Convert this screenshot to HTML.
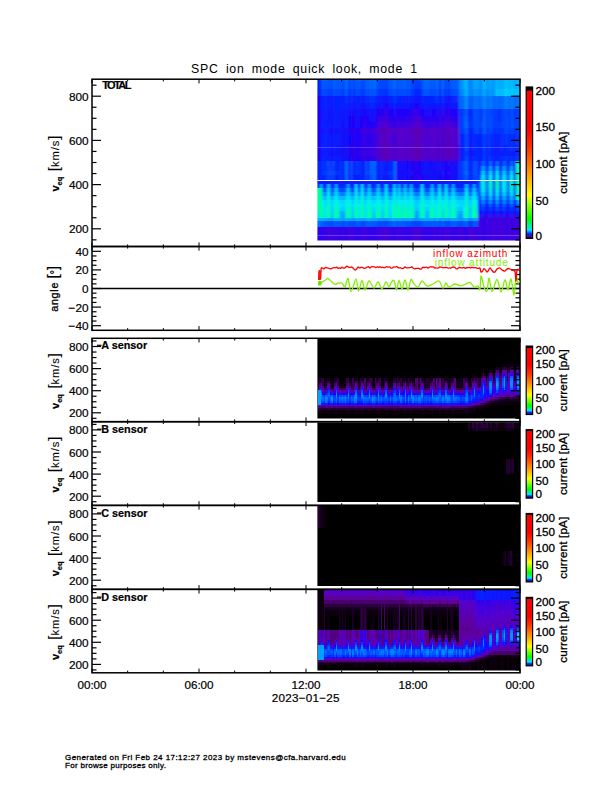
<!DOCTYPE html><html><head><meta charset="utf-8"><style>html,body{margin:0;padding:0;background:#fff;width:612px;height:792px;overflow:hidden;position:relative}</style></head><body><svg width="612" height="792" viewBox="0 0 612 792" style="position:absolute;left:0;top:0">
<rect width="612" height="792" fill="#fff"/>
<defs><filter id="sblur" x="-5%" y="-5%" width="110%" height="110%"><feGaussianBlur stdDeviation="0.85 0.65"/><feColorMatrix type="matrix" values="1 0 0 0 0 0 1 0 0 0 0 0 1 0 0 0 0 0 0 1"/></filter><filter id="sblur2" x="-5%" y="-5%" width="110%" height="110%"><feGaussianBlur stdDeviation="0.6 0.4"/><feColorMatrix type="matrix" values="1 0 0 0 0 0 1 0 0 0 0 0 1 0 0 0 0 0 0 1"/></filter></defs>
<clipPath id="cp1"><rect x="317.4" y="79.2" width="202.6" height="161.39999999999998"/></clipPath>
<g clip-path="url(#cp1)"><g filter="url(#sblur)">
<g transform="scale(0.5)" shape-rendering="crispEdges">
<path fill="#0028ff" d="M635 158h6v4h-6zM635 162h6v15h-6zM656 177h3v14h-3zM662 177h3v14h-3zM683 177h3v14h-3zM695 177h6v14h-6zM707 177h3v14h-3zM743 177h3v14h-3zM758 177h3v14h-3zM764 177h3v14h-3zM770 177h6v14h-6zM791 177h3v14h-3zM821 177h3v14h-3zM827 177h15v14h-15zM878 177h3v14h-3zM887 177h3v14h-3zM896 177h3v14h-3zM1040 177h0v14h0zM644 191h6v14h-6zM653 191h3v14h-3zM659 191h3v14h-3zM665 191h6v14h-6zM674 191h3v14h-3zM680 191h3v14h-3zM689 191h3v14h-3zM710 191h3v14h-3zM716 191h3v14h-3zM734 191h6v14h-6zM749 191h3v14h-3zM761 191h3v14h-3zM782 191h6v14h-6zM794 191h3v14h-3zM800 191h3v14h-3zM809 191h3v14h-3zM818 191h3v14h-3zM848 191h3v14h-3zM854 191h3v14h-3zM860 191h3v14h-3zM866 191h3v14h-3zM875 191h3v14h-3zM893 191h3v14h-3zM899 191h3v14h-3zM905 191h3v14h-3zM1040 191h0v14h0zM644 205h6v13h-6zM653 205h3v13h-3zM659 205h3v13h-3zM665 205h6v13h-6zM674 205h3v13h-3zM680 205h3v13h-3zM689 205h6v13h-6zM701 205h3v13h-3zM731 205h3v13h-3zM740 205h3v13h-3zM746 205h3v13h-3zM788 205h3v13h-3zM884 205h3v13h-3zM1040 205h0v13h0zM653 218h3v13h-3zM659 218h3v13h-3zM665 218h3v13h-3zM920 218h3v13h-3zM935 218h9v13h-9zM959 218h3v13h-3zM998 218h3v13h-3zM1028 218h3v13h-3zM1034 218h3v13h-3zM653 231h3v13h-3zM659 231h3v13h-3zM665 231h3v13h-3zM920 231h3v13h-3zM938 231h6v13h-6zM959 231h3v13h-3zM998 231h3v13h-3zM1034 231h3v13h-3zM644 244h3v12h-3zM653 244h3v12h-3zM659 244h3v12h-3zM665 244h3v12h-3zM920 244h3v12h-3zM938 244h3v12h-3zM959 244h3v12h-3zM998 244h3v12h-3zM1034 244h3v12h-3zM653 256h3v11h-3zM920 256h3v11h-3zM935 256h12v11h-12zM959 256h3v11h-3zM974 256h3v11h-3zM986 256h3v11h-3zM998 256h3v11h-3zM1004 256h3v11h-3zM1028 256h3v11h-3zM1034 256h3v11h-3zM644 267h6v12h-6zM653 267h3v12h-3zM659 267h3v12h-3zM665 267h3v12h-3zM923 267h6v12h-6zM950 267h9v12h-9zM962 267h3v12h-3zM980 267h3v12h-3zM989 267h9v12h-9zM1016 267h6v12h-6zM1025 267h3v12h-3zM1040 267h0v12h0zM644 279h6v11h-6zM653 279h3v11h-3zM659 279h3v11h-3zM665 279h3v11h-3zM923 279h6v11h-6zM950 279h9v11h-9zM962 279h3v11h-3zM980 279h3v11h-3zM989 279h9v11h-9zM1016 279h6v11h-6zM1025 279h3v11h-3zM1040 279h0v11h0zM644 290h3v11h-3zM653 290h3v11h-3zM659 290h3v11h-3zM665 290h3v11h-3zM917 290h3v11h-3zM923 290h6v11h-6zM950 290h9v11h-9zM962 290h3v11h-3zM971 290h3v11h-3zM980 290h6v11h-6zM995 290h3v11h-3zM1007 290h6v11h-6zM1025 290h3v11h-3zM653 301h3v10h-3zM917 301h3v10h-3zM923 301h3v10h-3zM947 301h9v10h-9zM971 301h3v10h-3zM983 301h3v10h-3zM1001 301h3v10h-3zM1007 301h9v10h-9zM1022 301h3v10h-3zM644 311h3v10h-3zM653 311h3v10h-3zM659 311h3v10h-3zM665 311h3v10h-3zM917 311h3v10h-3zM923 311h6v10h-6zM950 311h9v10h-9zM962 311h3v10h-3zM971 311h3v10h-3zM980 311h3v10h-3zM989 311h9v10h-9zM1025 311h3v10h-3zM635 321h9v10h-9zM647 321h6v10h-6zM668 321h12v10h-12zM686 321h3v10h-3zM713 321h3v10h-3zM719 321h9v10h-9zM734 321h3v10h-3zM752 321h6v10h-6zM767 321h3v10h-3zM776 321h9v10h-9zM920 321h3v10h-3zM938 321h6v10h-6zM974 321h3v10h-3zM983 321h3v10h-3zM1016 321h3v10h-3zM1025 321h3v10h-3zM635 331h3v10h-3zM641 331h3v10h-3zM647 331h6v10h-6zM668 331h12v10h-12zM686 331h3v10h-3zM719 331h6v10h-6zM734 331h3v10h-3zM752 331h6v10h-6zM767 331h3v10h-3zM776 331h9v10h-9zM920 331h3v10h-3zM935 331h9v10h-9zM959 331h3v10h-3zM998 331h6v10h-6zM635 341h9v9h-9zM650 341h3v9h-3zM671 341h3v9h-3zM677 341h3v9h-3zM686 341h3v9h-3zM704 341h3v9h-3zM713 341h3v9h-3zM719 341h9v9h-9zM752 341h6v9h-6zM767 341h3v9h-3zM779 341h3v9h-3zM920 341h3v9h-3zM938 341h3v9h-3zM956 341h3v9h-3zM971 341h3v9h-3zM1013 341h3v9h-3zM641 350h12v9h-12zM668 350h3v9h-3zM674 350h3v9h-3zM686 350h3v9h-3zM710 350h3v9h-3zM716 350h9v9h-9zM734 350h3v9h-3zM752 350h6v9h-6zM767 350h3v9h-3zM776 350h9v9h-9zM920 350h3v9h-3zM935 350h9v9h-9zM635 367h3v9h-3zM644 367h9v9h-9zM659 367h9v9h-9zM674 367h18v9h-18zM698 367h12v9h-12zM716 367h6v9h-6zM728 367h6v9h-6zM740 367h12v9h-12zM758 367h12v9h-12zM776 367h9v9h-9zM791 367h3v9h-3zM800 367h6v9h-6zM812 367h6v9h-6zM824 367h18v9h-18zM848 367h12v9h-12zM866 367h9v9h-9zM881 367h9v9h-9zM896 367h6v9h-6zM908 367h21v9h-21zM935 367h9v9h-9zM950 367h6v9h-6zM956 400h6v7h-6zM971 400h3v7h-3zM986 400h3v7h-3zM998 400h3v7h-3zM1028 400h3v7h-3zM1040 400h0v7h0zM974 407h3v7h-3zM983 407h3v7h-3zM1016 407h3v7h-3zM1025 407h3v7h-3zM968 414h3v7h-3zM989 414h3v7h-3zM1010 414h3v7h-3zM1031 414h3v7h-3zM965 421h3v7h-3zM977 421h6v7h-6zM992 421h6v7h-6zM1007 421h3v7h-3zM1019 421h6v7h-6zM1034 421h6v7h-6z"/>
<path fill="#005cff" d="M641 158h3v4h-3zM647 158h6v4h-6zM668 158h3v4h-3zM674 158h6v4h-6zM686 158h3v4h-3zM710 158h3v4h-3zM719 158h6v4h-6zM734 158h3v4h-3zM752 158h6v4h-6zM767 158h3v4h-3zM776 158h9v4h-9zM794 158h15v4h-15zM815 158h6v4h-6zM842 158h6v4h-6zM851 158h3v4h-3zM863 158h6v4h-6zM881 158h3v4h-3zM902 158h9v4h-9zM644 162h6v15h-6zM668 162h3v15h-3zM674 162h3v15h-3zM680 162h3v15h-3zM710 162h3v15h-3zM716 162h3v15h-3zM734 162h6v15h-6zM755 162h3v15h-3zM761 162h3v15h-3zM767 162h3v15h-3zM776 162h3v15h-3zM782 162h6v15h-6zM794 162h15v15h-15zM815 162h6v15h-6zM845 162h3v15h-3zM860 162h9v15h-9zM875 162h3v15h-3zM881 162h3v15h-3zM893 162h3v15h-3zM899 162h12v15h-12zM653 177h3v14h-3zM659 177h3v14h-3zM665 177h3v14h-3zM689 177h6v14h-6zM701 177h3v14h-3zM731 177h3v14h-3zM740 177h3v14h-3zM746 177h6v14h-6zM788 177h3v14h-3zM809 177h3v14h-3zM848 177h3v14h-3zM854 177h3v14h-3zM872 177h3v14h-3zM884 177h3v14h-3zM911 177h3v14h-3zM920 191h3v14h-3zM935 191h12v14h-12zM959 191h3v14h-3zM974 191h3v14h-3zM986 191h3v14h-3zM998 191h3v14h-3zM1004 191h3v14h-3zM1028 191h3v14h-3zM1034 191h3v14h-3zM920 205h3v13h-3zM935 205h12v13h-12zM959 205h3v13h-3zM974 205h3v13h-3zM986 205h3v13h-3zM998 205h3v13h-3zM1004 205h3v13h-3zM1028 205h3v13h-3zM1034 205h3v13h-3zM929 218h6v13h-6zM947 218h3v13h-3zM965 218h6v13h-6zM977 218h3v13h-3zM1022 218h3v13h-3zM1031 218h3v13h-3zM1037 218h3v13h-3zM932 231h3v13h-3zM947 231h3v13h-3zM968 231h3v13h-3zM977 231h3v13h-3zM1013 231h3v13h-3zM1022 231h3v13h-3zM1031 231h3v13h-3zM1037 231h3v13h-3zM947 244h3v12h-3zM968 244h3v12h-3zM977 244h3v12h-3zM1001 244h3v12h-3zM1013 244h3v12h-3zM1022 244h3v12h-3zM1031 244h3v12h-3zM1037 244h3v12h-3zM929 256h6v11h-6zM965 256h6v11h-6zM977 256h3v11h-3zM1031 256h3v11h-3zM1037 256h3v11h-3zM659 321h3v10h-3zM932 321h3v10h-3zM947 321h3v10h-3zM977 321h3v10h-3zM995 321h3v10h-3zM1019 321h3v10h-3zM653 331h3v10h-3zM659 331h3v10h-3zM665 331h3v10h-3zM749 331h3v10h-3zM932 331h3v10h-3zM947 331h3v10h-3zM989 331h3v10h-3zM947 341h3v9h-3zM974 341h3v9h-3zM1016 341h3v9h-3zM653 350h3v9h-3zM659 350h3v9h-3zM665 350h3v9h-3zM689 350h3v9h-3zM701 350h3v9h-3zM731 350h3v9h-3zM740 350h3v9h-3zM749 350h3v9h-3zM929 350h6v9h-6zM971 359h3v8h-3zM998 359h6v8h-6zM1013 359h3v8h-3zM638 367h3v9h-3zM668 367h3v9h-3zM692 367h3v9h-3zM734 367h3v9h-3zM752 367h3v9h-3zM794 367h3v9h-3zM806 367h3v9h-3zM818 367h3v9h-3zM860 367h3v9h-3zM902 367h3v9h-3zM944 367h3v9h-3zM956 367h3v9h-3zM971 367h3v9h-3zM998 367h6v9h-6zM1013 367h3v9h-3zM956 376h3v8h-3zM971 376h3v8h-3zM1001 376h3v8h-3zM1013 376h3v8h-3zM971 384h6v8h-6zM1001 384h3v8h-3zM1013 384h6v8h-6zM983 392h3v8h-3zM1025 392h3v8h-3zM968 400h3v7h-3zM1010 400h3v7h-3zM977 407h6v7h-6zM995 407h3v7h-3zM1019 407h6v7h-6zM1037 407h3v7h-3zM644 441h6v7h-6zM653 441h3v7h-3zM659 441h3v7h-3zM665 441h6v7h-6zM674 441h3v7h-3zM680 441h3v7h-3zM689 441h6v7h-6zM701 441h3v7h-3zM710 441h3v7h-3zM716 441h3v7h-3zM731 441h12v7h-12zM746 441h6v7h-6zM755 441h3v7h-3zM761 441h3v7h-3zM776 441h3v7h-3zM782 441h6v7h-6zM794 441h18v7h-18zM818 441h3v7h-3zM845 441h6v7h-6zM854 441h3v7h-3zM860 441h9v7h-9zM872 441h6v7h-6zM893 441h3v7h-3zM899 441h15v7h-15zM917 441h3v7h-3zM923 441h3v7h-3zM932 441h3v7h-3zM947 441h6v7h-6zM644 448h6v6h-6zM653 448h3v6h-3zM659 448h3v6h-3zM665 448h6v6h-6zM674 448h3v6h-3zM680 448h3v6h-3zM689 448h6v6h-6zM701 448h3v6h-3zM710 448h3v6h-3zM716 448h3v6h-3zM731 448h12v6h-12zM746 448h6v6h-6zM755 448h3v6h-3zM761 448h3v6h-3zM776 448h3v6h-3zM782 448h6v6h-6zM794 448h18v6h-18zM818 448h3v6h-3zM845 448h6v6h-6zM854 448h3v6h-3zM860 448h9v6h-9zM872 448h6v6h-6zM893 448h3v6h-3zM899 448h15v6h-15zM917 448h3v6h-3zM923 448h3v6h-3zM932 448h3v6h-3zM947 448h6v6h-6z"/>
<path fill="#006eff" d="M644 158h3v4h-3zM653 158h3v4h-3zM659 158h3v4h-3zM665 158h3v4h-3zM680 158h3v4h-3zM689 158h6v4h-6zM701 158h3v4h-3zM716 158h3v4h-3zM731 158h3v4h-3zM737 158h6v4h-6zM746 158h6v4h-6zM761 158h3v4h-3zM785 158h6v4h-6zM809 158h3v4h-3zM848 158h3v4h-3zM854 158h3v4h-3zM860 158h3v4h-3zM872 158h6v4h-6zM884 158h3v4h-3zM893 158h3v4h-3zM899 158h3v4h-3zM911 158h3v4h-3zM653 162h3v15h-3zM659 162h3v15h-3zM665 162h3v15h-3zM689 162h6v15h-6zM701 162h3v15h-3zM731 162h3v15h-3zM740 162h3v15h-3zM746 162h6v15h-6zM788 162h3v15h-3zM809 162h3v15h-3zM848 162h3v15h-3zM854 162h3v15h-3zM872 162h3v15h-3zM884 162h3v15h-3zM911 162h3v15h-3zM959 177h3v14h-3zM923 191h6v14h-6zM950 191h9v14h-9zM962 191h3v14h-3zM980 191h3v14h-3zM989 191h9v14h-9zM1016 191h6v14h-6zM1025 191h3v14h-3zM923 205h6v13h-6zM950 205h9v13h-9zM962 205h3v13h-3zM980 205h3v13h-3zM989 205h9v13h-9zM1016 205h6v13h-6zM1025 205h3v13h-3zM929 231h3v13h-3zM965 231h3v13h-3zM929 244h6v12h-6zM965 244h3v12h-3zM653 321h3v10h-3zM665 321h3v10h-3zM689 321h6v10h-6zM701 321h3v10h-3zM731 321h3v10h-3zM740 321h3v10h-3zM746 321h6v10h-6zM788 321h3v10h-3zM929 321h3v10h-3zM965 321h3v10h-3zM980 321h3v10h-3zM992 321h3v10h-3zM1007 321h3v10h-3zM1022 321h3v10h-3zM689 331h6v10h-6zM701 331h3v10h-3zM731 331h3v10h-3zM740 331h3v10h-3zM746 331h3v10h-3zM788 331h3v10h-3zM929 331h3v10h-3zM968 331h3v10h-3zM1010 331h3v10h-3zM653 341h3v9h-3zM659 341h3v9h-3zM665 341h3v9h-3zM689 341h6v9h-6zM701 341h3v9h-3zM731 341h3v9h-3zM740 341h3v9h-3zM746 341h6v9h-6zM788 341h3v9h-3zM929 341h6v9h-6zM983 341h3v9h-3zM1025 341h3v9h-3zM692 350h3v9h-3zM746 350h3v9h-3zM788 350h3v9h-3zM974 350h3v9h-3zM1016 350h3v9h-3zM707 376h3v8h-3zM719 376h3v8h-3zM767 376h3v8h-3zM839 376h3v8h-3zM887 376h3v8h-3zM974 376h3v8h-3zM1016 376h3v8h-3zM662 384h3v8h-3zM683 384h3v8h-3zM827 384h3v8h-3zM833 384h3v8h-3zM896 384h3v8h-3zM920 384h3v8h-3zM938 384h6v8h-6zM983 384h3v8h-3zM1025 384h3v8h-3zM989 392h3v8h-3zM962 400h3v7h-3zM1004 400h3v7h-3zM965 407h3v7h-3zM992 407h3v7h-3zM1007 407h3v7h-3zM1034 407h3v7h-3zM635 441h6v7h-6zM788 441h3v7h-3zM884 441h3v7h-3zM929 441h3v7h-3zM635 448h6v6h-6zM788 448h3v6h-3zM884 448h3v6h-3zM929 448h3v6h-3z"/>
<path fill="#003aff" d="M656 158h3v4h-3zM662 158h3v4h-3zM683 158h3v4h-3zM707 158h3v4h-3zM758 158h3v4h-3zM764 158h3v4h-3zM770 158h6v4h-6zM791 158h3v4h-3zM821 158h3v4h-3zM827 158h9v4h-9zM878 158h3v4h-3zM887 158h3v4h-3zM896 158h3v4h-3zM656 162h3v15h-3zM662 162h3v15h-3zM683 162h3v15h-3zM695 162h6v15h-6zM707 162h3v15h-3zM743 162h3v15h-3zM758 162h3v15h-3zM764 162h3v15h-3zM770 162h6v15h-6zM791 162h3v15h-3zM821 162h3v15h-3zM827 162h15v15h-15zM878 162h3v15h-3zM887 162h3v15h-3zM896 162h3v15h-3zM641 177h3v14h-3zM650 177h3v14h-3zM671 177h3v14h-3zM677 177h3v14h-3zM686 177h3v14h-3zM704 177h3v14h-3zM713 177h3v14h-3zM719 177h12v14h-12zM752 177h3v14h-3zM779 177h3v14h-3zM812 177h3v14h-3zM824 177h3v14h-3zM842 177h3v14h-3zM851 177h3v14h-3zM857 177h3v14h-3zM869 177h3v14h-3zM890 177h3v14h-3zM914 177h3v14h-3zM692 191h3v14h-3zM701 191h3v14h-3zM731 191h3v14h-3zM740 191h3v14h-3zM746 191h3v14h-3zM788 191h3v14h-3zM872 191h3v14h-3zM884 191h3v14h-3zM911 191h3v14h-3zM926 218h3v13h-3zM944 218h3v13h-3zM962 218h3v13h-3zM974 218h3v13h-3zM980 218h3v13h-3zM986 218h12v13h-12zM1004 218h3v13h-3zM1016 218h6v13h-6zM1025 218h3v13h-3zM935 231h3v13h-3zM944 231h3v13h-3zM962 231h3v13h-3zM974 231h3v13h-3zM986 231h12v13h-12zM1004 231h3v13h-3zM1016 231h6v13h-6zM1025 231h6v13h-6zM935 244h3v12h-3zM941 244h6v12h-6zM974 244h3v12h-3zM986 244h9v12h-9zM1004 244h3v12h-3zM1016 244h6v12h-6zM1028 244h3v12h-3zM926 256h3v11h-3zM956 256h3v11h-3zM962 256h3v11h-3zM980 256h3v11h-3zM989 256h9v11h-9zM1016 256h6v11h-6zM1025 256h3v11h-3zM917 267h3v12h-3zM947 267h3v12h-3zM968 267h6v12h-6zM983 267h3v12h-3zM1001 267h3v12h-3zM1007 267h9v12h-9zM1022 267h3v12h-3zM917 279h3v11h-3zM947 279h3v11h-3zM968 279h6v11h-6zM983 279h3v11h-3zM1001 279h3v11h-3zM1007 279h9v11h-9zM1022 279h3v11h-3zM947 290h3v11h-3zM968 290h3v11h-3zM1001 290h3v11h-3zM1013 290h3v11h-3zM1022 290h3v11h-3zM1031 290h3v11h-3zM1037 290h3v11h-3zM929 301h6v10h-6zM965 301h6v10h-6zM977 301h3v10h-3zM1031 301h3v10h-3zM1037 301h3v10h-3zM947 311h3v10h-3zM968 311h3v10h-3zM983 311h3v10h-3zM1001 311h3v10h-3zM1007 311h9v10h-9zM1022 311h3v10h-3zM644 321h3v10h-3zM680 321h3v10h-3zM710 321h3v10h-3zM716 321h3v10h-3zM737 321h3v10h-3zM761 321h3v10h-3zM785 321h3v10h-3zM935 321h3v10h-3zM944 321h3v10h-3zM989 321h3v10h-3zM644 331h3v10h-3zM680 331h3v10h-3zM710 331h3v10h-3zM716 331h3v10h-3zM737 331h3v10h-3zM761 331h3v10h-3zM785 331h3v10h-3zM926 331h3v10h-3zM944 331h3v10h-3zM974 331h3v10h-3zM1016 331h3v10h-3zM644 341h6v9h-6zM668 341h3v9h-3zM674 341h3v9h-3zM680 341h3v9h-3zM710 341h3v9h-3zM716 341h3v9h-3zM734 341h6v9h-6zM761 341h3v9h-3zM776 341h3v9h-3zM782 341h6v9h-6zM935 341h3v9h-3zM941 341h6v9h-6zM959 341h3v9h-3zM998 341h6v9h-6zM680 350h3v9h-3zM737 350h3v9h-3zM761 350h3v9h-3zM785 350h3v9h-3zM926 350h3v9h-3zM944 350h3v9h-3zM956 350h6v9h-6zM986 350h3v9h-3zM1028 350h3v9h-3zM959 384h3v8h-3zM959 392h3v8h-3zM986 392h3v8h-3zM998 392h3v8h-3zM1028 392h3v8h-3zM974 400h3v7h-3zM983 400h3v7h-3zM1001 400h3v7h-3zM1013 400h6v7h-6zM1025 400h3v7h-3zM968 407h3v7h-3zM989 407h3v7h-3zM1010 407h3v7h-3zM1031 407h3v7h-3zM962 414h3v7h-3zM977 414h6v7h-6zM995 414h3v7h-3zM1004 414h3v7h-3zM1019 414h6v7h-6zM1037 414h3v7h-3zM662 441h3v7h-3zM683 441h3v7h-3zM707 441h3v7h-3zM758 441h3v7h-3zM773 441h3v7h-3zM791 441h3v7h-3zM821 441h3v7h-3zM827 441h3v7h-3zM833 441h3v7h-3zM887 441h3v7h-3zM896 441h3v7h-3zM920 441h3v7h-3zM938 441h6v7h-6zM662 448h3v6h-3zM683 448h3v6h-3zM707 448h3v6h-3zM758 448h3v6h-3zM773 448h3v6h-3zM791 448h3v6h-3zM821 448h3v6h-3zM827 448h3v6h-3zM833 448h3v6h-3zM887 448h3v6h-3zM896 448h3v6h-3zM920 448h3v6h-3zM938 448h6v6h-6z"/>
<path fill="#004bff" d="M671 158h3v4h-3zM695 158h6v4h-6zM704 158h3v4h-3zM713 158h3v4h-3zM725 158h6v4h-6zM743 158h3v4h-3zM812 158h3v4h-3zM824 158h3v4h-3zM836 158h6v4h-6zM857 158h3v4h-3zM869 158h3v4h-3zM890 158h3v4h-3zM914 158h3v4h-3zM641 162h3v15h-3zM650 162h3v15h-3zM671 162h3v15h-3zM677 162h3v15h-3zM686 162h3v15h-3zM704 162h3v15h-3zM713 162h3v15h-3zM719 162h12v15h-12zM752 162h3v15h-3zM779 162h3v15h-3zM812 162h3v15h-3zM824 162h3v15h-3zM842 162h3v15h-3zM851 162h3v15h-3zM857 162h3v15h-3zM869 162h3v15h-3zM890 162h3v15h-3zM914 162h3v15h-3zM644 177h6v14h-6zM668 177h3v14h-3zM674 177h3v14h-3zM680 177h3v14h-3zM710 177h3v14h-3zM716 177h3v14h-3zM734 177h6v14h-6zM755 177h3v14h-3zM761 177h3v14h-3zM767 177h3v14h-3zM776 177h3v14h-3zM782 177h6v14h-6zM794 177h15v14h-15zM815 177h6v14h-6zM845 177h3v14h-3zM860 177h9v14h-9zM875 177h3v14h-3zM881 177h3v14h-3zM893 177h3v14h-3zM899 177h12v14h-12zM917 218h3v13h-3zM923 218h3v13h-3zM950 218h9v13h-9zM971 218h3v13h-3zM983 218h3v13h-3zM1001 218h3v13h-3zM1007 218h9v13h-9zM917 231h3v13h-3zM923 231h6v13h-6zM950 231h9v13h-9zM971 231h3v13h-3zM980 231h6v13h-6zM1001 231h3v13h-3zM1007 231h6v13h-6zM917 244h3v12h-3zM923 244h6v12h-6zM950 244h9v12h-9zM962 244h3v12h-3zM971 244h3v12h-3zM980 244h6v12h-6zM995 244h3v12h-3zM1007 244h6v12h-6zM1025 244h3v12h-3zM917 256h3v11h-3zM923 256h3v11h-3zM947 256h9v11h-9zM971 256h3v11h-3zM983 256h3v11h-3zM1001 256h3v11h-3zM1007 256h9v11h-9zM1022 256h3v11h-3zM929 267h6v12h-6zM965 267h3v12h-3zM977 267h3v12h-3zM1031 267h3v12h-3zM1037 267h3v12h-3zM929 279h6v11h-6zM965 279h3v11h-3zM977 279h3v11h-3zM1031 279h3v11h-3zM1037 279h3v11h-3zM929 290h6v11h-6zM965 290h3v11h-3zM977 290h3v11h-3zM929 311h6v10h-6zM965 311h3v10h-3zM977 311h3v10h-3zM1031 311h3v10h-3zM1037 311h3v10h-3zM917 321h3v10h-3zM923 321h6v10h-6zM950 321h6v10h-6zM962 321h3v10h-3zM968 321h3v10h-3zM1004 321h3v10h-3zM1010 321h3v10h-3zM917 331h3v10h-3zM923 331h3v10h-3zM950 331h6v10h-6zM983 331h3v10h-3zM1025 331h3v10h-3zM917 341h3v9h-3zM923 341h6v9h-6zM950 341h6v9h-6zM917 350h3v9h-3zM923 350h3v9h-3zM947 350h9v9h-9zM971 350h3v9h-3zM998 350h6v9h-6zM1013 350h3v9h-3zM956 359h6v8h-6zM986 359h3v8h-3zM1028 359h3v8h-3zM959 367h3v9h-3zM986 367h3v9h-3zM1028 367h3v9h-3zM647 376h6v8h-6zM659 376h9v8h-9zM677 376h15v8h-15zM701 376h6v8h-6zM716 376h3v8h-3zM728 376h6v8h-6zM743 376h9v8h-9zM761 376h6v8h-6zM776 376h9v8h-9zM791 376h3v8h-3zM803 376h3v8h-3zM815 376h3v8h-3zM827 376h12v8h-12zM848 376h12v8h-12zM869 376h6v8h-6zM881 376h6v8h-6zM896 376h6v8h-6zM911 376h18v8h-18zM935 376h9v8h-9zM953 376h3v8h-3zM959 376h3v8h-3zM986 376h3v8h-3zM998 376h3v8h-3zM1028 376h3v8h-3zM956 384h3v8h-3zM986 384h3v8h-3zM998 384h3v8h-3zM1028 384h3v8h-3zM956 392h3v8h-3zM971 392h6v8h-6zM1001 392h3v8h-3zM1013 392h6v8h-6zM989 400h3v7h-3zM1031 400h3v7h-3zM962 407h3v7h-3zM1004 407h3v7h-3zM965 414h3v7h-3zM992 414h3v7h-3zM1007 414h3v7h-3zM1034 414h3v7h-3zM641 441h3v7h-3zM650 441h3v7h-3zM656 441h3v7h-3zM671 441h3v7h-3zM677 441h3v7h-3zM686 441h3v7h-3zM695 441h6v7h-6zM704 441h3v7h-3zM713 441h3v7h-3zM719 441h12v7h-12zM743 441h3v7h-3zM752 441h3v7h-3zM764 441h9v7h-9zM779 441h3v7h-3zM812 441h6v7h-6zM824 441h3v7h-3zM830 441h3v7h-3zM836 441h9v7h-9zM851 441h3v7h-3zM857 441h3v7h-3zM869 441h3v7h-3zM878 441h6v7h-6zM890 441h3v7h-3zM914 441h3v7h-3zM926 441h3v7h-3zM935 441h3v7h-3zM944 441h3v7h-3zM953 441h3v7h-3zM641 448h3v6h-3zM650 448h3v6h-3zM656 448h3v6h-3zM671 448h3v6h-3zM677 448h3v6h-3zM686 448h3v6h-3zM695 448h6v6h-6zM704 448h3v6h-3zM713 448h3v6h-3zM719 448h12v6h-12zM743 448h3v6h-3zM752 448h3v6h-3zM764 448h9v6h-9zM779 448h3v6h-3zM812 448h6v6h-6zM824 448h3v6h-3zM830 448h3v6h-3zM836 448h9v6h-9zM851 448h3v6h-3zM857 448h3v6h-3zM869 448h3v6h-3zM878 448h6v6h-6zM890 448h3v6h-3zM914 448h3v6h-3zM926 448h3v6h-3zM935 448h3v6h-3zM944 448h3v6h-3zM953 448h3v6h-3z"/>
<path fill="#00a2ff" d="M917 158h3v4h-3zM923 158h6v4h-6zM950 158h9v4h-9zM962 158h3v4h-3zM971 158h3v4h-3zM980 158h6v4h-6zM998 158h3v4h-3zM1004 158h3v4h-3zM1028 158h3v4h-3zM1034 158h3v4h-3zM917 162h3v15h-3zM923 162h6v15h-6zM950 162h9v15h-9zM971 162h3v15h-3zM980 162h6v15h-6zM998 162h3v15h-3zM1004 162h3v15h-3zM1028 162h3v15h-3zM1034 162h3v15h-3zM947 177h3v14h-3zM968 177h3v14h-3zM983 177h3v14h-3zM977 331h6v10h-6zM1019 331h6v10h-6zM989 350h3v9h-3zM653 367h3v9h-3zM785 367h3v9h-3zM875 367h3v9h-3zM929 367h3v9h-3zM668 376h3v8h-3zM692 376h3v8h-3zM734 376h3v8h-3zM752 376h3v8h-3zM794 376h3v8h-3zM806 376h3v8h-3zM818 376h3v8h-3zM860 376h3v8h-3zM902 376h3v8h-3zM944 376h3v8h-3zM989 376h3v8h-3zM707 384h3v8h-3zM719 384h3v8h-3zM767 384h3v8h-3zM839 384h3v8h-3zM887 384h3v8h-3zM968 384h3v8h-3zM1010 384h3v8h-3zM833 392h3v8h-3zM995 392h3v8h-3zM965 400h3v7h-3zM992 400h3v7h-3zM1007 400h3v7h-3zM1034 400h3v7h-3zM683 421h3v7h-3zM830 421h6v7h-6zM920 421h3v7h-3zM686 428h3v7h-3zM779 428h3v7h-3zM851 428h3v7h-3zM914 428h6v7h-6zM923 428h3v7h-3zM641 435h3v6h-3zM650 435h3v6h-3zM671 435h3v6h-3zM677 435h3v6h-3zM686 435h3v6h-3zM695 435h6v6h-6zM704 435h3v6h-3zM713 435h3v6h-3zM719 435h12v6h-12zM743 435h3v6h-3zM752 435h6v6h-6zM767 435h3v6h-3zM776 435h6v6h-6zM797 435h3v6h-3zM803 435h6v6h-6zM812 435h6v6h-6zM824 435h3v6h-3zM836 435h12v6h-12zM851 435h3v6h-3zM857 435h3v6h-3zM863 435h9v6h-9zM881 435h3v6h-3zM890 435h3v6h-3zM902 435h3v6h-3zM908 435h3v6h-3zM914 435h6v6h-6zM923 435h6v6h-6zM950 435h6v6h-6z"/>
<path fill="#0080ff" d="M920 158h3v4h-3zM938 158h3v4h-3zM959 158h3v4h-3zM920 162h3v15h-3zM935 162h9v15h-9zM959 162h3v15h-3zM920 177h3v14h-3zM935 177h12v14h-12zM974 177h3v14h-3zM986 177h3v14h-3zM917 191h3v14h-3zM947 191h3v14h-3zM968 191h6v14h-6zM983 191h3v14h-3zM1001 191h3v14h-3zM1007 191h9v14h-9zM1022 191h3v14h-3zM917 205h3v13h-3zM947 205h3v13h-3zM968 205h6v13h-6zM983 205h3v13h-3zM1001 205h3v13h-3zM1007 205h9v13h-9zM1022 205h3v13h-3zM962 331h3v10h-3zM1004 331h3v10h-3zM989 341h3v9h-3zM983 350h3v9h-3zM1025 350h3v9h-3zM974 359h3v8h-3zM1016 359h3v8h-3zM713 367h3v9h-3zM725 367h3v9h-3zM773 367h3v9h-3zM845 367h3v9h-3zM893 367h3v9h-3zM974 367h3v9h-3zM1016 367h3v9h-3zM644 376h3v8h-3zM674 376h3v8h-3zM698 376h3v8h-3zM740 376h3v8h-3zM758 376h3v8h-3zM800 376h3v8h-3zM812 376h3v8h-3zM824 376h3v8h-3zM866 376h3v8h-3zM908 376h3v8h-3zM950 376h3v8h-3zM983 376h3v8h-3zM1025 376h3v8h-3zM647 384h6v8h-6zM659 384h3v8h-3zM665 384h3v8h-3zM677 384h6v8h-6zM686 384h6v8h-6zM701 384h6v8h-6zM716 384h3v8h-3zM728 384h6v8h-6zM743 384h9v8h-9zM761 384h6v8h-6zM776 384h9v8h-9zM791 384h3v8h-3zM803 384h3v8h-3zM815 384h3v8h-3zM830 384h3v8h-3zM836 384h3v8h-3zM848 384h12v8h-12zM869 384h6v8h-6zM881 384h6v8h-6zM899 384h3v8h-3zM911 384h9v8h-9zM923 384h6v8h-6zM935 384h3v8h-3zM953 384h3v8h-3zM968 392h3v8h-3zM1010 392h3v8h-3zM995 400h3v7h-3zM1037 400h3v7h-3z"/>
<path fill="#00c2ff" d="M929 158h6v4h-6zM965 158h3v4h-3zM977 158h3v4h-3zM1001 158h3v4h-3zM1007 158h9v4h-9zM929 162h3v15h-3zM965 162h3v15h-3zM1001 162h3v15h-3zM1007 162h9v15h-9zM1022 162h3v15h-3zM989 177h9v14h-9zM1016 177h6v14h-6zM1025 177h3v14h-3zM995 341h3v9h-3zM968 359h3v8h-3zM1010 359h3v8h-3zM656 367h3v9h-3zM788 367h3v9h-3zM878 367h3v9h-3zM932 367h3v9h-3zM968 367h3v9h-3zM1010 367h3v9h-3zM968 376h3v8h-3zM1010 376h3v8h-3zM668 384h3v8h-3zM692 384h3v8h-3zM734 384h3v8h-3zM752 384h3v8h-3zM794 384h3v8h-3zM806 384h3v8h-3zM818 384h3v8h-3zM860 384h3v8h-3zM902 384h3v8h-3zM944 384h3v8h-3zM962 384h3v8h-3zM1004 384h3v8h-3zM659 392h3v8h-3zM665 392h3v8h-3zM680 392h3v8h-3zM689 392h3v8h-3zM701 392h3v8h-3zM707 392h3v8h-3zM716 392h6v8h-6zM731 392h3v8h-3zM746 392h6v8h-6zM761 392h3v8h-3zM767 392h3v8h-3zM839 392h3v8h-3zM848 392h3v8h-3zM854 392h3v8h-3zM872 392h3v8h-3zM884 392h6v8h-6zM899 392h3v8h-3zM911 392h3v8h-3zM980 392h3v8h-3zM1022 392h3v8h-3zM662 414h3v7h-3zM833 414h3v7h-3zM920 414h3v7h-3zM938 414h3v7h-3zM704 421h3v7h-3zM746 421h3v7h-3zM764 421h3v7h-3zM836 421h3v7h-3zM884 421h3v7h-3zM704 428h3v7h-3zM764 428h3v7h-3zM836 428h3v7h-3zM884 428h3v7h-3z"/>
<path fill="#0091ff" d="M935 158h3v4h-3zM941 158h6v4h-6zM974 158h3v4h-3zM986 158h3v4h-3zM944 162h3v15h-3zM962 162h3v15h-3zM974 162h3v15h-3zM986 162h3v15h-3zM917 177h3v14h-3zM923 177h6v14h-6zM950 177h9v14h-9zM962 177h3v14h-3zM971 177h3v14h-3zM980 177h3v14h-3zM929 191h6v14h-6zM965 191h3v14h-3zM977 191h3v14h-3zM1031 191h3v14h-3zM1037 191h3v14h-3zM929 205h6v13h-6zM965 205h3v13h-3zM977 205h3v13h-3zM1031 205h3v13h-3zM1037 205h3v13h-3zM995 331h3v10h-3zM968 341h3v9h-3zM1010 341h3v9h-3zM983 359h3v8h-3zM1025 359h3v8h-3zM983 367h3v9h-3zM1025 367h3v9h-3zM989 384h3v8h-3zM962 392h3v8h-3zM1004 392h3v8h-3zM977 400h6v7h-6zM1019 400h6v7h-6zM683 428h3v7h-3zM830 428h6v7h-6zM920 428h3v7h-3zM656 435h3v6h-3zM662 435h3v6h-3zM683 435h3v6h-3zM707 435h3v6h-3zM758 435h3v6h-3zM764 435h3v6h-3zM770 435h6v6h-6zM791 435h3v6h-3zM821 435h3v6h-3zM827 435h9v6h-9zM878 435h3v6h-3zM887 435h3v6h-3zM896 435h3v6h-3zM920 435h3v6h-3zM935 435h12v6h-12z"/>
<path fill="#00b4ff" d="M947 158h3v4h-3zM968 158h3v4h-3zM989 158h9v4h-9zM1016 158h6v4h-6zM1025 158h3v4h-3zM932 162h3v15h-3zM947 162h3v15h-3zM968 162h3v15h-3zM977 162h3v15h-3zM989 162h9v15h-9zM1016 162h6v15h-6zM1025 162h3v15h-3zM929 177h6v14h-6zM965 177h3v14h-3zM977 177h3v14h-3zM998 177h3v14h-3zM1004 177h3v14h-3zM1028 177h3v14h-3zM1034 177h3v14h-3zM965 331h3v10h-3zM992 331h3v10h-3zM1007 331h3v10h-3zM962 341h3v9h-3zM1004 341h3v9h-3zM968 350h3v9h-3zM1010 350h3v9h-3zM989 359h3v8h-3zM989 367h3v9h-3zM713 376h3v8h-3zM725 376h3v8h-3zM773 376h3v8h-3zM845 376h3v8h-3zM893 376h3v8h-3zM644 384h3v8h-3zM674 384h3v8h-3zM698 384h3v8h-3zM740 384h3v8h-3zM758 384h3v8h-3zM800 384h3v8h-3zM812 384h3v8h-3zM824 384h3v8h-3zM866 384h3v8h-3zM908 384h3v8h-3zM950 384h3v8h-3zM647 392h6v8h-6zM662 392h3v8h-3zM677 392h3v8h-3zM683 392h6v8h-6zM704 392h3v8h-3zM728 392h3v8h-3zM743 392h3v8h-3zM764 392h3v8h-3zM776 392h9v8h-9zM791 392h3v8h-3zM803 392h3v8h-3zM815 392h3v8h-3zM827 392h6v8h-6zM836 392h3v8h-3zM851 392h3v8h-3zM857 392h3v8h-3zM869 392h3v8h-3zM881 392h3v8h-3zM896 392h3v8h-3zM914 392h15v8h-15zM935 392h9v8h-9zM953 392h3v8h-3zM977 392h3v8h-3zM1019 392h3v8h-3zM662 421h3v7h-3zM680 421h3v7h-3zM686 421h3v7h-3zM779 421h3v7h-3zM851 421h6v7h-6zM914 421h6v7h-6zM923 421h3v7h-3zM938 421h3v7h-3zM662 428h3v7h-3zM680 428h3v7h-3zM746 428h3v7h-3zM854 428h3v7h-3zM938 428h3v7h-3zM635 435h6v6h-6zM644 435h6v6h-6zM653 435h3v6h-3zM659 435h3v6h-3zM665 435h6v6h-6zM674 435h3v6h-3zM680 435h3v6h-3zM689 435h6v6h-6zM701 435h3v6h-3zM710 435h3v6h-3zM716 435h3v6h-3zM731 435h12v6h-12zM746 435h6v6h-6zM761 435h3v6h-3zM782 435h9v6h-9zM794 435h3v6h-3zM800 435h3v6h-3zM809 435h3v6h-3zM818 435h3v6h-3zM848 435h3v6h-3zM854 435h3v6h-3zM860 435h3v6h-3zM872 435h6v6h-6zM884 435h3v6h-3zM893 435h3v6h-3zM899 435h3v6h-3zM905 435h3v6h-3zM911 435h3v6h-3zM929 435h6v6h-6zM947 435h3v6h-3z"/>
<path fill="#00d0ff" d="M1022 158h3v4h-3zM1031 158h3v4h-3zM1037 158h3v4h-3zM1031 162h3v15h-3zM1037 162h3v15h-3zM1001 177h3v14h-3zM1007 177h9v14h-9zM1022 177h3v14h-3zM977 341h3v9h-3zM1019 341h3v9h-3zM962 350h3v9h-3zM1004 350h3v9h-3zM653 376h3v8h-3zM785 376h3v8h-3zM875 376h3v8h-3zM929 376h3v8h-3zM713 384h3v8h-3zM725 384h3v8h-3zM773 384h3v8h-3zM845 384h3v8h-3zM893 384h3v8h-3zM995 384h3v8h-3zM644 392h3v8h-3zM674 392h3v8h-3zM698 392h3v8h-3zM740 392h3v8h-3zM758 392h3v8h-3zM800 392h3v8h-3zM812 392h3v8h-3zM824 392h3v8h-3zM866 392h3v8h-3zM908 392h3v8h-3zM950 392h3v8h-3zM965 392h3v8h-3zM992 392h3v8h-3zM1007 392h3v8h-3zM662 400h3v7h-3zM683 400h3v7h-3zM704 400h3v7h-3zM728 400h3v7h-3zM743 400h3v7h-3zM764 400h3v7h-3zM791 400h3v7h-3zM827 400h12v7h-12zM857 400h3v7h-3zM869 400h3v7h-3zM896 400h3v7h-3zM914 400h3v7h-3zM920 400h3v7h-3zM926 400h3v7h-3zM935 400h9v7h-9zM662 407h3v7h-3zM683 407h3v7h-3zM827 407h9v7h-9zM896 407h3v7h-3zM920 407h3v7h-3zM938 407h6v7h-6zM677 414h3v7h-3zM683 414h6v7h-6zM704 414h3v7h-3zM743 414h3v7h-3zM764 414h3v7h-3zM779 414h3v7h-3zM803 414h3v7h-3zM815 414h3v7h-3zM827 414h6v7h-6zM836 414h3v7h-3zM851 414h3v7h-3zM857 414h3v7h-3zM869 414h3v7h-3zM914 414h6v7h-6zM923 414h3v7h-3zM941 414h3v7h-3zM953 414h3v7h-3zM647 421h3v7h-3zM677 421h3v7h-3zM701 421h3v7h-3zM743 421h3v7h-3zM761 421h3v7h-3zM827 421h3v7h-3zM869 421h3v7h-3zM911 421h3v7h-3zM953 421h3v7h-3zM647 428h3v7h-3zM677 428h3v7h-3zM701 428h3v7h-3zM743 428h3v7h-3zM761 428h3v7h-3zM827 428h3v7h-3zM869 428h3v7h-3zM911 428h3v7h-3zM953 428h3v7h-3z"/>
<path fill="#081efe" d="M1040 158h0v4h0zM1040 162h0v15h0zM635 177h6v14h-6zM641 191h3v14h-3zM650 191h3v14h-3zM671 191h3v14h-3zM677 191h3v14h-3zM686 191h3v14h-3zM704 191h3v14h-3zM713 191h3v14h-3zM719 191h9v14h-9zM752 191h6v14h-6zM767 191h3v14h-3zM776 191h6v14h-6zM797 191h3v14h-3zM803 191h6v14h-6zM812 191h6v14h-6zM824 191h3v14h-3zM842 191h6v14h-6zM851 191h3v14h-3zM857 191h3v14h-3zM863 191h3v14h-3zM881 191h3v14h-3zM902 191h3v14h-3zM908 191h3v14h-3zM914 191h3v14h-3zM641 205h3v13h-3zM650 205h3v13h-3zM671 205h3v13h-3zM677 205h3v13h-3zM686 205h3v13h-3zM710 205h3v13h-3zM716 205h3v13h-3zM734 205h6v13h-6zM749 205h3v13h-3zM761 205h3v13h-3zM785 205h3v13h-3zM809 205h3v13h-3zM848 205h3v13h-3zM854 205h3v13h-3zM860 205h3v13h-3zM872 205h6v13h-6zM893 205h3v13h-3zM899 205h3v13h-3zM905 205h3v13h-3zM911 205h3v13h-3zM644 218h6v13h-6zM668 218h3v13h-3zM674 218h3v13h-3zM680 218h3v13h-3zM689 218h6v13h-6zM701 218h3v13h-3zM1040 218h0v13h0zM641 231h12v13h-12zM668 231h3v13h-3zM674 231h3v13h-3zM680 231h3v13h-3zM689 231h6v13h-6zM1040 231h0v13h0zM641 244h3v12h-3zM647 244h6v12h-6zM668 244h3v12h-3zM674 244h3v12h-3zM680 244h3v12h-3zM689 244h6v12h-6zM1040 244h0v12h0zM644 256h6v11h-6zM659 256h3v11h-3zM665 256h3v11h-3zM1040 256h0v11h0zM641 267h3v12h-3zM650 267h3v12h-3zM668 267h3v12h-3zM674 267h3v12h-3zM680 267h3v12h-3zM920 267h3v12h-3zM935 267h12v12h-12zM959 267h3v12h-3zM974 267h3v12h-3zM986 267h3v12h-3zM998 267h3v12h-3zM1004 267h3v12h-3zM1028 267h3v12h-3zM1034 267h3v12h-3zM641 279h3v11h-3zM650 279h3v11h-3zM668 279h3v11h-3zM674 279h3v11h-3zM680 279h3v11h-3zM920 279h3v11h-3zM935 279h12v11h-12zM974 279h3v11h-3zM986 279h3v11h-3zM998 279h3v11h-3zM1004 279h3v11h-3zM1028 279h3v11h-3zM1034 279h3v11h-3zM641 290h3v11h-3zM647 290h6v11h-6zM668 290h3v11h-3zM935 290h3v11h-3zM941 290h6v11h-6zM974 290h3v11h-3zM986 290h9v11h-9zM1004 290h3v11h-3zM1016 290h6v11h-6zM1028 290h3v11h-3zM1040 290h0v11h0zM644 301h6v10h-6zM659 301h3v10h-3zM665 301h3v10h-3zM926 301h3v10h-3zM956 301h3v10h-3zM962 301h3v10h-3zM980 301h3v10h-3zM989 301h9v10h-9zM1016 301h6v10h-6zM1025 301h3v10h-3zM1040 301h0v10h0zM641 311h3v10h-3zM647 311h6v10h-6zM668 311h3v10h-3zM674 311h3v10h-3zM680 311h3v10h-3zM920 311h3v10h-3zM935 311h3v10h-3zM941 311h6v10h-6zM974 311h3v10h-3zM986 311h3v10h-3zM1004 311h3v10h-3zM1016 311h6v10h-6zM1028 311h3v10h-3zM1040 311h0v10h0zM656 321h3v10h-3zM695 321h6v10h-6zM704 321h3v10h-3zM728 321h3v10h-3zM743 321h3v10h-3zM764 321h3v10h-3zM770 321h3v10h-3zM959 321h3v10h-3zM971 321h3v10h-3zM998 321h6v10h-6zM1013 321h3v10h-3zM638 331h3v10h-3zM656 331h3v10h-3zM695 331h6v10h-6zM704 331h3v10h-3zM713 331h3v10h-3zM725 331h6v10h-6zM743 331h3v10h-3zM764 331h3v10h-3zM971 331h3v10h-3zM986 331h3v10h-3zM1013 331h3v10h-3zM1028 331h3v10h-3zM656 341h3v9h-3zM683 341h3v9h-3zM695 341h6v9h-6zM707 341h3v9h-3zM728 341h3v9h-3zM743 341h3v9h-3zM758 341h3v9h-3zM764 341h3v9h-3zM770 341h6v9h-6zM884 341h3v9h-3zM986 341h3v9h-3zM1028 341h3v9h-3zM635 350h6v9h-6zM671 350h3v9h-3zM677 350h3v9h-3zM695 350h6v9h-6zM704 350h3v9h-3zM713 350h3v9h-3zM725 350h6v9h-6zM743 350h3v9h-3zM635 359h321v8h-321zM956 407h6v7h-6zM971 407h3v7h-3zM998 407h6v7h-6zM1013 407h3v7h-3zM1040 407h0v7h0zM974 414h3v7h-3zM983 414h3v7h-3zM998 414h3v7h-3zM1016 414h3v7h-3zM1025 414h3v7h-3zM1040 414h0v7h0zM962 421h3v7h-3zM968 421h3v7h-3zM983 421h3v7h-3zM989 421h3v7h-3zM1004 421h3v7h-3zM1010 421h3v7h-3zM1025 421h3v7h-3zM1031 421h3v7h-3zM962 428h6v7h-6zM977 428h6v7h-6zM992 428h6v7h-6zM1004 428h6v7h-6zM1019 428h6v7h-6zM1034 428h6v7h-6z"/>
<path fill="#00ddff" d="M1031 177h3v14h-3zM1037 177h3v14h-3zM980 341h3v9h-3zM1022 341h3v9h-3zM995 350h3v9h-3zM641 367h3v9h-3zM671 367h3v9h-3zM695 367h3v9h-3zM710 367h3v9h-3zM722 367h3v9h-3zM737 367h3v9h-3zM755 367h3v9h-3zM770 367h3v9h-3zM797 367h3v9h-3zM809 367h3v9h-3zM821 367h3v9h-3zM842 367h3v9h-3zM863 367h3v9h-3zM890 367h3v9h-3zM905 367h3v9h-3zM947 367h3v9h-3zM656 376h3v8h-3zM788 376h3v8h-3zM878 376h3v8h-3zM932 376h3v8h-3zM962 376h3v8h-3zM1004 376h3v8h-3zM977 384h3v8h-3zM1019 384h3v8h-3zM668 392h3v8h-3zM692 392h3v8h-3zM734 392h3v8h-3zM752 392h3v8h-3zM794 392h3v8h-3zM806 392h3v8h-3zM818 392h3v8h-3zM860 392h3v8h-3zM902 392h3v8h-3zM944 392h3v8h-3zM647 400h6v7h-6zM659 400h3v7h-3zM665 400h3v7h-3zM677 400h6v7h-6zM686 400h6v7h-6zM701 400h3v7h-3zM707 400h3v7h-3zM716 400h6v7h-6zM731 400h3v7h-3zM746 400h6v7h-6zM761 400h3v7h-3zM767 400h3v7h-3zM776 400h9v7h-9zM803 400h3v7h-3zM815 400h3v7h-3zM839 400h3v7h-3zM848 400h9v7h-9zM872 400h3v7h-3zM881 400h3v7h-3zM887 400h3v7h-3zM899 400h3v7h-3zM911 400h3v7h-3zM917 400h3v7h-3zM923 400h3v7h-3zM953 400h3v7h-3zM647 407h6v7h-6zM677 407h3v7h-3zM686 407h3v7h-3zM704 407h3v7h-3zM728 407h3v7h-3zM743 407h3v7h-3zM764 407h3v7h-3zM776 407h6v7h-6zM791 407h3v7h-3zM803 407h3v7h-3zM815 407h3v7h-3zM836 407h3v7h-3zM851 407h3v7h-3zM857 407h3v7h-3zM869 407h3v7h-3zM881 407h3v7h-3zM914 407h6v7h-6zM923 407h6v7h-6zM935 407h3v7h-3zM953 407h3v7h-3zM647 414h3v7h-3zM665 414h3v7h-3zM680 414h3v7h-3zM689 414h3v7h-3zM701 414h3v7h-3zM716 414h3v7h-3zM728 414h6v7h-6zM746 414h6v7h-6zM761 414h3v7h-3zM776 414h3v7h-3zM848 414h3v7h-3zM854 414h3v7h-3zM884 414h3v7h-3zM896 414h6v7h-6zM911 414h3v7h-3zM635 421h3v7h-3zM665 421h3v7h-3zM689 421h3v7h-3zM716 421h3v7h-3zM728 421h6v7h-6zM749 421h3v7h-3zM776 421h3v7h-3zM803 421h3v7h-3zM815 421h3v7h-3zM848 421h3v7h-3zM857 421h3v7h-3zM896 421h6v7h-6zM941 421h3v7h-3zM635 428h3v7h-3zM665 428h3v7h-3zM689 428h3v7h-3zM716 428h3v7h-3zM728 428h6v7h-6zM749 428h3v7h-3zM776 428h3v7h-3zM803 428h3v7h-3zM815 428h3v7h-3zM848 428h3v7h-3zM857 428h3v7h-3zM896 428h6v7h-6zM941 428h3v7h-3z"/>
<path fill="#1e00fa" d="M635 191h6v14h-6zM635 205h6v13h-6zM770 205h6v13h-6zM791 205h3v13h-3zM821 205h3v13h-3zM827 205h9v13h-9zM887 205h3v13h-3zM896 205h3v13h-3zM635 218h6v13h-6zM683 218h3v13h-3zM707 218h3v13h-3zM728 218h3v13h-3zM752 218h6v13h-6zM767 218h3v13h-3zM776 218h9v13h-9zM794 218h15v13h-15zM812 218h9v13h-9zM842 218h6v13h-6zM851 218h3v13h-3zM863 218h6v13h-6zM881 218h3v13h-3zM902 218h3v13h-3zM908 218h3v13h-3zM635 231h6v13h-6zM683 231h3v13h-3zM695 231h6v13h-6zM704 231h3v13h-3zM713 231h3v13h-3zM719 231h9v13h-9zM734 231h3v13h-3zM761 231h3v13h-3zM788 231h3v13h-3zM809 231h3v13h-3zM848 231h3v13h-3zM854 231h3v13h-3zM872 231h3v13h-3zM884 231h3v13h-3zM911 231h3v13h-3zM635 244h6v12h-6zM683 244h3v12h-3zM695 244h6v12h-6zM704 244h3v12h-3zM713 244h3v12h-3zM719 244h6v12h-6zM734 244h9v12h-9zM746 244h3v12h-3zM635 256h6v11h-6zM662 256h3v11h-3zM710 256h3v11h-3zM716 256h3v11h-3zM635 267h6v12h-6zM683 267h3v12h-3zM695 267h6v12h-6zM704 267h3v12h-3zM710 267h3v12h-3zM716 267h3v12h-3zM731 267h3v12h-3zM635 279h6v11h-6zM683 279h3v11h-3zM695 279h6v11h-6zM704 279h3v11h-3zM710 279h3v11h-3zM716 279h3v11h-3zM731 279h3v11h-3zM635 290h6v11h-6zM683 290h3v11h-3zM710 290h3v11h-3zM716 290h3v11h-3zM731 290h3v11h-3zM635 301h6v10h-6zM662 301h3v10h-3zM710 301h3v10h-3zM635 311h6v10h-6zM683 311h3v10h-3zM695 311h3v10h-3zM710 311h3v10h-3zM716 311h3v10h-3zM731 311h3v10h-3zM812 321h3v10h-3zM824 321h3v10h-3zM836 321h6v10h-6zM857 321h3v10h-3zM869 321h3v10h-3zM890 321h3v10h-3zM914 321h3v10h-3zM956 321h3v10h-3zM986 321h3v10h-3zM1028 321h3v10h-3zM812 331h3v10h-3zM824 331h3v10h-3zM836 331h6v10h-6zM857 331h3v10h-3zM869 331h3v10h-3zM890 331h3v10h-3zM914 331h3v10h-3zM830 341h3v9h-3zM836 341h6v9h-6zM869 341h3v9h-3zM878 341h3v9h-3zM890 341h3v9h-3zM914 341h3v9h-3zM812 350h3v9h-3zM824 350h3v9h-3zM842 350h3v9h-3zM851 350h3v9h-3zM857 350h3v9h-3zM869 350h3v9h-3zM890 350h3v9h-3zM914 350h3v9h-3zM959 421h3v7h-3zM974 421h3v7h-3zM986 421h3v7h-3zM998 421h3v7h-3zM1028 421h3v7h-3z"/>
<path fill="#0f14fc" d="M656 191h3v14h-3zM683 191h3v14h-3zM695 191h6v14h-6zM728 191h3v14h-3zM743 191h3v14h-3zM758 191h3v14h-3zM764 191h3v14h-3zM770 191h6v14h-6zM791 191h3v14h-3zM821 191h3v14h-3zM827 191h6v14h-6zM836 191h6v14h-6zM869 191h3v14h-3zM878 191h3v14h-3zM890 191h3v14h-3zM656 205h3v13h-3zM695 205h6v13h-6zM704 205h3v13h-3zM713 205h3v13h-3zM719 205h12v13h-12zM752 205h6v13h-6zM767 205h3v13h-3zM776 205h9v13h-9zM794 205h15v13h-15zM812 205h9v13h-9zM824 205h3v13h-3zM842 205h6v13h-6zM851 205h3v13h-3zM863 205h6v13h-6zM881 205h3v13h-3zM902 205h3v13h-3zM908 205h3v13h-3zM641 218h3v13h-3zM650 218h3v13h-3zM671 218h3v13h-3zM677 218h3v13h-3zM686 218h3v13h-3zM710 218h3v13h-3zM716 218h3v13h-3zM731 218h3v13h-3zM737 218h6v13h-6zM746 218h6v13h-6zM884 218h3v13h-3zM671 231h3v13h-3zM677 231h3v13h-3zM686 231h3v13h-3zM701 231h3v13h-3zM656 244h3v12h-3zM671 244h3v12h-3zM677 244h3v12h-3zM701 244h3v12h-3zM641 256h3v11h-3zM650 256h3v11h-3zM668 256h3v11h-3zM674 256h3v11h-3zM680 256h3v11h-3zM689 256h6v11h-6zM656 267h3v12h-3zM671 267h3v12h-3zM677 267h3v12h-3zM689 267h6v12h-6zM701 267h3v12h-3zM656 279h3v11h-3zM671 279h3v11h-3zM677 279h3v11h-3zM689 279h6v11h-6zM701 279h3v11h-3zM959 279h3v11h-3zM656 290h3v11h-3zM671 290h6v11h-6zM680 290h3v11h-3zM689 290h6v11h-6zM920 290h3v11h-3zM938 290h3v11h-3zM959 290h3v11h-3zM998 290h3v11h-3zM1034 290h3v11h-3zM641 301h3v10h-3zM650 301h3v10h-3zM668 301h3v10h-3zM674 301h3v10h-3zM680 301h3v10h-3zM689 301h6v10h-6zM920 301h3v10h-3zM935 301h12v10h-12zM959 301h3v10h-3zM974 301h3v10h-3zM986 301h3v10h-3zM998 301h3v10h-3zM1004 301h3v10h-3zM1028 301h3v10h-3zM1034 301h3v10h-3zM656 311h3v10h-3zM671 311h3v10h-3zM677 311h3v10h-3zM689 311h6v10h-6zM701 311h3v10h-3zM938 311h3v10h-3zM959 311h3v10h-3zM998 311h3v10h-3zM1034 311h3v10h-3zM662 321h3v10h-3zM683 321h3v10h-3zM707 321h3v10h-3zM758 321h3v10h-3zM773 321h3v10h-3zM809 321h3v10h-3zM848 321h3v10h-3zM854 321h3v10h-3zM860 321h3v10h-3zM872 321h6v10h-6zM884 321h3v10h-3zM893 321h3v10h-3zM899 321h3v10h-3zM911 321h3v10h-3zM662 331h3v10h-3zM683 331h3v10h-3zM707 331h3v10h-3zM758 331h3v10h-3zM770 331h6v10h-6zM809 331h3v10h-3zM848 331h3v10h-3zM854 331h3v10h-3zM872 331h6v10h-6zM884 331h3v10h-3zM911 331h3v10h-3zM956 331h3v10h-3zM662 341h3v9h-3zM809 341h3v9h-3zM818 341h3v9h-3zM848 341h3v9h-3zM854 341h3v9h-3zM860 341h3v9h-3zM872 341h6v9h-6zM893 341h3v9h-3zM899 341h3v9h-3zM905 341h3v9h-3zM911 341h3v9h-3zM656 350h3v9h-3zM662 350h3v9h-3zM683 350h3v9h-3zM707 350h3v9h-3zM758 350h3v9h-3zM764 350h3v9h-3zM770 350h6v9h-6zM809 350h3v9h-3zM848 350h3v9h-3zM854 350h3v9h-3zM872 350h3v9h-3zM884 350h3v9h-3zM911 350h3v9h-3zM986 407h3v7h-3zM1028 407h3v7h-3z"/>
<path fill="#160afb" d="M662 191h3v14h-3zM707 191h3v14h-3zM833 191h3v14h-3zM887 191h3v14h-3zM896 191h3v14h-3zM662 205h3v13h-3zM683 205h3v13h-3zM707 205h3v13h-3zM743 205h3v13h-3zM758 205h3v13h-3zM764 205h3v13h-3zM836 205h6v13h-6zM857 205h3v13h-3zM869 205h3v13h-3zM878 205h3v13h-3zM890 205h3v13h-3zM914 205h3v13h-3zM656 218h3v13h-3zM662 218h3v13h-3zM695 218h6v13h-6zM704 218h3v13h-3zM713 218h3v13h-3zM719 218h9v13h-9zM734 218h3v13h-3zM761 218h3v13h-3zM785 218h6v13h-6zM809 218h3v13h-3zM848 218h3v13h-3zM854 218h3v13h-3zM860 218h3v13h-3zM872 218h6v13h-6zM893 218h3v13h-3zM899 218h3v13h-3zM905 218h3v13h-3zM911 218h3v13h-3zM656 231h3v13h-3zM662 231h3v13h-3zM710 231h3v13h-3zM716 231h3v13h-3zM731 231h3v13h-3zM737 231h6v13h-6zM746 231h6v13h-6zM662 244h3v12h-3zM686 244h3v12h-3zM710 244h3v12h-3zM716 244h3v12h-3zM731 244h3v12h-3zM656 256h3v11h-3zM671 256h3v11h-3zM677 256h3v11h-3zM686 256h3v11h-3zM701 256h3v11h-3zM662 267h3v12h-3zM686 267h3v12h-3zM662 279h3v11h-3zM686 279h3v11h-3zM662 290h3v11h-3zM677 290h3v11h-3zM686 290h3v11h-3zM701 290h3v11h-3zM656 301h3v10h-3zM671 301h3v10h-3zM677 301h3v10h-3zM686 301h3v10h-3zM701 301h3v10h-3zM662 311h3v10h-3zM686 311h3v10h-3zM794 321h15v10h-15zM815 321h6v10h-6zM842 321h6v10h-6zM851 321h3v10h-3zM863 321h6v10h-6zM881 321h3v10h-3zM902 321h9v10h-9zM794 331h15v10h-15zM815 331h6v10h-6zM842 331h6v10h-6zM851 331h3v10h-3zM860 331h9v10h-9zM881 331h3v10h-3zM893 331h3v10h-3zM899 331h12v10h-12zM794 341h15v9h-15zM812 341h6v9h-6zM824 341h3v9h-3zM842 341h6v9h-6zM851 341h3v9h-3zM857 341h3v9h-3zM863 341h6v9h-6zM881 341h3v9h-3zM902 341h3v9h-3zM908 341h3v9h-3zM794 350h15v9h-15zM815 350h6v9h-6zM845 350h3v9h-3zM860 350h9v9h-9zM875 350h3v9h-3zM881 350h3v9h-3zM893 350h3v9h-3zM899 350h12v9h-12zM956 414h6v7h-6zM971 414h3v7h-3zM986 414h3v7h-3zM1001 414h3v7h-3zM1013 414h3v7h-3zM1028 414h3v7h-3zM956 421h3v7h-3zM971 421h3v7h-3zM1001 421h3v7h-3zM1013 421h6v7h-6zM1040 421h0v7h0z"/>
<path fill="#2c00ef" d="M743 218h3v13h-3zM758 218h3v13h-3zM764 218h3v13h-3zM824 218h3v13h-3zM836 218h6v13h-6zM857 218h3v13h-3zM869 218h3v13h-3zM890 218h3v13h-3zM914 218h3v13h-3zM707 231h3v13h-3zM728 231h3v13h-3zM743 231h3v13h-3zM752 231h6v13h-6zM767 231h3v13h-3zM776 231h3v13h-3zM782 231h6v13h-6zM794 231h15v13h-15zM815 231h6v13h-6zM842 231h6v13h-6zM860 231h9v13h-9zM875 231h3v13h-3zM881 231h3v13h-3zM893 231h3v13h-3zM899 231h12v13h-12zM707 244h3v12h-3zM725 244h3v12h-3zM749 244h3v12h-3zM788 244h3v12h-3zM854 244h3v12h-3zM872 244h3v12h-3zM884 244h3v12h-3zM911 244h3v12h-3zM683 256h3v11h-3zM695 256h6v11h-6zM704 256h3v11h-3zM713 256h3v11h-3zM731 256h3v11h-3zM740 256h3v11h-3zM713 267h3v12h-3zM719 267h6v12h-6zM734 267h9v12h-9zM746 267h3v12h-3zM713 279h3v11h-3zM719 279h6v11h-6zM734 279h9v11h-9zM746 279h3v11h-3zM695 290h6v11h-6zM704 290h3v11h-3zM713 290h3v11h-3zM719 290h6v11h-6zM737 290h6v11h-6zM746 290h3v11h-3zM683 301h3v10h-3zM695 301h6v10h-6zM704 301h3v10h-3zM716 301h3v10h-3zM731 301h3v10h-3zM698 311h3v10h-3zM704 311h3v10h-3zM713 311h3v10h-3zM719 311h6v10h-6zM734 311h9v10h-9zM746 311h3v10h-3zM791 321h3v10h-3zM821 321h3v10h-3zM827 321h9v10h-9zM878 321h3v10h-3zM887 321h3v10h-3zM896 321h3v10h-3zM791 331h3v10h-3zM821 331h3v10h-3zM827 331h9v10h-9zM878 331h3v10h-3zM887 331h3v10h-3zM896 331h3v10h-3zM791 341h3v9h-3zM821 341h3v9h-3zM827 341h3v9h-3zM833 341h3v9h-3zM887 341h3v9h-3zM896 341h3v9h-3zM791 350h3v9h-3zM821 350h3v9h-3zM827 350h15v9h-15zM878 350h3v9h-3zM887 350h3v9h-3zM896 350h3v9h-3zM968 428h3v7h-3zM1013 428h3v7h-3zM1031 428h3v7h-3zM965 435h6v6h-6zM977 435h3v6h-3zM1013 435h3v6h-3zM1022 435h3v6h-3zM1031 435h3v6h-3zM1037 435h3v6h-3zM965 441h6v7h-6zM977 441h3v7h-3zM1013 441h3v7h-3zM1022 441h3v7h-3zM1031 441h3v7h-3zM1037 441h3v7h-3zM965 448h6v6h-6zM977 448h3v6h-3zM1013 448h3v6h-3zM1022 448h3v6h-3zM1031 448h3v6h-3zM1037 448h3v6h-3zM635 454h6v5h-6zM644 454h3v5h-3zM653 454h3v5h-3zM659 454h3v5h-3zM665 454h3v5h-3zM680 454h3v5h-3zM689 454h6v5h-6zM701 454h3v5h-3zM710 454h3v5h-3zM716 454h3v5h-3zM731 454h3v5h-3zM737 454h6v5h-6zM746 454h6v5h-6zM761 454h3v5h-3zM785 454h6v5h-6zM809 454h3v5h-3zM818 454h3v5h-3zM848 454h3v5h-3zM854 454h3v5h-3zM860 454h3v5h-3zM872 454h6v5h-6zM884 454h3v5h-3zM893 454h3v5h-3zM899 454h3v5h-3zM905 454h3v5h-3zM911 454h3v5h-3zM929 454h6v5h-6zM947 454h3v5h-3zM965 454h6v5h-6zM977 454h3v5h-3zM1013 454h3v5h-3zM1022 454h3v5h-3zM1031 454h3v5h-3zM1037 454h3v5h-3zM635 459h6v6h-6zM644 459h3v6h-3zM653 459h3v6h-3zM659 459h3v6h-3zM665 459h3v6h-3zM680 459h3v6h-3zM689 459h6v6h-6zM701 459h3v6h-3zM710 459h3v6h-3zM716 459h3v6h-3zM731 459h3v6h-3zM737 459h6v6h-6zM746 459h6v6h-6zM761 459h3v6h-3zM785 459h6v6h-6zM809 459h3v6h-3zM818 459h3v6h-3zM848 459h3v6h-3zM854 459h3v6h-3zM860 459h3v6h-3zM872 459h6v6h-6zM884 459h3v6h-3zM893 459h3v6h-3zM899 459h3v6h-3zM905 459h3v6h-3zM911 459h3v6h-3zM929 459h6v6h-6zM947 459h3v6h-3zM965 459h6v6h-6zM977 459h3v6h-3zM1013 459h3v6h-3zM1022 459h3v6h-3zM1031 459h3v6h-3zM1037 459h3v6h-3zM635 465h6v6h-6zM644 465h3v6h-3zM653 465h3v6h-3zM659 465h3v6h-3zM665 465h3v6h-3zM680 465h3v6h-3zM689 465h6v6h-6zM701 465h3v6h-3zM710 465h3v6h-3zM716 465h3v6h-3zM731 465h3v6h-3zM737 465h6v6h-6zM746 465h6v6h-6zM761 465h3v6h-3zM785 465h6v6h-6zM809 465h3v6h-3zM818 465h3v6h-3zM848 465h3v6h-3zM854 465h3v6h-3zM860 465h3v6h-3zM872 465h6v6h-6zM884 465h3v6h-3zM893 465h3v6h-3zM899 465h3v6h-3zM905 465h3v6h-3zM911 465h3v6h-3zM929 465h6v6h-6zM947 465h3v6h-3zM965 465h6v6h-6zM977 465h3v6h-3zM1013 465h3v6h-3zM1022 465h3v6h-3zM1031 465h3v6h-3zM1037 465h3v6h-3zM635 471h6v5h-6zM644 471h3v5h-3zM653 471h3v5h-3zM659 471h3v5h-3zM665 471h3v5h-3zM680 471h3v5h-3zM689 471h6v5h-6zM701 471h3v5h-3zM710 471h3v5h-3zM716 471h3v5h-3zM731 471h3v5h-3zM737 471h6v5h-6zM746 471h6v5h-6zM761 471h3v5h-3zM785 471h6v5h-6zM809 471h3v5h-3zM818 471h3v5h-3zM848 471h3v5h-3zM854 471h3v5h-3zM860 471h3v5h-3zM872 471h6v5h-6zM884 471h3v5h-3zM893 471h3v5h-3zM899 471h3v5h-3zM905 471h3v5h-3zM911 471h3v5h-3zM929 471h6v5h-6zM947 471h3v5h-3zM965 471h6v5h-6zM977 471h3v5h-3zM1013 471h3v5h-3zM1022 471h3v5h-3zM1031 471h3v5h-3zM1037 471h3v5h-3zM635 476h6v5h-6zM644 476h3v5h-3zM653 476h3v5h-3zM659 476h3v5h-3zM665 476h3v5h-3zM680 476h3v5h-3zM689 476h6v5h-6zM701 476h3v5h-3zM710 476h3v5h-3zM716 476h3v5h-3zM731 476h3v5h-3zM737 476h6v5h-6zM746 476h6v5h-6zM761 476h3v5h-3zM785 476h6v5h-6zM809 476h3v5h-3zM818 476h3v5h-3zM848 476h3v5h-3zM854 476h3v5h-3zM860 476h3v5h-3zM872 476h6v5h-6zM884 476h3v5h-3zM893 476h3v5h-3zM899 476h3v5h-3zM905 476h3v5h-3zM911 476h3v5h-3zM929 476h6v5h-6zM947 476h3v5h-3zM965 476h6v5h-6zM977 476h3v5h-3zM1013 476h3v5h-3zM1022 476h3v5h-3zM1031 476h3v5h-3zM1037 476h3v5h-3z"/>
<path fill="#3a00e4" d="M770 218h6v13h-6zM791 218h3v13h-3zM821 218h3v13h-3zM827 218h9v13h-9zM878 218h3v13h-3zM887 218h3v13h-3zM896 218h3v13h-3zM779 231h3v13h-3zM812 231h3v13h-3zM824 231h3v13h-3zM851 231h3v13h-3zM857 231h3v13h-3zM869 231h3v13h-3zM890 231h3v13h-3zM914 231h3v13h-3zM728 244h3v12h-3zM743 244h3v12h-3zM752 244h6v12h-6zM761 244h3v12h-3zM776 244h3v12h-3zM782 244h6v12h-6zM794 244h3v12h-3zM800 244h3v12h-3zM809 244h3v12h-3zM818 244h3v12h-3zM848 244h3v12h-3zM860 244h3v12h-3zM866 244h3v12h-3zM875 244h3v12h-3zM893 244h3v12h-3zM899 244h3v12h-3zM905 244h3v12h-3zM707 256h3v11h-3zM719 256h9v11h-9zM734 256h6v11h-6zM746 256h6v11h-6zM707 267h3v12h-3zM725 267h6v12h-6zM749 267h3v12h-3zM788 267h3v12h-3zM884 267h3v12h-3zM707 279h3v11h-3zM725 279h6v11h-6zM749 279h3v11h-3zM788 279h3v11h-3zM884 279h3v11h-3zM707 290h3v11h-3zM725 290h6v11h-6zM734 290h3v11h-3zM749 290h3v11h-3zM707 301h3v10h-3zM713 301h3v10h-3zM719 301h9v10h-9zM734 301h9v10h-9zM746 301h6v10h-6zM707 311h3v10h-3zM725 311h6v10h-6zM749 311h3v10h-3zM884 311h3v10h-3zM956 428h3v7h-3zM971 428h3v7h-3zM983 428h3v7h-3zM989 428h3v7h-3zM1001 428h3v7h-3zM1010 428h3v7h-3zM1025 428h3v7h-3zM956 435h3v6h-3zM962 435h3v6h-3zM971 435h3v6h-3zM980 435h6v6h-6zM989 435h9v6h-9zM1001 435h3v6h-3zM1007 435h6v6h-6zM1025 435h3v6h-3zM956 441h3v7h-3zM962 441h3v7h-3zM971 441h3v7h-3zM980 441h6v7h-6zM989 441h9v7h-9zM1001 441h3v7h-3zM1007 441h6v7h-6zM1025 441h3v7h-3zM956 448h3v6h-3zM962 448h3v6h-3zM971 448h3v6h-3zM980 448h6v6h-6zM989 448h9v6h-9zM1001 448h3v6h-3zM1007 448h6v6h-6zM1025 448h3v6h-3zM641 454h3v5h-3zM647 454h6v5h-6zM668 454h12v5h-12zM686 454h3v5h-3zM704 454h3v5h-3zM713 454h3v5h-3zM719 454h9v5h-9zM734 454h3v5h-3zM752 454h6v5h-6zM767 454h3v5h-3zM776 454h9v5h-9zM794 454h15v5h-15zM812 454h6v5h-6zM824 454h3v5h-3zM842 454h6v5h-6zM851 454h3v5h-3zM857 454h3v5h-3zM863 454h6v5h-6zM881 454h3v5h-3zM902 454h3v5h-3zM908 454h3v5h-3zM914 454h6v5h-6zM923 454h6v5h-6zM950 454h9v5h-9zM962 454h3v5h-3zM971 454h3v5h-3zM980 454h6v5h-6zM989 454h9v5h-9zM1001 454h3v5h-3zM1007 454h6v5h-6zM1025 454h3v5h-3zM641 459h3v6h-3zM647 459h6v6h-6zM668 459h12v6h-12zM686 459h3v6h-3zM704 459h3v6h-3zM713 459h3v6h-3zM719 459h9v6h-9zM734 459h3v6h-3zM752 459h6v6h-6zM767 459h3v6h-3zM776 459h9v6h-9zM794 459h15v6h-15zM812 459h6v6h-6zM824 459h3v6h-3zM842 459h6v6h-6zM851 459h3v6h-3zM857 459h3v6h-3zM863 459h6v6h-6zM881 459h3v6h-3zM902 459h3v6h-3zM908 459h3v6h-3zM914 459h6v6h-6zM923 459h6v6h-6zM950 459h9v6h-9zM962 459h3v6h-3zM971 459h3v6h-3zM980 459h6v6h-6zM989 459h9v6h-9zM1001 459h3v6h-3zM1007 459h6v6h-6zM1025 459h3v6h-3zM641 465h3v6h-3zM647 465h6v6h-6zM668 465h12v6h-12zM686 465h3v6h-3zM704 465h3v6h-3zM713 465h3v6h-3zM719 465h9v6h-9zM734 465h3v6h-3zM752 465h6v6h-6zM767 465h3v6h-3zM776 465h9v6h-9zM794 465h15v6h-15zM812 465h6v6h-6zM824 465h3v6h-3zM842 465h6v6h-6zM851 465h3v6h-3zM857 465h3v6h-3zM863 465h6v6h-6zM881 465h3v6h-3zM902 465h3v6h-3zM908 465h3v6h-3zM914 465h6v6h-6zM923 465h6v6h-6zM950 465h9v6h-9zM962 465h3v6h-3zM971 465h3v6h-3zM980 465h6v6h-6zM989 465h9v6h-9zM1001 465h3v6h-3zM1007 465h6v6h-6zM1025 465h3v6h-3zM641 471h3v5h-3zM647 471h6v5h-6zM668 471h12v5h-12zM686 471h3v5h-3zM704 471h3v5h-3zM713 471h3v5h-3zM719 471h9v5h-9zM734 471h3v5h-3zM752 471h6v5h-6zM767 471h3v5h-3zM776 471h9v5h-9zM794 471h15v5h-15zM812 471h6v5h-6zM824 471h3v5h-3zM842 471h6v5h-6zM851 471h3v5h-3zM857 471h3v5h-3zM863 471h6v5h-6zM881 471h3v5h-3zM902 471h3v5h-3zM908 471h3v5h-3zM914 471h6v5h-6zM923 471h6v5h-6zM950 471h9v5h-9zM962 471h3v5h-3zM971 471h3v5h-3zM980 471h6v5h-6zM989 471h9v5h-9zM1001 471h3v5h-3zM1007 471h6v5h-6zM1025 471h3v5h-3zM641 476h3v5h-3zM647 476h6v5h-6zM668 476h12v5h-12zM686 476h3v5h-3zM704 476h3v5h-3zM713 476h3v5h-3zM719 476h9v5h-9zM734 476h3v5h-3zM752 476h6v5h-6zM767 476h3v5h-3zM776 476h9v5h-9zM794 476h15v5h-15zM812 476h6v5h-6zM824 476h3v5h-3zM842 476h6v5h-6zM851 476h3v5h-3zM857 476h3v5h-3zM863 476h6v5h-6zM881 476h3v5h-3zM902 476h3v5h-3zM908 476h3v5h-3zM914 476h6v5h-6zM923 476h6v5h-6zM950 476h9v5h-9zM962 476h3v5h-3zM971 476h3v5h-3zM980 476h6v5h-6zM989 476h9v5h-9zM1001 476h3v5h-3zM1007 476h6v5h-6zM1025 476h3v5h-3z"/>
<path fill="#4700d8" d="M758 231h3v13h-3zM764 231h3v13h-3zM770 231h6v13h-6zM791 231h3v13h-3zM821 231h3v13h-3zM827 231h15v13h-15zM878 231h3v13h-3zM887 231h3v13h-3zM896 231h3v13h-3zM767 244h3v12h-3zM779 244h3v12h-3zM797 244h3v12h-3zM803 244h6v12h-6zM812 244h6v12h-6zM824 244h3v12h-3zM842 244h6v12h-6zM851 244h3v12h-3zM857 244h3v12h-3zM863 244h3v12h-3zM881 244h3v12h-3zM902 244h3v12h-3zM908 244h3v12h-3zM914 244h3v12h-3zM728 256h3v11h-3zM761 256h3v11h-3zM788 256h3v11h-3zM809 256h3v11h-3zM848 256h3v11h-3zM854 256h3v11h-3zM872 256h3v11h-3zM884 256h3v11h-3zM911 256h3v11h-3zM743 267h3v12h-3zM752 267h6v12h-6zM761 267h3v12h-3zM782 267h6v12h-6zM809 267h3v12h-3zM818 267h3v12h-3zM848 267h3v12h-3zM854 267h3v12h-3zM860 267h3v12h-3zM872 267h6v12h-6zM893 267h3v12h-3zM899 267h3v12h-3zM905 267h3v12h-3zM911 267h3v12h-3zM743 279h3v11h-3zM752 279h6v11h-6zM761 279h3v11h-3zM782 279h6v11h-6zM809 279h3v11h-3zM818 279h3v11h-3zM848 279h3v11h-3zM854 279h3v11h-3zM860 279h3v11h-3zM872 279h6v11h-6zM893 279h3v11h-3zM899 279h3v11h-3zM905 279h3v11h-3zM911 279h3v11h-3zM752 290h6v11h-6zM761 290h3v11h-3zM785 290h6v11h-6zM809 290h3v11h-3zM848 290h3v11h-3zM854 290h3v11h-3zM872 290h6v11h-6zM884 290h3v11h-3zM911 290h3v11h-3zM728 301h3v10h-3zM761 301h3v10h-3zM788 301h3v10h-3zM854 301h3v10h-3zM872 301h3v10h-3zM884 301h3v10h-3zM911 301h3v10h-3zM743 311h3v10h-3zM752 311h6v10h-6zM761 311h3v10h-3zM785 311h6v10h-6zM809 311h3v10h-3zM848 311h3v10h-3zM854 311h3v10h-3zM860 311h3v10h-3zM872 311h6v10h-6zM893 311h3v10h-3zM899 311h3v10h-3zM905 311h3v10h-3zM911 311h3v10h-3zM959 428h3v7h-3zM974 428h3v7h-3zM986 428h3v7h-3zM998 428h3v7h-3zM1016 428h3v7h-3zM1028 428h3v7h-3zM1040 428h0v7h0zM959 435h3v6h-3zM974 435h3v6h-3zM986 435h3v6h-3zM998 435h3v6h-3zM1004 435h3v6h-3zM1016 435h6v6h-6zM1028 435h3v6h-3zM1034 435h3v6h-3zM1040 435h0v6h0zM959 441h3v7h-3zM974 441h3v7h-3zM986 441h3v7h-3zM998 441h3v7h-3zM1004 441h3v7h-3zM1016 441h6v7h-6zM1028 441h3v7h-3zM1034 441h3v7h-3zM1040 441h0v7h0zM959 448h3v6h-3zM974 448h3v6h-3zM986 448h3v6h-3zM998 448h3v6h-3zM1004 448h3v6h-3zM1016 448h6v6h-6zM1028 448h3v6h-3zM1034 448h3v6h-3zM1040 448h0v6h0zM656 454h3v5h-3zM662 454h3v5h-3zM683 454h3v5h-3zM695 454h6v5h-6zM707 454h3v5h-3zM728 454h3v5h-3zM743 454h3v5h-3zM758 454h3v5h-3zM764 454h3v5h-3zM770 454h6v5h-6zM791 454h3v5h-3zM821 454h3v5h-3zM827 454h15v5h-15zM869 454h3v5h-3zM878 454h3v5h-3zM887 454h6v5h-6zM896 454h3v5h-3zM920 454h3v5h-3zM935 454h12v5h-12zM959 454h3v5h-3zM974 454h3v5h-3zM986 454h3v5h-3zM998 454h3v5h-3zM1004 454h3v5h-3zM1016 454h6v5h-6zM1028 454h3v5h-3zM1034 454h3v5h-3zM1040 454h0v5h0zM656 459h3v6h-3zM662 459h3v6h-3zM683 459h3v6h-3zM695 459h6v6h-6zM707 459h3v6h-3zM728 459h3v6h-3zM743 459h3v6h-3zM758 459h3v6h-3zM764 459h3v6h-3zM770 459h6v6h-6zM791 459h3v6h-3zM821 459h3v6h-3zM827 459h15v6h-15zM869 459h3v6h-3zM878 459h3v6h-3zM887 459h6v6h-6zM896 459h3v6h-3zM920 459h3v6h-3zM935 459h12v6h-12zM959 459h3v6h-3zM974 459h3v6h-3zM986 459h3v6h-3zM998 459h3v6h-3zM1004 459h3v6h-3zM1016 459h6v6h-6zM1028 459h3v6h-3zM1034 459h3v6h-3zM1040 459h0v6h0zM656 465h3v6h-3zM662 465h3v6h-3zM683 465h3v6h-3zM695 465h6v6h-6zM707 465h3v6h-3zM728 465h3v6h-3zM743 465h3v6h-3zM758 465h3v6h-3zM764 465h3v6h-3zM770 465h6v6h-6zM791 465h3v6h-3zM821 465h3v6h-3zM827 465h15v6h-15zM869 465h3v6h-3zM878 465h3v6h-3zM887 465h6v6h-6zM896 465h3v6h-3zM920 465h3v6h-3zM935 465h12v6h-12zM959 465h3v6h-3zM974 465h3v6h-3zM986 465h3v6h-3zM998 465h3v6h-3zM1004 465h3v6h-3zM1016 465h6v6h-6zM1028 465h3v6h-3zM1034 465h3v6h-3zM1040 465h0v6h0zM656 471h3v5h-3zM662 471h3v5h-3zM683 471h3v5h-3zM695 471h6v5h-6zM707 471h3v5h-3zM728 471h3v5h-3zM743 471h3v5h-3zM758 471h3v5h-3zM764 471h3v5h-3zM770 471h6v5h-6zM791 471h3v5h-3zM821 471h3v5h-3zM827 471h15v5h-15zM869 471h3v5h-3zM878 471h3v5h-3zM887 471h6v5h-6zM896 471h3v5h-3zM920 471h3v5h-3zM935 471h12v5h-12zM959 471h3v5h-3zM974 471h3v5h-3zM986 471h3v5h-3zM998 471h3v5h-3zM1004 471h3v5h-3zM1016 471h6v5h-6zM1028 471h3v5h-3zM1034 471h3v5h-3zM1040 471h0v5h0zM656 476h3v5h-3zM662 476h3v5h-3zM683 476h3v5h-3zM695 476h6v5h-6zM707 476h3v5h-3zM728 476h3v5h-3zM743 476h3v5h-3zM758 476h3v5h-3zM764 476h3v5h-3zM770 476h6v5h-6zM791 476h3v5h-3zM821 476h3v5h-3zM827 476h15v5h-15zM869 476h3v5h-3zM878 476h3v5h-3zM887 476h6v5h-6zM896 476h3v5h-3zM920 476h3v5h-3zM935 476h12v5h-12zM959 476h3v5h-3zM974 476h3v5h-3zM986 476h3v5h-3zM998 476h3v5h-3zM1004 476h3v5h-3zM1016 476h6v5h-6zM1028 476h3v5h-3zM1034 476h3v5h-3zM1040 476h0v5h0z"/>
<path fill="#5500cd" d="M758 244h3v12h-3zM764 244h3v12h-3zM770 244h6v12h-6zM791 244h3v12h-3zM821 244h3v12h-3zM827 244h6v12h-6zM836 244h6v12h-6zM869 244h3v12h-3zM878 244h3v12h-3zM887 244h6v12h-6zM743 256h3v11h-3zM752 256h6v11h-6zM767 256h3v11h-3zM776 256h3v11h-3zM782 256h6v11h-6zM794 256h15v11h-15zM815 256h6v11h-6zM845 256h3v11h-3zM860 256h9v11h-9zM875 256h3v11h-3zM881 256h3v11h-3zM893 256h3v11h-3zM899 256h12v11h-12zM767 267h3v12h-3zM776 267h6v12h-6zM794 267h15v12h-15zM812 267h6v12h-6zM824 267h3v12h-3zM842 267h6v12h-6zM851 267h3v12h-3zM863 267h6v12h-6zM881 267h3v12h-3zM902 267h3v12h-3zM908 267h3v12h-3zM767 279h3v11h-3zM776 279h6v11h-6zM794 279h15v11h-15zM812 279h6v11h-6zM824 279h3v11h-3zM842 279h6v11h-6zM851 279h3v11h-3zM863 279h6v11h-6zM881 279h3v11h-3zM902 279h3v11h-3zM908 279h3v11h-3zM743 290h3v11h-3zM767 290h3v11h-3zM776 290h9v11h-9zM794 290h15v11h-15zM815 290h6v11h-6zM842 290h6v11h-6zM851 290h3v11h-3zM860 290h9v11h-9zM881 290h3v11h-3zM893 290h3v11h-3zM899 290h12v11h-12zM743 301h3v10h-3zM752 301h6v10h-6zM782 301h6v10h-6zM794 301h3v10h-3zM800 301h3v10h-3zM809 301h3v10h-3zM818 301h3v10h-3zM848 301h3v10h-3zM860 301h3v10h-3zM866 301h3v10h-3zM875 301h3v10h-3zM893 301h3v10h-3zM899 301h3v10h-3zM905 301h3v10h-3zM767 311h3v10h-3zM776 311h9v10h-9zM794 311h15v10h-15zM812 311h9v10h-9zM842 311h6v10h-6zM851 311h3v10h-3zM863 311h6v10h-6zM881 311h3v10h-3zM902 311h3v10h-3zM908 311h3v10h-3z"/>
<path fill="#5800bf" d="M833 244h3v12h-3zM896 244h3v12h-3zM758 256h3v11h-3zM779 256h3v11h-3zM812 256h3v11h-3zM824 256h3v11h-3zM842 256h3v11h-3zM851 256h3v11h-3zM857 256h3v11h-3zM869 256h3v11h-3zM890 256h3v11h-3zM914 256h3v11h-3zM758 267h3v12h-3zM764 267h3v12h-3zM770 267h3v12h-3zM830 267h3v12h-3zM836 267h6v12h-6zM857 267h3v12h-3zM869 267h3v12h-3zM878 267h3v12h-3zM890 267h3v12h-3zM914 267h3v12h-3zM758 279h3v11h-3zM764 279h3v11h-3zM770 279h3v11h-3zM830 279h3v11h-3zM836 279h6v11h-6zM857 279h3v11h-3zM869 279h3v11h-3zM878 279h3v11h-3zM890 279h3v11h-3zM914 279h3v11h-3zM758 290h3v11h-3zM764 290h3v11h-3zM812 290h3v11h-3zM824 290h3v11h-3zM836 290h6v11h-6zM857 290h3v11h-3zM869 290h3v11h-3zM890 290h3v11h-3zM914 290h3v11h-3zM767 301h3v10h-3zM776 301h6v10h-6zM797 301h3v10h-3zM803 301h6v10h-6zM812 301h6v10h-6zM824 301h3v10h-3zM842 301h6v10h-6zM851 301h3v10h-3zM857 301h3v10h-3zM863 301h3v10h-3zM881 301h3v10h-3zM902 301h3v10h-3zM908 301h3v10h-3zM914 301h3v10h-3zM758 311h3v10h-3zM764 311h3v10h-3zM824 311h3v10h-3zM836 311h6v10h-6zM857 311h3v10h-3zM869 311h3v10h-3zM890 311h3v10h-3zM914 311h3v10h-3z"/>
<path fill="#5a00b2" d="M764 256h3v11h-3zM770 256h6v11h-6zM791 256h3v11h-3zM821 256h3v11h-3zM827 256h15v11h-15zM878 256h3v11h-3zM887 256h3v11h-3zM896 256h3v11h-3zM773 267h3v12h-3zM791 267h3v12h-3zM821 267h3v12h-3zM827 267h3v12h-3zM833 267h3v12h-3zM887 267h3v12h-3zM896 267h3v12h-3zM773 279h3v11h-3zM791 279h3v11h-3zM821 279h3v11h-3zM827 279h3v11h-3zM833 279h3v11h-3zM887 279h3v11h-3zM896 279h3v11h-3zM770 290h6v11h-6zM791 290h3v11h-3zM821 290h3v11h-3zM827 290h9v11h-9zM878 290h3v11h-3zM887 290h3v11h-3zM896 290h3v11h-3zM758 301h3v10h-3zM764 301h3v10h-3zM770 301h6v10h-6zM791 301h3v10h-3zM821 301h3v10h-3zM827 301h6v10h-6zM836 301h6v10h-6zM869 301h3v10h-3zM878 301h3v10h-3zM890 301h3v10h-3zM770 311h6v10h-6zM791 311h3v10h-3zM821 311h3v10h-3zM827 311h9v10h-9zM878 311h3v10h-3zM887 311h3v10h-3zM896 311h3v10h-3z"/>
<path fill="#5c00a4" d="M833 301h3v10h-3zM887 301h3v10h-3zM896 301h3v10h-3z"/>
<path fill="#00fab8" d="M1031 321h9v10h-9zM1031 331h9v10h-9zM1031 341h9v9h-9zM965 350h3v9h-3zM992 350h3v9h-3zM1007 350h3v9h-3zM1031 350h9v9h-9zM977 359h3v8h-3zM1019 359h3v8h-3zM1031 359h3v8h-3zM1037 359h3v8h-3zM977 367h3v9h-3zM1019 367h3v9h-3zM1031 367h3v9h-3zM1037 367h3v9h-3zM992 376h3v8h-3zM1031 376h9v8h-9zM1031 384h9v8h-9zM1031 392h9v8h-9zM653 407h6v7h-6zM671 407h3v7h-3zM695 407h3v7h-3zM710 407h6v7h-6zM722 407h6v7h-6zM737 407h3v7h-3zM755 407h3v7h-3zM770 407h6v7h-6zM785 407h6v7h-6zM797 407h3v7h-3zM809 407h3v7h-3zM821 407h3v7h-3zM842 407h6v7h-6zM863 407h3v7h-3zM875 407h6v7h-6zM890 407h6v7h-6zM905 407h3v7h-3zM929 407h6v7h-6zM947 407h3v7h-3zM668 414h3v7h-3zM692 414h3v7h-3zM734 414h3v7h-3zM752 414h3v7h-3zM794 414h3v7h-3zM806 414h3v7h-3zM818 414h3v7h-3zM860 414h3v7h-3zM902 414h3v7h-3zM944 414h3v7h-3zM644 421h3v7h-3zM674 421h3v7h-3zM698 421h3v7h-3zM740 421h3v7h-3zM758 421h3v7h-3zM800 421h3v7h-3zM812 421h3v7h-3zM824 421h3v7h-3zM866 421h3v7h-3zM908 421h3v7h-3zM950 421h3v7h-3zM644 428h3v7h-3zM674 428h3v7h-3zM698 428h3v7h-3zM740 428h3v7h-3zM758 428h3v7h-3zM800 428h3v7h-3zM812 428h3v7h-3zM824 428h3v7h-3zM866 428h3v7h-3zM908 428h3v7h-3zM950 428h3v7h-3z"/>
<path fill="#00ebff" d="M965 341h3v9h-3zM992 341h3v9h-3zM1007 341h3v9h-3zM962 359h3v8h-3zM1004 359h3v8h-3zM962 367h3v9h-3zM1004 367h3v9h-3zM671 376h3v8h-3zM695 376h3v8h-3zM710 376h3v8h-3zM722 376h3v8h-3zM737 376h3v8h-3zM755 376h3v8h-3zM770 376h3v8h-3zM797 376h3v8h-3zM809 376h3v8h-3zM821 376h3v8h-3zM842 376h3v8h-3zM863 376h3v8h-3zM890 376h3v8h-3zM905 376h3v8h-3zM947 376h3v8h-3zM995 376h3v8h-3zM653 384h3v8h-3zM785 384h3v8h-3zM875 384h3v8h-3zM929 384h3v8h-3zM980 384h3v8h-3zM1022 384h3v8h-3zM713 392h3v8h-3zM725 392h3v8h-3zM773 392h3v8h-3zM845 392h3v8h-3zM893 392h3v8h-3zM644 400h3v7h-3zM674 400h3v7h-3zM698 400h3v7h-3zM740 400h3v7h-3zM758 400h3v7h-3zM800 400h3v7h-3zM812 400h3v7h-3zM824 400h3v7h-3zM866 400h3v7h-3zM884 400h3v7h-3zM908 400h3v7h-3zM950 400h3v7h-3zM659 407h3v7h-3zM665 407h3v7h-3zM680 407h3v7h-3zM689 407h3v7h-3zM701 407h3v7h-3zM707 407h3v7h-3zM716 407h6v7h-6zM731 407h3v7h-3zM746 407h6v7h-6zM761 407h3v7h-3zM767 407h3v7h-3zM782 407h3v7h-3zM839 407h3v7h-3zM848 407h3v7h-3zM854 407h3v7h-3zM872 407h3v7h-3zM884 407h6v7h-6zM899 407h3v7h-3zM911 407h3v7h-3zM650 414h3v7h-3zM782 414h3v7h-3zM872 414h3v7h-3zM926 414h3v7h-3zM650 421h3v7h-3zM782 421h3v7h-3zM872 421h3v7h-3zM926 421h3v7h-3zM650 428h3v7h-3zM782 428h3v7h-3zM872 428h3v7h-3zM926 428h3v7h-3z"/>
<path fill="#00f0e7" d="M977 350h3v9h-3zM1019 350h3v9h-3zM995 359h3v8h-3zM995 367h3v9h-3zM656 384h3v8h-3zM671 384h3v8h-3zM695 384h3v8h-3zM710 384h3v8h-3zM722 384h3v8h-3zM737 384h3v8h-3zM755 384h3v8h-3zM770 384h3v8h-3zM788 384h3v8h-3zM797 384h3v8h-3zM809 384h3v8h-3zM821 384h3v8h-3zM842 384h3v8h-3zM863 384h3v8h-3zM878 384h3v8h-3zM890 384h3v8h-3zM905 384h3v8h-3zM932 384h3v8h-3zM947 384h3v8h-3zM965 384h3v8h-3zM992 384h3v8h-3zM1007 384h3v8h-3zM653 392h3v8h-3zM785 392h3v8h-3zM875 392h3v8h-3zM929 392h3v8h-3zM668 400h3v7h-3zM692 400h3v7h-3zM734 400h3v7h-3zM752 400h3v7h-3zM794 400h3v7h-3zM806 400h3v7h-3zM818 400h3v7h-3zM860 400h3v7h-3zM902 400h3v7h-3zM944 400h3v7h-3zM644 407h3v7h-3zM674 407h3v7h-3zM698 407h3v7h-3zM740 407h3v7h-3zM758 407h3v7h-3zM800 407h3v7h-3zM812 407h3v7h-3zM824 407h3v7h-3zM866 407h3v7h-3zM908 407h3v7h-3zM950 407h3v7h-3zM659 414h3v7h-3zM791 414h3v7h-3zM881 414h3v7h-3zM935 414h3v7h-3zM659 421h3v7h-3zM791 421h3v7h-3zM881 421h3v7h-3zM935 421h3v7h-3zM659 428h3v7h-3zM791 428h3v7h-3zM881 428h3v7h-3zM935 428h3v7h-3z"/>
<path fill="#00f5d0" d="M980 350h3v9h-3zM1022 350h3v9h-3zM977 376h6v8h-6zM1019 376h6v8h-6zM656 392h3v8h-3zM671 392h3v8h-3zM695 392h3v8h-3zM710 392h3v8h-3zM722 392h3v8h-3zM737 392h3v8h-3zM755 392h3v8h-3zM770 392h3v8h-3zM788 392h3v8h-3zM797 392h3v8h-3zM809 392h3v8h-3zM821 392h3v8h-3zM842 392h3v8h-3zM863 392h3v8h-3zM878 392h3v8h-3zM890 392h3v8h-3zM905 392h3v8h-3zM932 392h3v8h-3zM947 392h3v8h-3zM653 400h6v7h-6zM671 400h3v7h-3zM695 400h3v7h-3zM710 400h6v7h-6zM722 400h6v7h-6zM737 400h3v7h-3zM755 400h3v7h-3zM770 400h6v7h-6zM785 400h6v7h-6zM797 400h3v7h-3zM809 400h3v7h-3zM821 400h3v7h-3zM842 400h6v7h-6zM863 400h3v7h-3zM875 400h6v7h-6zM890 400h6v7h-6zM905 400h3v7h-3zM929 400h6v7h-6zM947 400h3v7h-3zM668 407h3v7h-3zM692 407h3v7h-3zM734 407h3v7h-3zM752 407h3v7h-3zM794 407h3v7h-3zM806 407h3v7h-3zM818 407h3v7h-3zM860 407h3v7h-3zM902 407h3v7h-3zM944 407h3v7h-3zM644 414h3v7h-3zM674 414h3v7h-3zM698 414h3v7h-3zM707 414h3v7h-3zM719 414h3v7h-3zM740 414h3v7h-3zM758 414h3v7h-3zM767 414h3v7h-3zM800 414h3v7h-3zM812 414h3v7h-3zM824 414h3v7h-3zM839 414h3v7h-3zM866 414h3v7h-3zM887 414h3v7h-3zM908 414h3v7h-3zM950 414h3v7h-3zM707 421h3v7h-3zM719 421h3v7h-3zM767 421h3v7h-3zM839 421h3v7h-3zM887 421h3v7h-3zM707 428h3v7h-3zM719 428h3v7h-3zM767 428h3v7h-3zM839 428h3v7h-3zM887 428h3v7h-3z"/>
<path fill="#00ff82" d="M965 359h3v8h-3zM992 359h3v8h-3zM1007 359h3v8h-3zM1034 359h3v8h-3zM965 367h3v9h-3zM992 367h3v9h-3zM1007 367h3v9h-3zM1034 367h3v9h-3z"/>
<path fill="#00ffa0" d="M980 359h3v8h-3zM1022 359h3v8h-3zM980 367h3v9h-3zM1022 367h3v9h-3zM635 376h9v8h-9zM965 376h3v8h-3zM1007 376h3v8h-3zM635 384h9v8h-9zM635 392h9v8h-9zM635 400h9v7h-9zM635 407h9v7h-9zM635 414h9v7h-9zM653 414h6v7h-6zM671 414h3v7h-3zM695 414h3v7h-3zM710 414h6v7h-6zM722 414h6v7h-6zM737 414h3v7h-3zM755 414h3v7h-3zM770 414h6v7h-6zM785 414h6v7h-6zM797 414h3v7h-3zM809 414h3v7h-3zM821 414h3v7h-3zM842 414h6v7h-6zM863 414h3v7h-3zM875 414h6v7h-6zM890 414h6v7h-6zM905 414h3v7h-3zM929 414h6v7h-6zM947 414h3v7h-3zM638 421h6v7h-6zM653 421h6v7h-6zM668 421h6v7h-6zM692 421h6v7h-6zM710 421h6v7h-6zM722 421h6v7h-6zM734 421h6v7h-6zM752 421h6v7h-6zM770 421h6v7h-6zM785 421h6v7h-6zM794 421h6v7h-6zM806 421h6v7h-6zM818 421h6v7h-6zM842 421h6v7h-6zM860 421h6v7h-6zM875 421h6v7h-6zM890 421h6v7h-6zM902 421h6v7h-6zM929 421h6v7h-6zM944 421h6v7h-6zM638 428h6v7h-6zM653 428h6v7h-6zM668 428h6v7h-6zM692 428h6v7h-6zM710 428h6v7h-6zM722 428h6v7h-6zM734 428h6v7h-6zM752 428h6v7h-6zM770 428h6v7h-6zM785 428h6v7h-6zM794 428h6v7h-6zM806 428h6v7h-6zM818 428h6v7h-6zM842 428h6v7h-6zM860 428h6v7h-6zM875 428h6v7h-6zM890 428h6v7h-6zM902 428h6v7h-6zM929 428h6v7h-6zM944 428h6v7h-6z"/>
</g>
</g></g>
<clipPath id="cp2"><rect x="317.4" y="338.3" width="202.6" height="80.30000000000001"/></clipPath>
<g clip-path="url(#cp2)"><g filter="url(#sblur2)">
<g transform="scale(0.5)" shape-rendering="crispEdges">
<path fill="#000000" d="M635 677h405v4h-405zM635 681h405v7h-405zM635 688h405v8h-405zM635 696h405v6h-405zM635 702h405v7h-405zM635 709h405v7h-405zM635 716h405v6h-405zM635 722h405v6h-405zM635 728h369v6h-369zM1013 728h3v6h-3zM1028 728h3v6h-3zM1040 728h0v6h0zM635 734h330v6h-330zM968 734h21v6h-21zM1028 734h3v6h-3zM635 740h327v6h-327zM968 740h9v6h-9zM986 740h3v6h-3zM635 746h309v5h-309zM953 746h9v5h-9zM971 746h3v5h-3zM635 751h3v5h-3zM644 751h9v5h-9zM659 751h9v5h-9zM674 751h18v5h-18zM698 751h12v5h-12zM716 751h6v5h-6zM728 751h6v5h-6zM740 751h12v5h-12zM758 751h12v5h-12zM776 751h9v5h-9zM791 751h3v5h-3zM800 751h6v5h-6zM812 751h6v5h-6zM824 751h18v5h-18zM848 751h12v5h-12zM866 751h9v5h-9zM881 751h9v5h-9zM896 751h6v5h-6zM908 751h21v5h-21zM935 751h9v5h-9zM953 751h6v5h-6zM665 756h3v5h-3zM677 756h12v5h-12zM716 756h3v5h-3zM746 756h3v5h-3zM761 756h3v5h-3zM776 756h6v5h-6zM803 756h3v5h-3zM827 756h3v5h-3zM869 756h3v5h-3zM911 756h3v5h-3zM923 756h3v5h-3zM938 756h3v5h-3zM995 809h45v3h-45zM980 812h60v4h-60zM968 816h72v3h-72zM959 819h3v3h-3zM968 819h72v3h-72zM950 822h90v3h-90zM635 825h3v4h-3zM644 825h9v4h-9zM659 825h9v4h-9zM674 825h18v4h-18zM698 825h12v4h-12zM716 825h6v4h-6zM728 825h6v4h-6zM740 825h12v4h-12zM758 825h12v4h-12zM776 825h9v4h-9zM791 825h3v4h-3zM800 825h6v4h-6zM812 825h6v4h-6zM824 825h18v4h-18zM848 825h12v4h-12zM866 825h9v4h-9zM881 825h9v4h-9zM896 825h6v4h-6zM908 825h21v4h-21zM935 825h105v4h-105zM635 829h405v3h-405zM635 832h405v2h-405zM635 834h405v3h-405z"/>
<path fill="#0b0010" d="M1004 728h9v6h-9zM1016 728h12v6h-12zM1031 728h9v6h-9zM965 734h3v6h-3zM989 734h3v6h-3zM998 734h6v6h-6zM1013 734h3v6h-3zM1040 734h0v6h0zM962 740h3v6h-3zM1013 740h3v6h-3zM1028 740h3v6h-3zM944 746h9v5h-9zM986 746h3v5h-3zM638 751h6v5h-6zM653 751h6v5h-6zM668 751h6v5h-6zM692 751h6v5h-6zM710 751h6v5h-6zM722 751h6v5h-6zM734 751h6v5h-6zM752 751h6v5h-6zM770 751h6v5h-6zM785 751h6v5h-6zM794 751h6v5h-6zM806 751h6v5h-6zM818 751h6v5h-6zM842 751h6v5h-6zM860 751h6v5h-6zM875 751h6v5h-6zM890 751h6v5h-6zM902 751h6v5h-6zM929 751h6v5h-6zM944 751h3v5h-3zM959 751h3v5h-3zM971 751h3v5h-3zM986 751h3v5h-3zM647 756h6v5h-6zM659 756h6v5h-6zM689 756h3v5h-3zM698 756h6v5h-6zM707 756h3v5h-3zM731 756h3v5h-3zM764 756h3v5h-3zM782 756h3v5h-3zM812 756h3v5h-3zM824 756h3v5h-3zM848 756h3v5h-3zM881 756h3v5h-3zM887 756h3v5h-3zM914 756h3v5h-3zM935 756h3v5h-3zM971 756h3v5h-3zM647 761h6v5h-6zM662 761h6v5h-6zM677 761h15v5h-15zM701 761h3v5h-3zM716 761h3v5h-3zM731 761h3v5h-3zM746 761h3v5h-3zM761 761h6v5h-6zM776 761h9v5h-9zM803 761h3v5h-3zM827 761h3v5h-3zM848 761h3v5h-3zM869 761h3v5h-3zM911 761h6v5h-6zM923 761h3v5h-3zM938 761h3v5h-3zM647 766h3v5h-3zM662 766h6v5h-6zM677 766h15v5h-15zM701 766h3v5h-3zM731 766h3v5h-3zM746 766h3v5h-3zM761 766h6v5h-6zM779 766h3v5h-3zM803 766h3v5h-3zM827 766h3v5h-3zM869 766h3v5h-3zM911 766h6v5h-6zM923 766h3v5h-3zM998 801h42v4h-42zM983 805h57v4h-57zM971 809h24v3h-24zM959 812h3v4h-3zM968 812h12v4h-12zM950 816h18v3h-18zM635 819h3v3h-3zM644 819h9v3h-9zM659 819h9v3h-9zM674 819h18v3h-18zM698 819h12v3h-12zM716 819h6v3h-6zM728 819h6v3h-6zM740 819h12v3h-12zM758 819h12v3h-12zM776 819h9v3h-9zM791 819h3v3h-3zM800 819h6v3h-6zM812 819h6v3h-6zM824 819h18v3h-18zM848 819h12v3h-12zM866 819h9v3h-9zM881 819h9v3h-9zM896 819h6v3h-6zM908 819h21v3h-21zM935 819h12v3h-12zM950 819h9v3h-9zM962 819h6v3h-6zM635 822h315v3h-315zM638 825h6v4h-6zM653 825h6v4h-6zM668 825h6v4h-6zM692 825h6v4h-6zM710 825h6v4h-6zM722 825h6v4h-6zM734 825h6v4h-6zM752 825h6v4h-6zM770 825h6v4h-6zM785 825h6v4h-6zM794 825h6v4h-6zM806 825h6v4h-6zM818 825h6v4h-6zM842 825h6v4h-6zM860 825h6v4h-6zM875 825h6v4h-6zM890 825h6v4h-6zM902 825h6v4h-6zM929 825h6v4h-6z"/>
<path fill="#160020" d="M992 734h6v6h-6zM1016 734h3v6h-3zM1025 734h3v6h-3zM965 740h3v6h-3zM977 740h9v6h-9zM998 740h6v6h-6zM962 746h3v5h-3zM968 746h3v5h-3zM974 746h3v5h-3zM1013 746h3v5h-3zM1028 746h3v5h-3zM947 751h6v5h-6zM1028 751h3v5h-3zM635 756h6v5h-6zM653 756h6v5h-6zM668 756h6v5h-6zM710 756h6v5h-6zM722 756h6v5h-6zM734 756h3v5h-3zM743 756h3v5h-3zM752 756h6v5h-6zM770 756h6v5h-6zM785 756h3v5h-3zM791 756h3v5h-3zM797 756h3v5h-3zM806 756h6v5h-6zM818 756h6v5h-6zM845 756h3v5h-3zM857 756h9v5h-9zM875 756h3v5h-3zM890 756h15v5h-15zM917 756h6v5h-6zM929 756h3v5h-3zM959 756h3v5h-3zM986 756h3v5h-3zM635 761h3v5h-3zM659 761h3v5h-3zM698 761h3v5h-3zM707 761h3v5h-3zM743 761h3v5h-3zM791 761h3v5h-3zM812 761h3v5h-3zM824 761h3v5h-3zM857 761h3v5h-3zM881 761h3v5h-3zM887 761h3v5h-3zM896 761h6v5h-6zM917 761h6v5h-6zM935 761h3v5h-3zM959 761h3v5h-3zM635 766h3v5h-3zM650 766h3v5h-3zM716 766h3v5h-3zM743 766h3v5h-3zM776 766h3v5h-3zM782 766h3v5h-3zM848 766h3v5h-3zM857 766h3v5h-3zM896 766h6v5h-6zM917 766h6v5h-6zM938 766h3v5h-3zM635 771h3v5h-3zM647 771h3v5h-3zM662 771h6v5h-6zM677 771h15v5h-15zM701 771h3v5h-3zM716 771h3v5h-3zM731 771h3v5h-3zM743 771h6v5h-6zM761 771h6v5h-6zM776 771h6v5h-6zM803 771h3v5h-3zM827 771h3v5h-3zM848 771h3v5h-3zM857 771h3v5h-3zM869 771h3v5h-3zM896 771h6v5h-6zM911 771h15v5h-15zM1004 797h36v4h-36zM986 801h12v4h-12zM974 805h9v4h-9zM968 809h3v3h-3zM950 812h9v4h-9zM962 812h6v4h-6zM935 816h12v3h-12zM638 819h3v3h-3zM653 819h6v3h-6zM668 819h3v3h-3zM692 819h3v3h-3zM710 819h6v3h-6zM722 819h6v3h-6zM734 819h3v3h-3zM752 819h3v3h-3zM770 819h6v3h-6zM785 819h6v3h-6zM794 819h3v3h-3zM806 819h3v3h-3zM818 819h3v3h-3zM842 819h6v3h-6zM860 819h3v3h-3zM875 819h6v3h-6zM890 819h6v3h-6zM902 819h3v3h-3zM929 819h6v3h-6zM947 819h3v3h-3z"/>
<path fill="#220031" d="M1004 734h3v6h-3zM1010 734h3v6h-3zM1031 734h3v6h-3zM989 740h3v6h-3zM1040 740h0v6h0zM1013 751h3v5h-3zM737 756h3v5h-3zM767 756h3v5h-3zM788 756h3v5h-3zM794 756h3v5h-3zM836 756h3v5h-3zM842 756h3v5h-3zM851 756h6v5h-6zM905 756h3v5h-3zM944 756h3v5h-3zM950 756h3v5h-3zM1028 756h3v5h-3zM638 761h3v5h-3zM668 761h3v5h-3zM713 761h3v5h-3zM725 761h3v5h-3zM734 761h3v5h-3zM752 761h3v5h-3zM767 761h3v5h-3zM773 761h3v5h-3zM794 761h3v5h-3zM806 761h3v5h-3zM818 761h3v5h-3zM836 761h3v5h-3zM845 761h3v5h-3zM851 761h6v5h-6zM860 761h3v5h-3zM893 761h3v5h-3zM902 761h3v5h-3zM971 761h3v5h-3zM659 766h3v5h-3zM791 766h3v5h-3zM836 766h3v5h-3zM851 766h6v5h-6zM881 766h3v5h-3zM935 766h3v5h-3zM959 766h3v5h-3zM650 771h3v5h-3zM782 771h3v5h-3zM836 771h3v5h-3zM851 771h6v5h-6zM938 771h3v5h-3zM995 797h9v4h-9zM980 801h6v4h-6zM968 805h6v4h-6zM959 809h9v3h-9zM944 812h3v4h-3zM635 816h6v3h-6zM644 816h12v3h-12zM659 816h12v3h-12zM674 816h21v3h-21zM698 816h12v3h-12zM713 816h9v3h-9zM725 816h12v3h-12zM740 816h15v3h-15zM758 816h12v3h-12zM773 816h15v3h-15zM791 816h6v3h-6zM800 816h9v3h-9zM812 816h9v3h-9zM824 816h18v3h-18zM845 816h18v3h-18zM866 816h12v3h-12zM881 816h9v3h-9zM893 816h12v3h-12zM908 816h27v3h-27zM947 816h3v3h-3zM641 819h3v3h-3zM671 819h3v3h-3zM695 819h3v3h-3zM737 819h3v3h-3zM755 819h3v3h-3zM797 819h3v3h-3zM809 819h3v3h-3zM821 819h3v3h-3zM863 819h3v3h-3zM905 819h3v3h-3z"/>
<path fill="#2d0041" d="M1007 734h3v6h-3zM1019 734h3v6h-3zM1037 734h3v6h-3zM965 746h3v5h-3zM983 746h3v5h-3zM998 746h6v5h-6zM962 751h3v5h-3zM974 751h3v5h-3zM641 756h6v5h-6zM674 756h3v5h-3zM692 756h3v5h-3zM719 756h3v5h-3zM800 756h3v5h-3zM815 756h3v5h-3zM884 756h3v5h-3zM932 756h3v5h-3zM941 756h3v5h-3zM956 756h3v5h-3zM1013 756h3v5h-3zM644 761h3v5h-3zM653 761h6v5h-6zM674 761h3v5h-3zM692 761h3v5h-3zM719 761h3v5h-3zM785 761h6v5h-6zM800 761h3v5h-3zM815 761h3v5h-3zM875 761h3v5h-3zM884 761h3v5h-3zM929 761h3v5h-3zM941 761h3v5h-3zM956 761h3v5h-3zM986 761h3v5h-3zM644 766h3v5h-3zM674 766h3v5h-3zM698 766h3v5h-3zM707 766h3v5h-3zM719 766h3v5h-3zM767 766h3v5h-3zM800 766h3v5h-3zM812 766h6v5h-6zM824 766h3v5h-3zM884 766h6v5h-6zM941 766h3v5h-3zM956 766h3v5h-3zM659 771h3v5h-3zM791 771h3v5h-3zM815 771h3v5h-3zM881 771h6v5h-6zM941 771h3v5h-3zM665 776h3v4h-3zM716 776h3v4h-3zM776 776h3v4h-3zM920 776h3v4h-3zM1004 793h36v4h-36zM989 797h6v4h-6zM977 801h3v4h-3zM953 809h6v3h-6zM938 812h6v4h-6zM947 812h3v4h-3zM641 816h3v3h-3zM656 816h3v3h-3zM671 816h3v3h-3zM695 816h3v3h-3zM710 816h3v3h-3zM722 816h3v3h-3zM737 816h3v3h-3zM755 816h3v3h-3zM770 816h3v3h-3zM788 816h3v3h-3zM797 816h3v3h-3zM809 816h3v3h-3zM821 816h3v3h-3zM842 816h3v3h-3zM863 816h3v3h-3zM878 816h3v3h-3zM890 816h3v3h-3zM905 816h3v3h-3z"/>
<path fill="#3a0056" d="M1022 734h3v6h-3zM1034 734h3v6h-3zM1016 740h3v6h-3zM1040 746h0v5h0zM968 751h3v5h-3zM1001 751h3v5h-3zM695 756h3v5h-3zM704 756h3v5h-3zM740 756h3v5h-3zM749 756h3v5h-3zM758 756h3v5h-3zM926 756h3v5h-3zM947 756h3v5h-3zM953 756h3v5h-3zM641 761h3v5h-3zM671 761h3v5h-3zM695 761h3v5h-3zM704 761h3v5h-3zM710 761h3v5h-3zM722 761h3v5h-3zM737 761h6v5h-6zM749 761h3v5h-3zM755 761h6v5h-6zM770 761h3v5h-3zM797 761h3v5h-3zM809 761h3v5h-3zM821 761h3v5h-3zM842 761h3v5h-3zM863 761h3v5h-3zM890 761h3v5h-3zM905 761h3v5h-3zM926 761h3v5h-3zM932 761h3v5h-3zM944 761h3v5h-3zM950 761h6v5h-6zM704 766h3v5h-3zM740 766h3v5h-3zM749 766h3v5h-3zM758 766h3v5h-3zM926 766h3v5h-3zM953 766h3v5h-3zM971 766h3v5h-3zM704 771h3v5h-3zM749 771h3v5h-3zM926 771h3v5h-3zM935 771h3v5h-3zM953 771h6v5h-6zM635 776h3v4h-3zM647 776h6v4h-6zM662 776h3v4h-3zM677 776h15v4h-15zM701 776h6v4h-6zM731 776h3v4h-3zM743 776h9v4h-9zM761 776h6v4h-6zM779 776h6v4h-6zM803 776h3v4h-3zM815 776h3v4h-3zM827 776h3v4h-3zM836 776h3v4h-3zM848 776h12v4h-12zM869 776h3v4h-3zM884 776h3v4h-3zM896 776h6v4h-6zM911 776h9v4h-9zM923 776h6v4h-6zM938 776h3v4h-3zM1001 793h3v4h-3zM986 797h3v4h-3zM974 801h3v4h-3zM962 805h6v4h-6zM950 809h3v3h-3zM935 812h3v4h-3z"/>
<path fill="#46006c" d="M992 740h3v6h-3zM1025 740h3v6h-3zM977 746h3v5h-3zM998 751h3v5h-3zM728 756h3v5h-3zM830 756h3v5h-3zM866 756h3v5h-3zM974 756h3v5h-3zM1001 756h3v5h-3zM728 761h3v5h-3zM830 761h3v5h-3zM866 761h3v5h-3zM1001 761h3v5h-3zM1013 761h3v5h-3zM1028 761h3v5h-3zM638 766h3v5h-3zM668 766h3v5h-3zM692 766h3v5h-3zM713 766h3v5h-3zM725 766h6v5h-6zM734 766h3v5h-3zM752 766h3v5h-3zM773 766h3v5h-3zM794 766h3v5h-3zM806 766h3v5h-3zM818 766h3v5h-3zM830 766h3v5h-3zM845 766h3v5h-3zM860 766h3v5h-3zM866 766h3v5h-3zM893 766h3v5h-3zM902 766h3v5h-3zM707 771h3v5h-3zM719 771h3v5h-3zM728 771h3v5h-3zM767 771h3v5h-3zM830 771h3v5h-3zM887 771h3v5h-3zM959 771h3v5h-3zM659 776h3v4h-3zM728 776h3v4h-3zM791 776h3v4h-3zM830 776h3v4h-3zM881 776h3v4h-3zM941 776h3v4h-3zM995 793h6v4h-6zM980 797h6v4h-6zM971 801h3v4h-3zM959 805h3v4h-3zM947 809h3v3h-3zM635 812h3v4h-3zM641 812h9v4h-9zM656 812h6v4h-6zM665 812h6v4h-6zM674 812h3v4h-3zM680 812h3v4h-3zM686 812h3v4h-3zM692 812h15v4h-15zM713 812h12v4h-12zM728 812h15v4h-15zM749 812h6v4h-6zM758 812h42v4h-42zM803 812h6v4h-6zM812 812h3v4h-3zM818 812h6v4h-6zM827 812h3v4h-3zM833 812h3v4h-3zM842 812h30v4h-30zM878 812h6v4h-6zM887 812h3v4h-3zM899 812h36v4h-36z"/>
<path fill="#520081" d="M995 740h3v6h-3zM1031 740h3v6h-3zM980 746h3v5h-3zM989 746h3v5h-3zM965 751h3v5h-3zM1040 751h0v5h0zM833 756h3v5h-3zM839 756h3v5h-3zM872 756h3v5h-3zM878 756h3v5h-3zM908 756h3v5h-3zM962 756h3v5h-3zM998 756h3v5h-3zM833 761h3v5h-3zM839 761h3v5h-3zM872 761h3v5h-3zM878 761h3v5h-3zM908 761h3v5h-3zM653 766h3v5h-3zM785 766h3v5h-3zM833 766h3v5h-3zM839 766h3v5h-3zM872 766h6v5h-6zM908 766h3v5h-3zM986 766h3v5h-3zM644 771h3v5h-3zM674 771h3v5h-3zM698 771h3v5h-3zM740 771h3v5h-3zM758 771h3v5h-3zM800 771h3v5h-3zM812 771h3v5h-3zM824 771h3v5h-3zM833 771h3v5h-3zM839 771h3v5h-3zM866 771h3v5h-3zM872 771h3v5h-3zM908 771h3v5h-3zM833 776h3v4h-3zM872 776h3v4h-3zM935 776h3v4h-3zM1013 789h6v4h-6zM1025 789h9v4h-9zM1040 789h0v4h0zM989 793h6v4h-6zM977 797h3v4h-3zM968 801h3v4h-3zM944 809h3v3h-3zM638 812h3v4h-3zM650 812h6v4h-6zM662 812h3v4h-3zM671 812h3v4h-3zM677 812h3v4h-3zM683 812h3v4h-3zM689 812h3v4h-3zM707 812h6v4h-6zM725 812h3v4h-3zM743 812h6v4h-6zM755 812h3v4h-3zM800 812h3v4h-3zM809 812h3v4h-3zM815 812h3v4h-3zM824 812h3v4h-3zM830 812h3v4h-3zM836 812h6v4h-6zM872 812h6v4h-6zM884 812h3v4h-3zM890 812h9v4h-9z"/>
<path fill="#5f0096" d="M1004 740h3v6h-3zM1010 740h3v6h-3zM1016 746h3v5h-3zM983 751h3v5h-3zM1040 756h0v5h0zM974 761h3v5h-3zM998 761h3v5h-3zM656 766h3v5h-3zM710 766h3v5h-3zM722 766h3v5h-3zM770 766h3v5h-3zM788 766h3v5h-3zM842 766h3v5h-3zM878 766h3v5h-3zM890 766h3v5h-3zM929 766h3v5h-3zM944 766h3v5h-3zM950 766h3v5h-3zM707 776h3v4h-3zM719 776h3v4h-3zM767 776h3v4h-3zM839 776h3v4h-3zM887 776h3v4h-3zM1001 789h6v4h-6zM1010 789h3v4h-3zM1019 789h6v4h-6zM1034 789h6v4h-6zM986 793h3v4h-3zM953 805h6v4h-6zM938 809h3v3h-3z"/>
<path fill="#5a00b2" d="M1007 740h3v6h-3zM1019 740h3v6h-3zM1037 740h3v6h-3zM1016 751h3v5h-3zM983 756h3v5h-3zM962 761h3v5h-3zM1013 766h3v5h-3zM1028 766h3v5h-3zM713 771h3v5h-3zM725 771h3v5h-3zM773 771h3v5h-3zM845 771h3v5h-3zM893 771h3v5h-3zM644 776h3v4h-3zM674 776h3v4h-3zM698 776h3v4h-3zM740 776h3v4h-3zM758 776h3v4h-3zM800 776h3v4h-3zM812 776h3v4h-3zM824 776h3v4h-3zM866 776h3v4h-3zM908 776h3v4h-3zM956 776h3v4h-3zM650 780h3v5h-3zM662 780h3v5h-3zM677 780h9v5h-9zM689 780h3v5h-3zM707 780h3v5h-3zM719 780h3v5h-3zM743 780h9v5h-9zM761 780h3v5h-3zM767 780h3v5h-3zM779 780h3v5h-3zM791 780h3v5h-3zM815 780h3v5h-3zM830 780h3v5h-3zM836 780h6v5h-6zM869 780h6v5h-6zM884 780h6v5h-6zM896 780h3v5h-3zM935 780h6v5h-6zM1013 785h6v4h-6zM1028 785h6v4h-6zM989 789h3v4h-3zM995 789h3v4h-3zM980 793h6v4h-6zM971 797h3v4h-3zM962 801h3v4h-3zM737 809h3v3h-3zM776 809h3v3h-3zM812 809h3v3h-3z"/>
<path fill="#5800bf" d="M1022 740h3v6h-3zM1034 740h3v6h-3zM965 756h3v5h-3zM1016 756h3v5h-3zM653 771h3v5h-3zM785 771h3v5h-3zM875 771h3v5h-3zM950 771h3v5h-3zM959 776h3v4h-3zM1016 780h3v5h-3zM1025 780h3v5h-3zM1001 785h3v4h-3zM1010 785h3v4h-3zM968 797h3v4h-3zM959 801h3v4h-3zM947 805h3v4h-3zM635 809h3v3h-3zM647 809h3v3h-3zM656 809h3v3h-3zM665 809h6v3h-6zM674 809h3v3h-3zM692 809h3v3h-3zM698 809h3v3h-3zM704 809h3v3h-3zM713 809h12v3h-12zM740 809h3v3h-3zM752 809h3v3h-3zM758 809h3v3h-3zM764 809h12v3h-12zM782 809h3v3h-3zM794 809h6v3h-6zM803 809h6v3h-6zM818 809h6v3h-6zM833 809h3v3h-3zM845 809h6v3h-6zM854 809h3v3h-3zM860 809h3v3h-3zM878 809h3v3h-3zM887 809h3v3h-3zM902 809h3v3h-3zM914 809h3v3h-3zM920 809h9v3h-9z"/>
<path fill="#4700d8" d="M992 746h6v5h-6zM1010 746h3v5h-3zM983 766h3v5h-3zM641 771h3v5h-3zM671 771h3v5h-3zM695 771h3v5h-3zM710 771h3v5h-3zM722 771h3v5h-3zM737 771h3v5h-3zM755 771h3v5h-3zM770 771h3v5h-3zM797 771h3v5h-3zM809 771h3v5h-3zM821 771h3v5h-3zM842 771h3v5h-3zM863 771h3v5h-3zM890 771h3v5h-3zM905 771h3v5h-3zM932 771h3v5h-3zM983 771h3v5h-3zM998 771h3v5h-3zM713 776h3v4h-3zM725 776h3v4h-3zM773 776h3v4h-3zM845 776h3v4h-3zM893 776h3v4h-3zM950 776h3v4h-3zM1001 776h3v4h-3zM1013 776h3v4h-3zM1028 776h3v4h-3zM998 780h3v5h-3zM1031 780h3v5h-3zM1019 785h6v4h-6zM974 793h3v4h-3zM953 801h6v4h-6zM938 805h3v4h-3zM650 809h3v3h-3zM662 809h3v3h-3zM689 809h3v3h-3zM707 809h6v3h-6zM743 809h3v3h-3zM755 809h3v3h-3zM809 809h3v3h-3zM815 809h3v3h-3zM824 809h3v3h-3zM836 809h3v3h-3zM884 809h3v3h-3zM893 809h6v3h-6z"/>
<path fill="#3a00e4" d="M1004 746h3v5h-3zM980 751h3v5h-3zM1025 756h3v5h-3zM968 761h3v5h-3zM1025 761h3v5h-3zM947 766h3v5h-3zM962 766h3v5h-3zM1025 766h3v5h-3zM1025 771h3v5h-3zM971 776h6v4h-6zM986 776h3v4h-3zM998 776h3v4h-3zM950 780h6v5h-6zM1010 780h3v5h-3zM986 785h3v4h-3zM1007 785h3v4h-3zM1034 785h3v4h-3zM983 789h3v4h-3zM971 793h3v4h-3zM965 797h3v4h-3zM950 801h3v4h-3zM941 805h3v4h-3z"/>
<path fill="#160afb" d="M1007 746h3v5h-3zM1019 746h3v5h-3zM1010 751h3v5h-3zM1031 756h3v5h-3zM989 761h3v5h-3zM968 766h3v5h-3zM989 766h3v5h-3zM962 771h3v5h-3zM989 771h3v5h-3zM1031 771h3v5h-3zM656 776h3v4h-3zM788 776h3v4h-3zM878 776h3v4h-3zM713 780h3v5h-3zM725 780h3v5h-3zM773 780h3v5h-3zM845 780h3v5h-3zM893 780h3v5h-3zM944 780h3v5h-3zM959 780h3v5h-3zM971 780h3v5h-3zM1004 780h3v5h-3zM644 785h3v4h-3zM677 785h9v4h-9zM746 785h6v4h-6zM761 785h3v4h-3zM779 785h3v4h-3zM791 785h3v4h-3zM800 785h3v4h-3zM830 785h3v4h-3zM839 785h3v4h-3zM869 785h6v4h-6zM884 785h3v4h-3zM908 785h3v4h-3zM968 785h3v4h-3zM992 785h3v4h-3zM968 789h6v4h-6zM977 789h3v4h-3zM950 797h6v4h-6zM938 801h3v4h-3zM944 801h6v4h-6zM647 805h3v4h-3zM668 805h3v4h-3zM692 805h3v4h-3zM704 805h3v4h-3zM734 805h3v4h-3zM740 805h3v4h-3zM758 805h3v4h-3zM767 805h9v4h-9zM794 805h6v4h-6zM803 805h3v4h-3zM818 805h6v4h-6zM827 805h3v4h-3zM833 805h3v4h-3zM842 805h3v4h-3zM848 805h9v4h-9zM863 805h3v4h-3zM878 805h6v4h-6zM887 805h3v4h-3zM902 805h3v4h-3zM914 805h6v4h-6zM923 805h3v4h-3z"/>
<path fill="#0f14fc" d="M1022 746h3v5h-3zM1034 746h3v5h-3zM977 756h3v5h-3zM1031 761h3v5h-3zM1031 766h3v5h-3zM968 771h3v5h-3zM710 776h3v4h-3zM722 776h3v4h-3zM770 776h3v4h-3zM842 776h3v4h-3zM890 776h3v4h-3zM932 776h3v4h-3zM962 776h3v4h-3zM968 776h3v4h-3zM1010 776h3v4h-3zM962 780h3v5h-3zM968 780h3v5h-3zM1019 780h3v5h-3zM650 785h3v4h-3zM662 785h3v4h-3zM689 785h3v4h-3zM707 785h3v4h-3zM743 785h3v4h-3zM815 785h3v4h-3zM824 785h3v4h-3zM836 785h3v4h-3zM896 785h3v4h-3zM944 785h3v4h-3zM950 785h6v4h-6zM971 785h3v4h-3zM965 793h3v4h-3zM956 797h3v4h-3zM641 805h6v4h-6zM659 805h3v4h-3zM671 805h3v4h-3zM677 805h12v4h-12zM695 805h3v4h-3zM701 805h3v4h-3zM725 805h9v4h-9zM749 805h3v4h-3zM761 805h3v4h-3zM779 805h3v4h-3zM785 805h9v4h-9zM800 805h3v4h-3zM830 805h3v4h-3zM839 805h3v4h-3zM857 805h3v4h-3zM866 805h12v4h-12zM890 805h3v4h-3zM899 805h3v4h-3zM905 805h9v4h-9zM929 805h6v4h-6z"/>
<path fill="#5c00a4" d="M1025 746h3v5h-3zM968 756h3v5h-3zM947 761h3v5h-3zM641 766h3v5h-3zM671 766h3v5h-3zM695 766h3v5h-3zM737 766h3v5h-3zM755 766h3v5h-3zM797 766h3v5h-3zM809 766h3v5h-3zM821 766h3v5h-3zM863 766h3v5h-3zM905 766h3v5h-3zM932 766h3v5h-3zM974 766h3v5h-3zM998 766h6v5h-6zM638 771h3v5h-3zM668 771h3v5h-3zM692 771h3v5h-3zM734 771h3v5h-3zM752 771h3v5h-3zM794 771h3v5h-3zM806 771h3v5h-3zM818 771h3v5h-3zM860 771h3v5h-3zM902 771h3v5h-3zM971 771h6v5h-6zM953 776h3v4h-3zM647 780h3v5h-3zM659 780h3v5h-3zM665 780h3v5h-3zM686 780h3v5h-3zM701 780h6v5h-6zM716 780h3v5h-3zM728 780h6v5h-6zM764 780h3v5h-3zM776 780h3v5h-3zM782 780h3v5h-3zM803 780h3v5h-3zM827 780h3v5h-3zM833 780h3v5h-3zM848 780h12v5h-12zM881 780h3v5h-3zM899 780h3v5h-3zM911 780h18v5h-18zM1025 785h3v4h-3zM998 789h3v4h-3zM1007 789h3v4h-3zM974 797h3v4h-3zM965 801h3v4h-3zM950 805h3v4h-3zM935 809h3v3h-3zM941 809h3v3h-3z"/>
<path fill="#5500cd" d="M1031 746h3v5h-3zM977 751h3v5h-3zM989 751h3v5h-3zM1025 751h3v5h-3zM983 761h3v5h-3zM1016 761h3v5h-3zM1016 766h3v5h-3zM656 771h3v5h-3zM788 771h3v5h-3zM878 771h3v5h-3zM929 771h3v5h-3zM944 771h3v5h-3zM986 771h3v5h-3zM1001 771h3v5h-3zM1013 771h6v5h-6zM1028 771h3v5h-3zM638 776h3v4h-3zM668 776h3v4h-3zM692 776h3v4h-3zM734 776h3v4h-3zM752 776h3v4h-3zM794 776h3v4h-3zM806 776h3v4h-3zM818 776h3v4h-3zM860 776h3v4h-3zM902 776h3v4h-3zM1016 776h3v4h-3zM1025 776h3v4h-3zM644 780h3v5h-3zM674 780h3v5h-3zM698 780h3v5h-3zM740 780h3v5h-3zM758 780h3v5h-3zM800 780h3v5h-3zM812 780h3v5h-3zM824 780h3v5h-3zM866 780h3v5h-3zM908 780h3v5h-3zM941 780h3v5h-3zM1001 780h3v5h-3zM1013 780h3v5h-3zM1028 780h3v5h-3zM989 785h3v4h-3zM998 785h3v4h-3zM1004 785h3v4h-3zM986 789h3v4h-3zM992 789h3v4h-3zM977 793h3v4h-3zM944 805h3v4h-3zM638 809h9v3h-9zM653 809h3v3h-3zM659 809h3v3h-3zM671 809h3v3h-3zM677 809h12v3h-12zM695 809h3v3h-3zM701 809h3v3h-3zM725 809h12v3h-12zM746 809h6v3h-6zM761 809h3v3h-3zM779 809h3v3h-3zM785 809h9v3h-9zM800 809h3v3h-3zM827 809h6v3h-6zM839 809h6v3h-6zM851 809h3v3h-3zM857 809h3v3h-3zM863 809h15v3h-15zM881 809h3v3h-3zM890 809h3v3h-3zM899 809h3v3h-3zM905 809h9v3h-9zM917 809h3v3h-3zM929 809h6v3h-6z"/>
<path fill="#1e00fa" d="M1037 746h3v5h-3zM965 761h3v5h-3zM653 776h3v4h-3zM785 776h3v4h-3zM875 776h3v4h-3zM929 776h3v4h-3zM989 776h3v4h-3zM1031 776h3v4h-3zM956 780h3v5h-3zM974 780h3v5h-3zM983 780h3v5h-3zM647 785h3v4h-3zM659 785h3v4h-3zM668 785h3v4h-3zM686 785h3v4h-3zM692 785h3v4h-3zM701 785h6v4h-6zM728 785h9v4h-9zM740 785h3v4h-3zM752 785h3v4h-3zM758 785h3v4h-3zM767 785h3v4h-3zM794 785h3v4h-3zM803 785h6v4h-6zM818 785h3v4h-3zM827 785h3v4h-3zM833 785h3v4h-3zM848 785h15v4h-15zM866 785h3v4h-3zM881 785h3v4h-3zM887 785h3v4h-3zM899 785h6v4h-6zM911 785h9v4h-9zM923 785h3v4h-3zM935 785h6v4h-6zM974 785h3v4h-3zM983 785h3v4h-3zM980 789h3v4h-3zM959 797h3v4h-3zM656 805h3v4h-3zM665 805h3v4h-3zM674 805h3v4h-3zM698 805h3v4h-3zM713 805h12v4h-12zM737 805h3v4h-3zM752 805h3v4h-3zM764 805h3v4h-3zM776 805h3v4h-3zM782 805h3v4h-3zM806 805h3v4h-3zM812 805h3v4h-3zM845 805h3v4h-3zM860 805h3v4h-3zM920 805h3v4h-3zM926 805h3v4h-3z"/>
<path fill="#0028ff" d="M992 751h3v5h-3zM980 756h3v5h-3zM1010 761h3v5h-3zM1010 766h3v5h-3zM1004 776h3v4h-3zM929 780h3v5h-3zM956 785h3v4h-3zM962 785h3v4h-3zM665 789h3v4h-3zM674 789h3v4h-3zM698 789h3v4h-3zM713 789h9v4h-9zM752 789h3v4h-3zM764 789h3v4h-3zM782 789h3v4h-3zM806 789h3v4h-3zM845 789h3v4h-3zM860 789h3v4h-3zM920 789h3v4h-3zM926 789h3v4h-3zM935 789h6v4h-6zM959 789h9v4h-9zM938 793h3v4h-3zM956 793h3v4h-3zM938 797h3v4h-3zM944 797h6v4h-6zM647 801h3v4h-3zM656 801h3v4h-3zM713 801h3v4h-3zM719 801h6v4h-6zM752 801h3v4h-3zM764 801h3v4h-3zM782 801h3v4h-3zM794 801h6v4h-6zM806 801h3v4h-3zM818 801h3v4h-3zM854 801h3v4h-3zM860 801h3v4h-3zM923 801h6v4h-6zM941 801h3v4h-3z"/>
<path fill="#081efe" d="M995 751h3v5h-3zM1004 751h3v5h-3zM1010 756h3v5h-3zM947 771h3v5h-3zM1010 771h3v5h-3zM641 776h3v4h-3zM671 776h3v4h-3zM695 776h3v4h-3zM737 776h3v4h-3zM755 776h3v4h-3zM797 776h3v4h-3zM809 776h3v4h-3zM821 776h3v4h-3zM863 776h3v4h-3zM905 776h3v4h-3zM653 780h3v5h-3zM785 780h3v5h-3zM875 780h3v5h-3zM995 780h3v5h-3zM1007 780h3v5h-3zM1022 780h3v5h-3zM1034 780h3v5h-3zM713 785h3v4h-3zM725 785h3v4h-3zM773 785h3v4h-3zM845 785h3v4h-3zM893 785h3v4h-3zM941 785h3v4h-3zM959 785h3v4h-3zM776 789h3v4h-3zM812 789h3v4h-3zM950 789h6v4h-6zM950 793h6v4h-6zM959 793h6v4h-6zM665 801h3v4h-3zM674 801h3v4h-3zM698 801h3v4h-3zM716 801h3v4h-3zM737 801h3v4h-3zM776 801h3v4h-3zM812 801h3v4h-3zM845 801h3v4h-3zM920 801h3v4h-3zM935 801h3v4h-3zM650 805h6v4h-6zM662 805h3v4h-3zM689 805h3v4h-3zM707 805h6v4h-6zM743 805h6v4h-6zM755 805h3v4h-3zM809 805h3v4h-3zM815 805h3v4h-3zM824 805h3v4h-3zM836 805h3v4h-3zM884 805h3v4h-3zM893 805h6v4h-6z"/>
<path fill="#005cff" d="M1007 751h3v5h-3zM1022 751h3v5h-3zM1034 751h3v5h-3zM977 761h3v5h-3zM1004 761h3v5h-3zM1004 766h3v5h-3zM947 776h3v4h-3zM1022 776h3v4h-3zM1034 776h3v4h-3zM641 780h3v5h-3zM671 780h3v5h-3zM695 780h3v5h-3zM710 780h3v5h-3zM722 780h3v5h-3zM737 780h3v5h-3zM755 780h3v5h-3zM770 780h3v5h-3zM797 780h3v5h-3zM809 780h3v5h-3zM821 780h3v5h-3zM842 780h3v5h-3zM863 780h3v5h-3zM890 780h3v5h-3zM905 780h3v5h-3zM656 785h3v4h-3zM788 785h3v4h-3zM878 785h3v4h-3zM965 785h3v4h-3zM653 789h3v4h-3zM677 789h3v4h-3zM683 789h3v4h-3zM725 789h3v4h-3zM746 789h3v4h-3zM800 789h3v4h-3zM815 789h3v4h-3zM830 789h3v4h-3zM836 789h6v4h-6zM872 789h6v4h-6zM884 789h3v4h-3zM941 789h3v4h-3zM692 793h3v4h-3zM704 793h3v4h-3zM734 793h3v4h-3zM740 793h3v4h-3zM758 793h3v4h-3zM767 793h3v4h-3zM773 793h3v4h-3zM803 793h3v4h-3zM827 793h3v4h-3zM833 793h3v4h-3zM848 793h6v4h-6zM878 793h6v4h-6zM887 793h3v4h-3zM914 793h6v4h-6zM941 793h3v4h-3zM641 797h3v4h-3zM659 797h3v4h-3zM680 797h3v4h-3zM686 797h3v4h-3zM695 797h3v4h-3zM701 797h6v4h-6zM728 797h9v4h-9zM740 797h3v4h-3zM749 797h3v4h-3zM758 797h3v4h-3zM773 797h3v4h-3zM827 797h3v4h-3zM833 797h3v4h-3zM842 797h3v4h-3zM851 797h3v4h-3zM857 797h3v4h-3zM863 797h6v4h-6zM878 797h6v4h-6zM899 797h3v4h-3zM911 797h3v4h-3zM917 797h3v4h-3zM653 801h3v4h-3zM671 801h3v4h-3zM677 801h3v4h-3zM683 801h3v4h-3zM725 801h3v4h-3zM746 801h3v4h-3zM755 801h3v4h-3zM800 801h3v4h-3zM809 801h3v4h-3zM815 801h3v4h-3zM836 801h6v4h-6zM872 801h6v4h-6zM884 801h3v4h-3zM890 801h3v4h-3zM896 801h3v4h-3zM932 801h3v4h-3z"/>
<path fill="#004bff" d="M1019 751h3v5h-3zM995 756h3v5h-3zM1004 756h3v5h-3zM1004 771h3v5h-3zM995 776h3v4h-3zM1019 776h3v4h-3zM932 780h3v5h-3zM992 780h3v5h-3zM653 785h3v4h-3zM785 785h3v4h-3zM875 785h3v4h-3zM929 785h3v4h-3zM644 789h3v4h-3zM659 789h3v4h-3zM680 789h3v4h-3zM686 789h3v4h-3zM701 789h3v4h-3zM728 789h6v4h-6zM749 789h3v4h-3zM761 789h3v4h-3zM779 789h3v4h-3zM785 789h3v4h-3zM791 789h3v4h-3zM851 789h3v4h-3zM857 789h3v4h-3zM866 789h6v4h-6zM899 789h3v4h-3zM908 789h6v4h-6zM929 789h3v4h-3zM647 793h3v4h-3zM656 793h3v4h-3zM668 793h3v4h-3zM713 793h3v4h-3zM752 793h3v4h-3zM764 793h3v4h-3zM782 793h3v4h-3zM794 793h3v4h-3zM806 793h3v4h-3zM818 793h3v4h-3zM854 793h3v4h-3zM860 793h3v4h-3zM902 793h3v4h-3zM923 793h6v4h-6zM647 797h3v4h-3zM668 797h3v4h-3zM692 797h3v4h-3zM722 797h3v4h-3zM752 797h3v4h-3zM764 797h9v4h-9zM794 797h6v4h-6zM803 797h3v4h-3zM818 797h6v4h-6zM848 797h3v4h-3zM854 797h3v4h-3zM860 797h3v4h-3zM887 797h3v4h-3zM902 797h3v4h-3zM914 797h3v4h-3zM923 797h3v4h-3zM941 797h3v4h-3zM641 801h6v4h-6zM659 801h3v4h-3zM680 801h3v4h-3zM686 801h3v4h-3zM695 801h3v4h-3zM701 801h3v4h-3zM728 801h6v4h-6zM749 801h3v4h-3zM761 801h3v4h-3zM779 801h3v4h-3zM785 801h9v4h-9zM830 801h3v4h-3zM857 801h3v4h-3zM866 801h6v4h-6zM899 801h3v4h-3zM905 801h9v4h-9zM929 801h3v4h-3z"/>
<path fill="#2c00ef" d="M1031 751h3v5h-3zM989 756h3v5h-3zM944 776h3v4h-3zM983 776h3v4h-3zM668 780h3v5h-3zM692 780h3v5h-3zM734 780h3v5h-3zM752 780h3v5h-3zM794 780h3v5h-3zM806 780h3v5h-3zM818 780h3v5h-3zM860 780h3v5h-3zM902 780h3v5h-3zM986 780h6v5h-6zM665 785h3v4h-3zM674 785h3v4h-3zM698 785h3v4h-3zM716 785h6v4h-6zM764 785h3v4h-3zM776 785h3v4h-3zM782 785h3v4h-3zM812 785h3v4h-3zM920 785h3v4h-3zM926 785h3v4h-3zM995 785h3v4h-3zM974 789h3v4h-3zM968 793h3v4h-3zM962 797h3v4h-3zM935 805h3v4h-3z"/>
<path fill="#003aff" d="M1037 751h3v5h-3zM965 766h3v5h-3zM656 780h3v5h-3zM788 780h3v5h-3zM878 780h3v5h-3zM977 785h6v4h-6zM647 789h3v4h-3zM668 789h3v4h-3zM692 789h3v4h-3zM704 789h3v4h-3zM734 789h3v4h-3zM740 789h3v4h-3zM758 789h3v4h-3zM767 789h3v4h-3zM773 789h3v4h-3zM794 789h3v4h-3zM803 789h3v4h-3zM818 789h3v4h-3zM827 789h3v4h-3zM833 789h3v4h-3zM848 789h3v4h-3zM854 789h3v4h-3zM881 789h3v4h-3zM887 789h3v4h-3zM902 789h3v4h-3zM914 789h6v4h-6zM923 789h3v4h-3zM944 789h3v4h-3zM956 789h3v4h-3zM665 793h3v4h-3zM674 793h3v4h-3zM698 793h3v4h-3zM716 793h6v4h-6zM776 793h3v4h-3zM812 793h3v4h-3zM845 793h3v4h-3zM920 793h3v4h-3zM935 793h3v4h-3zM944 793h6v4h-6zM656 797h3v4h-3zM665 797h3v4h-3zM674 797h3v4h-3zM698 797h3v4h-3zM713 797h9v4h-9zM737 797h3v4h-3zM776 797h3v4h-3zM782 797h3v4h-3zM806 797h3v4h-3zM812 797h3v4h-3zM845 797h3v4h-3zM920 797h3v4h-3zM926 797h3v4h-3zM935 797h3v4h-3zM668 801h3v4h-3zM692 801h3v4h-3zM704 801h3v4h-3zM734 801h3v4h-3zM740 801h3v4h-3zM758 801h3v4h-3zM767 801h9v4h-9zM803 801h3v4h-3zM821 801h3v4h-3zM827 801h3v4h-3zM833 801h3v4h-3zM842 801h3v4h-3zM848 801h6v4h-6zM863 801h3v4h-3zM878 801h6v4h-6zM887 801h3v4h-3zM902 801h3v4h-3zM914 801h6v4h-6z"/>
<path fill="#006eff" d="M992 756h3v5h-3zM1037 756h3v5h-3zM980 761h3v5h-3zM995 761h3v5h-3zM995 766h3v5h-3zM995 771h3v5h-3zM1007 776h3v4h-3zM977 780h6v5h-6zM932 785h3v4h-3zM650 789h3v4h-3zM656 789h3v4h-3zM662 789h3v4h-3zM689 789h3v4h-3zM707 789h3v4h-3zM743 789h3v4h-3zM788 789h3v4h-3zM824 789h3v4h-3zM878 789h3v4h-3zM893 789h6v4h-6zM932 789h3v4h-3zM644 793h3v4h-3zM659 793h3v4h-3zM680 793h3v4h-3zM686 793h3v4h-3zM701 793h3v4h-3zM722 793h3v4h-3zM728 793h6v4h-6zM749 793h3v4h-3zM761 793h3v4h-3zM770 793h3v4h-3zM779 793h3v4h-3zM785 793h9v4h-9zM830 793h3v4h-3zM839 793h6v4h-6zM857 793h3v4h-3zM866 793h6v4h-6zM899 793h3v4h-3zM908 793h6v4h-6zM929 793h3v4h-3zM644 797h3v4h-3zM653 797h3v4h-3zM671 797h3v4h-3zM677 797h3v4h-3zM683 797h3v4h-3zM725 797h3v4h-3zM761 797h3v4h-3zM779 797h3v4h-3zM785 797h9v4h-9zM800 797h3v4h-3zM830 797h3v4h-3zM839 797h3v4h-3zM869 797h9v4h-9zM890 797h3v4h-3zM905 797h6v4h-6zM929 797h3v4h-3zM650 801h3v4h-3zM662 801h3v4h-3zM689 801h3v4h-3zM707 801h6v4h-6zM743 801h3v4h-3zM824 801h3v4h-3zM893 801h3v4h-3z"/>
<path fill="#0091ff" d="M1007 756h3v5h-3zM1034 756h3v5h-3zM992 761h3v5h-3zM1019 761h6v5h-6zM980 766h3v5h-3zM1019 766h6v5h-6zM1034 766h3v5h-3zM980 771h3v5h-3zM992 771h3v5h-3zM1007 771h3v5h-3zM1034 771h3v5h-3zM965 776h3v4h-3zM980 776h3v4h-3zM947 780h3v5h-3zM965 780h3v5h-3zM641 785h3v4h-3zM671 785h3v4h-3zM695 785h3v4h-3zM737 785h3v4h-3zM755 785h3v4h-3zM797 785h3v4h-3zM809 785h3v4h-3zM821 785h3v4h-3zM863 785h3v4h-3zM905 785h3v4h-3zM947 785h3v4h-3zM641 789h3v4h-3zM671 789h3v4h-3zM695 789h3v4h-3zM710 789h3v4h-3zM722 789h3v4h-3zM737 789h3v4h-3zM755 789h3v4h-3zM770 789h3v4h-3zM797 789h3v4h-3zM809 789h3v4h-3zM821 789h3v4h-3zM842 789h3v4h-3zM863 789h3v4h-3zM890 789h3v4h-3zM905 789h3v4h-3zM650 793h3v4h-3zM662 793h3v4h-3zM689 793h3v4h-3zM707 793h6v4h-6zM743 793h3v4h-3zM824 793h3v4h-3zM893 793h3v4h-3zM662 797h3v4h-3zM743 797h3v4h-3zM893 797h3v4h-3z"/>
<path fill="#0080ff" d="M1019 756h6v5h-6zM977 766h3v5h-3zM965 771h3v5h-3zM977 771h3v5h-3zM1019 771h6v5h-6zM977 776h3v4h-3zM992 776h3v4h-3zM710 785h3v4h-3zM722 785h3v4h-3zM770 785h3v4h-3zM842 785h3v4h-3zM890 785h3v4h-3zM947 789h3v4h-3zM641 793h3v4h-3zM653 793h3v4h-3zM671 793h3v4h-3zM677 793h3v4h-3zM683 793h3v4h-3zM695 793h3v4h-3zM725 793h3v4h-3zM737 793h3v4h-3zM746 793h3v4h-3zM755 793h3v4h-3zM797 793h6v4h-6zM809 793h3v4h-3zM815 793h3v4h-3zM821 793h3v4h-3zM836 793h3v4h-3zM863 793h3v4h-3zM872 793h6v4h-6zM884 793h3v4h-3zM890 793h3v4h-3zM896 793h3v4h-3zM905 793h3v4h-3zM932 793h3v4h-3zM650 797h3v4h-3zM689 797h3v4h-3zM707 797h6v4h-6zM746 797h3v4h-3zM755 797h3v4h-3zM809 797h3v4h-3zM815 797h3v4h-3zM824 797h3v4h-3zM836 797h3v4h-3zM884 797h3v4h-3zM896 797h3v4h-3zM932 797h3v4h-3z"/>
<path fill="#00a2ff" d="M1007 761h3v5h-3zM1034 761h3v5h-3zM992 766h3v5h-3zM1007 766h3v5h-3zM635 780h6v5h-6zM635 785h6v4h-6zM635 789h6v4h-6zM635 793h6v4h-6zM635 797h6v4h-6zM635 801h6v4h-6zM635 805h6v4h-6z"/>
<path fill="#00c2ff" d="M1037 761h3v5h-3zM1037 766h3v5h-3zM1037 771h3v5h-3zM1037 776h3v4h-3zM1037 780h3v5h-3zM1037 785h3v4h-3z"/>
</g>
</g></g>
<clipPath id="cp3"><rect x="317.4" y="422.5" width="202.6" height="79.5"/></clipPath>
<g clip-path="url(#cp3)"><g filter="url(#sblur2)">
<g transform="scale(0.5)" shape-rendering="crispEdges">
<path fill="#000000" d="M635 845h300v3h-300zM635 848h300v7h-300zM635 855h300v7h-300zM635 862h405v7h-405zM635 869h405v7h-405zM635 876h405v7h-405zM635 883h405v6h-405zM635 889h405v6h-405zM635 895h405v6h-405zM635 901h405v6h-405zM635 907h405v5h-405zM635 912h405v6h-405zM635 918h376v5h-376zM1027 918h8v5h-8zM635 923h376v5h-376zM1027 923h8v5h-8zM635 928h376v5h-376zM1027 928h8v5h-8zM635 933h376v5h-376zM1027 933h8v5h-8zM635 938h376v5h-376zM1027 938h8v5h-8zM635 943h376v4h-376zM1027 943h8v4h-8zM635 947h405v5h-405zM635 952h405v4h-405zM635 956h405v4h-405zM635 960h405v4h-405zM635 964h405v4h-405zM635 968h405v4h-405zM635 972h405v3h-405zM635 975h405v4h-405zM635 979h405v4h-405zM635 983h405v3h-405zM635 986h405v3h-405zM635 989h405v3h-405zM635 992h405v3h-405zM635 995h405v3h-405zM635 998h405v3h-405zM635 1001h405v3h-405z"/>
<path fill="#220031" d="M935 845h4v3h-4zM947 845h4v3h-4zM955 845h4v3h-4zM967 845h4v3h-4zM987 845h4v3h-4zM1019 845h4v3h-4zM935 848h4v7h-4zM959 848h4v7h-4zM967 848h4v7h-4zM979 848h4v7h-4zM991 848h4v7h-4zM1011 848h12v7h-12zM951 855h4v7h-4zM1011 918h8v5h-8zM1023 918h4v5h-4zM1011 923h8v5h-8zM1023 923h4v5h-4zM1011 928h8v5h-8zM1023 928h4v5h-4zM1011 933h8v5h-8zM1023 933h4v5h-4zM1011 938h8v5h-8zM1023 938h4v5h-4zM1011 943h8v4h-8zM1023 943h4v4h-4z"/>
<path fill="#0b0010" d="M939 845h4v3h-4zM975 845h4v3h-4zM983 845h4v3h-4zM999 845h8v3h-8zM1027 845h8v3h-8zM939 848h4v7h-4zM975 848h4v7h-4zM983 848h4v7h-4zM995 848h12v7h-12zM1027 848h8v7h-8zM939 855h4v7h-4zM975 855h4v7h-4zM983 855h4v7h-4zM995 855h16v7h-16zM1027 855h8v7h-8zM1035 918h4v5h-4zM1035 923h4v5h-4zM1035 928h4v5h-4zM1035 933h4v5h-4zM1035 938h4v5h-4zM1035 943h4v4h-4z"/>
<path fill="#3a0056" d="M943 845h4v3h-4zM963 845h4v3h-4zM971 845h4v3h-4zM1023 845h4v3h-4zM1039 845h1v3h-1z"/>
<path fill="#46006c" d="M951 845h4v3h-4z"/>
<path fill="#2d0041" d="M959 845h4v3h-4zM979 845h4v3h-4zM991 845h4v3h-4zM1011 845h8v3h-8zM943 848h4v7h-4zM951 848h4v7h-4zM963 848h4v7h-4zM971 848h4v7h-4zM1023 848h4v7h-4zM1039 848h1v7h-1zM1039 918h1v5h-1zM1039 923h1v5h-1zM1039 928h1v5h-1zM1039 933h1v5h-1zM1039 938h1v5h-1zM1039 943h1v4h-1z"/>
<path fill="#160020" d="M995 845h4v3h-4zM1007 845h4v3h-4zM1035 845h4v3h-4zM947 848h4v7h-4zM955 848h4v7h-4zM987 848h4v7h-4zM1007 848h4v7h-4zM1035 848h4v7h-4zM935 855h4v7h-4zM943 855h8v7h-8zM955 855h20v7h-20zM979 855h4v7h-4zM987 855h8v7h-8zM1011 855h16v7h-16zM1035 855h5v7h-5zM1019 918h4v5h-4zM1019 923h4v5h-4zM1019 928h4v5h-4zM1019 933h4v5h-4zM1019 938h4v5h-4zM1019 943h4v4h-4z"/>
</g>
</g></g>
<clipPath id="cp4"><rect x="317.4" y="506.0" width="202.6" height="80.0"/></clipPath>
<g clip-path="url(#cp4)"><g filter="url(#sblur2)">
<g transform="scale(0.5)" shape-rendering="crispEdges">
<path fill="#220031" d="M635 1012h4v3h-4zM635 1015h4v8h-4zM635 1023h4v7h-4zM635 1030h4v7h-4zM635 1037h4v6h-4zM635 1043h4v7h-4zM635 1050h4v6h-4zM1019 1101h4v5h-4zM1019 1106h4v4h-4zM1019 1110h4v5h-4zM1019 1115h4v4h-4zM1019 1119h4v5h-4zM1019 1124h4v4h-4zM1019 1128h4v4h-4z"/>
<path fill="#160020" d="M639 1012h4v3h-4zM639 1015h4v8h-4zM639 1023h4v7h-4zM639 1030h4v7h-4zM639 1037h4v6h-4zM639 1043h4v7h-4zM639 1050h4v6h-4zM1007 1101h4v5h-4zM1015 1101h4v5h-4zM1007 1106h4v4h-4zM1015 1106h4v4h-4zM1007 1110h4v5h-4zM1015 1110h4v5h-4zM1007 1115h4v4h-4zM1015 1115h4v4h-4zM1007 1119h4v5h-4zM1015 1119h4v5h-4zM1007 1124h4v4h-4zM1015 1124h4v4h-4zM1007 1128h4v4h-4zM1015 1128h4v4h-4z"/>
<path fill="#0b0010" d="M643 1012h8v3h-8zM643 1015h8v8h-8zM643 1023h8v7h-8zM643 1030h8v7h-8zM643 1037h8v6h-8zM643 1043h8v7h-8zM643 1050h8v6h-8zM1003 1101h4v5h-4zM1023 1101h4v5h-4zM1031 1101h9v5h-9zM1003 1106h4v4h-4zM1023 1106h4v4h-4zM1031 1106h9v4h-9zM1003 1110h4v5h-4zM1023 1110h4v5h-4zM1031 1110h9v5h-9zM1003 1115h4v4h-4zM1023 1115h4v4h-4zM1031 1115h9v4h-9zM1003 1119h4v5h-4zM1023 1119h4v5h-4zM1031 1119h9v5h-9zM1003 1124h4v4h-4zM1023 1124h4v4h-4zM1031 1124h9v4h-9zM1003 1128h4v4h-4zM1023 1128h4v4h-4zM1031 1128h9v4h-9z"/>
<path fill="#000000" d="M651 1012h389v3h-389zM651 1015h389v8h-389zM651 1023h389v7h-389zM651 1030h389v7h-389zM651 1037h389v6h-389zM651 1043h389v7h-389zM651 1050h389v6h-389zM635 1056h405v7h-405zM635 1063h405v6h-405zM635 1069h405v5h-405zM635 1074h405v6h-405zM635 1080h405v5h-405zM635 1085h405v6h-405zM635 1091h405v5h-405zM635 1096h405v5h-405zM635 1101h368v5h-368zM1011 1101h4v5h-4zM1027 1101h4v5h-4zM635 1106h368v4h-368zM1011 1106h4v4h-4zM1027 1106h4v4h-4zM635 1110h368v5h-368zM1011 1110h4v5h-4zM1027 1110h4v5h-4zM635 1115h368v4h-368zM1011 1115h4v4h-4zM1027 1115h4v4h-4zM635 1119h368v5h-368zM1011 1119h4v5h-4zM1027 1119h4v5h-4zM635 1124h368v4h-368zM1011 1124h4v4h-4zM1027 1124h4v4h-4zM635 1128h368v4h-368zM1011 1128h4v4h-4zM1027 1128h4v4h-4zM635 1132h405v4h-405zM635 1136h405v4h-405zM635 1140h405v3h-405zM635 1143h405v4h-405zM635 1147h405v3h-405zM635 1150h405v4h-405zM635 1154h405v3h-405zM635 1157h405v3h-405zM635 1160h405v3h-405zM635 1163h405v3h-405zM635 1166h405v3h-405zM635 1169h405v3h-405z"/>
</g>
</g></g>
<clipPath id="cp5"><rect x="317.4" y="590.0" width="202.6" height="80.5"/></clipPath>
<g clip-path="url(#cp5)"><g filter="url(#sblur2)">
<g transform="scale(0.5)" shape-rendering="crispEdges">
<path fill="#0b0010" d="M635 1180h12v5h-12zM635 1185h12v7h-12zM635 1192h12v8h-12zM635 1200h12v7h-12zM635 1207h12v6h-12zM635 1213h12v7h-12zM635 1220h12v6h-12zM650 1220h27v6h-27zM680 1220h3v6h-3zM686 1220h3v6h-3zM692 1220h12v6h-12zM707 1220h12v6h-12zM734 1220h21v6h-21zM758 1220h3v6h-3zM764 1220h3v6h-3zM770 1220h3v6h-3zM776 1220h9v6h-9zM791 1220h3v6h-3zM800 1220h6v6h-6zM812 1220h3v6h-3zM818 1220h3v6h-3zM824 1220h6v6h-6zM833 1220h3v6h-3zM839 1220h3v6h-3zM848 1220h12v6h-12zM863 1220h12v6h-12zM878 1220h15v6h-15zM896 1220h3v6h-3zM905 1220h12v6h-12zM635 1226h12v6h-12zM650 1226h27v6h-27zM680 1226h3v6h-3zM686 1226h3v6h-3zM692 1226h12v6h-12zM707 1226h12v6h-12zM734 1226h21v6h-21zM758 1226h3v6h-3zM764 1226h3v6h-3zM770 1226h3v6h-3zM776 1226h9v6h-9zM791 1226h3v6h-3zM800 1226h6v6h-6zM812 1226h3v6h-3zM818 1226h3v6h-3zM824 1226h6v6h-6zM833 1226h3v6h-3zM839 1226h3v6h-3zM848 1226h12v6h-12zM863 1226h12v6h-12zM878 1226h15v6h-15zM896 1226h3v6h-3zM905 1226h12v6h-12zM635 1232h12v6h-12zM653 1232h6v6h-6zM680 1232h3v6h-3zM686 1232h3v6h-3zM695 1232h3v6h-3zM740 1232h9v6h-9zM779 1232h3v6h-3zM791 1232h3v6h-3zM803 1232h3v6h-3zM824 1232h3v6h-3zM839 1232h3v6h-3zM878 1232h6v6h-6zM905 1232h3v6h-3zM635 1238h12v6h-12zM653 1238h6v6h-6zM680 1238h3v6h-3zM686 1238h3v6h-3zM695 1238h3v6h-3zM740 1238h9v6h-9zM779 1238h3v6h-3zM791 1238h3v6h-3zM803 1238h3v6h-3zM824 1238h3v6h-3zM839 1238h3v6h-3zM878 1238h6v6h-6zM905 1238h3v6h-3zM635 1244h12v6h-12zM653 1244h6v6h-6zM680 1244h3v6h-3zM686 1244h3v6h-3zM695 1244h3v6h-3zM740 1244h9v6h-9zM779 1244h3v6h-3zM791 1244h3v6h-3zM803 1244h3v6h-3zM824 1244h3v6h-3zM839 1244h3v6h-3zM878 1244h6v6h-6zM905 1244h3v6h-3zM635 1250h12v5h-12zM653 1250h6v5h-6zM680 1250h3v5h-3zM686 1250h3v5h-3zM695 1250h3v5h-3zM740 1250h9v5h-9zM779 1250h3v5h-3zM791 1250h3v5h-3zM803 1250h3v5h-3zM824 1250h3v5h-3zM839 1250h3v5h-3zM878 1250h6v5h-6zM905 1250h3v5h-3zM635 1255h12v5h-12zM653 1255h6v5h-6zM680 1255h3v5h-3zM686 1255h3v5h-3zM695 1255h3v5h-3zM740 1255h9v5h-9zM779 1255h3v5h-3zM791 1255h3v5h-3zM803 1255h3v5h-3zM824 1255h3v5h-3zM839 1255h3v5h-3zM878 1255h6v5h-6zM905 1255h3v5h-3zM989 1309h51v4h-51zM977 1313h30v3h-30zM1013 1313h6v3h-6zM1022 1313h12v3h-12zM1040 1313h0v3h0zM968 1316h27v4h-27zM998 1316h9v4h-9zM1013 1316h6v4h-6zM1022 1316h12v4h-12zM1040 1316h0v4h0zM959 1320h6v3h-6zM968 1320h6v3h-6zM977 1320h18v3h-18zM998 1320h9v3h-9zM1013 1320h6v3h-6zM1022 1320h12v3h-12zM1040 1320h0v3h0zM950 1323h24v3h-24zM977 1323h18v3h-18zM998 1323h9v3h-9zM1013 1323h6v3h-6zM1022 1323h12v3h-12zM1040 1323h0v3h0zM635 1326h6v3h-6zM647 1326h6v3h-6zM659 1326h12v3h-12zM674 1326h21v3h-21zM698 1326h12v3h-12zM716 1326h6v3h-6zM728 1326h9v3h-9zM740 1326h15v3h-15zM758 1326h12v3h-12zM776 1326h6v3h-6zM791 1326h6v3h-6zM800 1326h9v3h-9zM812 1326h9v3h-9zM824 1326h18v3h-18zM848 1326h6v3h-6zM857 1326h6v3h-6zM866 1326h6v3h-6zM881 1326h3v3h-3zM887 1326h3v3h-3zM896 1326h3v3h-3zM902 1326h3v3h-3zM908 1326h9v3h-9zM935 1326h3v3h-3zM941 1326h18v3h-18zM962 1326h12v3h-12zM977 1326h18v3h-18zM998 1326h9v3h-9zM1013 1326h6v3h-6zM1022 1326h12v3h-12zM1040 1326h0v3h0zM635 1329h288v3h-288zM926 1329h12v3h-12zM941 1329h9v3h-9zM953 1329h6v3h-6zM962 1329h12v3h-12zM977 1329h18v3h-18zM998 1329h9v3h-9zM1013 1329h6v3h-6zM1022 1329h12v3h-12zM1040 1329h0v3h0zM641 1332h3v3h-3zM653 1332h6v3h-6zM671 1332h3v3h-3zM695 1332h3v3h-3zM710 1332h6v3h-6zM722 1332h6v3h-6zM737 1332h3v3h-3zM755 1332h3v3h-3zM770 1332h6v3h-6zM785 1332h6v3h-6zM797 1332h3v3h-3zM809 1332h3v3h-3zM821 1332h3v3h-3zM842 1332h6v3h-6zM863 1332h3v3h-3zM875 1332h6v3h-6zM890 1332h6v3h-6zM905 1332h3v3h-3zM926 1332h12v3h-12zM941 1332h3v3h-3zM947 1332h3v3h-3zM953 1332h6v3h-6zM962 1332h12v3h-12zM977 1332h18v3h-18zM998 1332h9v3h-9zM1013 1332h6v3h-6zM1022 1332h12v3h-12zM1040 1332h0v3h0zM926 1335h12v3h-12zM941 1335h3v3h-3zM947 1335h3v3h-3zM953 1335h6v3h-6zM962 1335h12v3h-12zM977 1335h18v3h-18zM998 1335h9v3h-9zM1013 1335h6v3h-6zM1022 1335h12v3h-12zM1040 1335h0v3h0zM926 1338h12v3h-12zM941 1338h3v3h-3zM947 1338h3v3h-3zM953 1338h6v3h-6zM962 1338h12v3h-12zM977 1338h18v3h-18zM998 1338h9v3h-9zM1013 1338h6v3h-6zM1022 1338h12v3h-12zM1040 1338h0v3h0z"/>
<path fill="#5500cd" d="M647 1180h6v5h-6zM662 1180h3v5h-3zM668 1180h3v5h-3zM674 1180h9v5h-9zM689 1180h6v5h-6zM704 1180h3v5h-3zM716 1180h9v5h-9zM728 1180h6v5h-6zM740 1180h3v5h-3zM746 1180h3v5h-3zM752 1180h24v5h-24zM779 1180h3v5h-3zM788 1180h3v5h-3zM794 1180h9v5h-9zM806 1180h3v5h-3zM821 1192h3v8h-3zM830 1192h3v8h-3zM851 1192h6v8h-6zM872 1192h3v8h-3zM884 1192h6v8h-6zM896 1192h9v8h-9zM911 1192h3v8h-3zM917 1200h6v7h-6zM926 1200h6v7h-6zM944 1200h6v7h-6zM917 1207h3v6h-3zM926 1207h3v6h-3zM938 1207h3v6h-3zM944 1207h6v6h-6zM938 1213h3v7h-3zM950 1213h3v7h-3zM992 1213h3v7h-3zM1019 1213h3v7h-3zM950 1220h3v6h-3zM971 1220h3v6h-3zM983 1220h6v6h-6zM992 1220h3v6h-3zM998 1220h9v6h-9zM1010 1220h12v6h-12zM950 1226h6v6h-6zM959 1226h3v6h-3zM965 1226h3v6h-3zM971 1226h3v6h-3zM980 1226h9v6h-9zM992 1226h15v6h-15zM1010 1226h9v6h-9zM1022 1226h3v6h-3zM1031 1226h6v6h-6zM1040 1226h0v6h0zM953 1232h3v6h-3zM959 1232h3v6h-3zM965 1232h6v6h-6zM980 1232h12v6h-12zM995 1232h12v6h-12zM1022 1232h3v6h-3zM1031 1232h6v6h-6zM1040 1232h0v6h0zM956 1238h9v6h-9zM968 1238h3v6h-3zM974 1238h9v6h-9zM989 1238h3v6h-3zM995 1238h3v6h-3zM1007 1238h3v6h-3zM1025 1238h6v6h-6zM1037 1238h3v6h-3zM956 1244h3v6h-3zM962 1244h3v6h-3zM974 1244h6v6h-6zM1007 1244h3v6h-3zM1025 1244h6v6h-6zM1037 1244h3v6h-3zM1010 1250h3v5h-3zM1028 1250h3v5h-3zM980 1255h3v5h-3zM1025 1255h3v5h-3zM704 1260h3v5h-3zM773 1260h3v5h-3zM821 1260h3v5h-3zM830 1260h3v5h-3zM836 1260h3v5h-3zM845 1260h3v5h-3zM704 1265h3v5h-3zM773 1265h3v5h-3zM821 1265h3v5h-3zM830 1265h3v5h-3zM836 1265h3v5h-3zM845 1265h3v5h-3zM968 1265h3v5h-3zM983 1265h3v5h-3zM1016 1265h3v5h-3zM704 1270h3v5h-3zM773 1270h3v5h-3zM821 1270h3v5h-3zM830 1270h3v5h-3zM836 1270h3v5h-3zM845 1270h3v5h-3zM962 1270h3v5h-3zM1016 1270h3v5h-3zM704 1275h3v5h-3zM773 1275h3v5h-3zM821 1275h3v5h-3zM830 1275h3v5h-3zM836 1275h3v5h-3zM845 1275h3v5h-3zM1028 1275h3v5h-3zM704 1280h3v4h-3zM713 1280h3v4h-3zM725 1280h3v4h-3zM773 1280h3v4h-3zM830 1280h3v4h-3zM836 1280h3v4h-3zM845 1280h3v4h-3zM893 1280h3v4h-3zM950 1280h3v4h-3zM998 1280h6v4h-6zM1028 1280h3v4h-3zM1040 1280h0v4h0zM704 1284h3v5h-3zM830 1284h3v5h-3zM836 1284h3v5h-3zM953 1284h3v5h-3zM998 1284h6v5h-6zM1025 1284h6v5h-6zM659 1289h9v4h-9zM683 1289h6v4h-6zM701 1289h3v4h-3zM707 1289h3v4h-3zM716 1289h3v4h-3zM743 1289h3v4h-3zM749 1289h3v4h-3zM776 1289h3v4h-3zM791 1289h3v4h-3zM803 1289h3v4h-3zM827 1289h3v4h-3zM833 1289h3v4h-3zM839 1289h3v4h-3zM857 1289h3v4h-3zM869 1289h3v4h-3zM914 1289h3v4h-3zM920 1289h3v4h-3zM986 1293h6v4h-6zM971 1301h6v4h-6zM956 1309h3v4h-3zM947 1313h3v3h-3zM647 1316h6v4h-6zM656 1316h9v4h-9zM668 1316h3v4h-3zM674 1316h6v4h-6zM692 1316h3v4h-3zM710 1316h3v4h-3zM716 1316h3v4h-3zM722 1316h3v4h-3zM731 1316h3v4h-3zM737 1316h6v4h-6zM746 1316h3v4h-3zM752 1316h6v4h-6zM767 1316h6v4h-6zM776 1316h3v4h-3zM788 1316h9v4h-9zM800 1316h9v4h-9zM833 1316h6v4h-6zM848 1316h3v4h-3zM857 1316h15v4h-15zM875 1316h3v4h-3zM890 1316h3v4h-3zM905 1316h6v4h-6zM920 1316h3v4h-3z"/>
<path fill="#5800bf" d="M653 1180h9v5h-9zM665 1180h3v5h-3zM671 1180h3v5h-3zM683 1180h6v5h-6zM695 1180h3v5h-3zM701 1180h3v5h-3zM707 1180h6v5h-6zM734 1180h6v5h-6zM743 1180h3v5h-3zM749 1180h3v5h-3zM776 1180h3v5h-3zM791 1180h3v5h-3zM803 1180h3v5h-3zM650 1185h3v7h-3zM668 1185h3v7h-3zM674 1185h9v7h-9zM689 1185h3v7h-3zM698 1185h3v7h-3zM704 1185h3v7h-3zM713 1185h3v7h-3zM719 1185h3v7h-3zM725 1185h9v7h-9zM740 1185h3v7h-3zM746 1185h3v7h-3zM752 1185h15v7h-15zM773 1185h3v7h-3zM779 1185h12v7h-12zM794 1185h9v7h-9zM809 1192h12v8h-12zM824 1192h3v8h-3zM833 1192h18v8h-18zM857 1192h15v8h-15zM875 1192h9v8h-9zM890 1192h3v8h-3zM905 1192h6v8h-6zM914 1192h3v8h-3zM923 1200h3v7h-3zM932 1200h6v7h-6zM941 1200h3v7h-3zM920 1207h3v6h-3zM929 1207h9v6h-9zM941 1207h3v6h-3zM917 1213h6v7h-6zM926 1213h6v7h-6zM944 1213h6v7h-6zM917 1220h3v6h-3zM926 1220h3v6h-3zM938 1220h3v6h-3zM944 1220h6v6h-6zM917 1226h3v6h-3zM926 1226h3v6h-3zM938 1226h3v6h-3zM944 1226h6v6h-6zM1019 1226h3v6h-3zM950 1232h3v6h-3zM971 1232h3v6h-3zM992 1232h3v6h-3zM1010 1232h12v6h-12zM950 1238h6v6h-6zM965 1238h3v6h-3zM971 1238h3v6h-3zM983 1238h6v6h-6zM992 1238h3v6h-3zM998 1238h9v6h-9zM1010 1238h15v6h-15zM1031 1238h6v6h-6zM953 1244h3v6h-3zM959 1244h3v6h-3zM965 1244h9v6h-9zM980 1244h12v6h-12zM995 1244h12v6h-12zM1013 1244h3v6h-3zM1022 1244h3v6h-3zM1031 1244h6v6h-6zM1040 1244h0v6h0zM953 1250h12v5h-12zM968 1250h3v5h-3zM974 1250h9v5h-9zM989 1250h9v5h-9zM1025 1250h3v5h-3zM1031 1250h3v5h-3zM1040 1250h0v5h0zM956 1255h3v5h-3zM962 1255h3v5h-3zM968 1255h3v5h-3zM974 1255h6v5h-6zM989 1255h3v5h-3zM1028 1255h3v5h-3zM677 1260h3v5h-3zM683 1260h3v5h-3zM689 1260h3v5h-3zM725 1260h3v5h-3zM731 1260h3v5h-3zM1016 1260h3v5h-3zM677 1265h3v5h-3zM683 1265h3v5h-3zM689 1265h3v5h-3zM725 1265h3v5h-3zM731 1265h3v5h-3zM677 1270h3v5h-3zM683 1270h3v5h-3zM689 1270h3v5h-3zM725 1270h3v5h-3zM731 1270h3v5h-3zM947 1270h3v5h-3zM641 1275h3v5h-3zM671 1275h3v5h-3zM677 1275h3v5h-3zM683 1275h3v5h-3zM689 1275h3v5h-3zM695 1275h3v5h-3zM710 1275h3v5h-3zM725 1275h3v5h-3zM731 1275h3v5h-3zM737 1275h3v5h-3zM770 1275h3v5h-3zM809 1275h3v5h-3zM863 1275h3v5h-3zM890 1275h3v5h-3zM905 1275h3v5h-3zM998 1275h6v5h-6zM1013 1275h6v5h-6zM677 1280h3v4h-3zM683 1280h3v4h-3zM689 1280h3v4h-3zM731 1280h3v4h-3zM971 1280h3v4h-3zM1013 1280h6v4h-6zM644 1284h3v5h-3zM674 1284h6v5h-6zM683 1284h3v5h-3zM689 1284h3v5h-3zM698 1284h3v5h-3zM731 1284h3v5h-3zM740 1284h3v5h-3zM758 1284h3v5h-3zM800 1284h3v5h-3zM812 1284h3v5h-3zM824 1284h3v5h-3zM866 1284h3v5h-3zM908 1284h3v5h-3zM1013 1284h6v5h-6zM1040 1284h0v5h0zM923 1289h3v4h-3zM998 1289h6v4h-6zM1010 1289h3v4h-3zM1025 1289h6v4h-6zM995 1293h3v4h-3zM983 1297h3v4h-3zM965 1305h3v4h-3zM653 1316h3v4h-3zM665 1316h3v4h-3zM671 1316h3v4h-3zM683 1316h6v4h-6zM695 1316h3v4h-3zM701 1316h3v4h-3zM707 1316h3v4h-3zM734 1316h3v4h-3zM743 1316h3v4h-3zM749 1316h3v4h-3zM809 1316h9v4h-9zM824 1316h6v4h-6zM839 1316h6v4h-6zM878 1316h3v4h-3zM893 1316h3v4h-3zM914 1316h3v4h-3zM923 1316h3v4h-3zM929 1316h3v4h-3z"/>
<path fill="#4700d8" d="M698 1180h3v5h-3zM713 1180h3v5h-3zM725 1180h3v5h-3zM782 1180h6v5h-6zM827 1180h3v5h-3zM839 1180h3v5h-3zM893 1180h3v5h-3zM809 1185h9v7h-9zM824 1185h6v7h-6zM839 1185h6v7h-6zM878 1185h3v7h-3zM893 1185h3v7h-3zM914 1185h3v7h-3zM938 1200h3v7h-3zM950 1200h3v7h-3zM992 1200h3v7h-3zM1019 1200h3v7h-3zM950 1207h3v6h-3zM965 1207h3v6h-3zM971 1207h3v6h-3zM983 1207h6v6h-6zM992 1207h3v6h-3zM998 1207h9v6h-9zM1010 1207h12v6h-12zM953 1213h3v7h-3zM959 1213h3v7h-3zM965 1213h9v7h-9zM980 1213h12v7h-12zM995 1213h12v7h-12zM1010 1213h9v7h-9zM1022 1213h3v7h-3zM1031 1213h6v7h-6zM1040 1213h0v7h0zM953 1220h9v6h-9zM965 1220h6v6h-6zM974 1220h9v6h-9zM989 1220h3v6h-3zM995 1220h3v6h-3zM1007 1220h3v6h-3zM1022 1220h6v6h-6zM1031 1220h6v6h-6zM1040 1220h0v6h0zM956 1226h3v6h-3zM962 1226h3v6h-3zM968 1226h3v6h-3zM974 1226h6v6h-6zM989 1226h3v6h-3zM1007 1226h3v6h-3zM1025 1226h6v6h-6zM1037 1226h3v6h-3zM956 1232h3v6h-3zM962 1232h3v6h-3zM974 1232h6v6h-6zM1007 1232h3v6h-3zM1025 1232h6v6h-6zM1037 1232h3v6h-3zM1004 1250h3v5h-3zM638 1260h3v5h-3zM647 1260h3v5h-3zM815 1260h3v5h-3zM842 1260h3v5h-3zM638 1265h3v5h-3zM647 1265h3v5h-3zM815 1265h3v5h-3zM842 1265h3v5h-3zM638 1270h3v5h-3zM647 1270h3v5h-3zM815 1270h3v5h-3zM842 1270h3v5h-3zM983 1270h3v5h-3zM638 1275h3v5h-3zM647 1275h3v5h-3zM815 1275h3v5h-3zM842 1275h3v5h-3zM983 1275h3v5h-3zM638 1280h3v4h-3zM647 1280h3v4h-3zM815 1280h3v4h-3zM929 1280h3v4h-3zM944 1280h3v4h-3zM974 1280h3v4h-3zM983 1280h6v4h-6zM1025 1280h3v4h-3zM647 1284h3v5h-3zM815 1284h3v5h-3zM1031 1284h3v5h-3zM647 1289h6v4h-6zM674 1289h9v4h-9zM689 1289h3v4h-3zM731 1289h3v4h-3zM740 1289h3v4h-3zM746 1289h3v4h-3zM758 1289h3v4h-3zM764 1289h3v4h-3zM779 1289h3v4h-3zM800 1289h3v4h-3zM812 1289h6v4h-6zM824 1289h3v4h-3zM830 1289h3v4h-3zM836 1289h3v4h-3zM848 1289h6v4h-6zM866 1289h3v4h-3zM881 1289h3v4h-3zM896 1289h3v4h-3zM908 1289h6v4h-6zM917 1289h3v4h-3zM926 1289h3v4h-3zM935 1289h3v4h-3zM986 1289h6v4h-6zM1004 1289h3v4h-3zM983 1293h3v4h-3zM992 1293h3v4h-3zM980 1297h3v4h-3zM950 1309h6v4h-6zM941 1313h6v3h-6zM680 1316h3v4h-3zM689 1316h3v4h-3zM698 1316h3v4h-3zM704 1316h3v4h-3zM713 1316h3v4h-3zM719 1316h3v4h-3zM725 1316h6v4h-6zM758 1316h9v4h-9zM773 1316h3v4h-3zM779 1316h9v4h-9zM797 1316h3v4h-3zM818 1316h6v4h-6zM830 1316h3v4h-3zM845 1316h3v4h-3zM851 1316h6v4h-6zM872 1316h3v4h-3zM881 1316h9v4h-9zM896 1316h9v4h-9zM911 1316h3v4h-3zM917 1316h3v4h-3zM926 1316h3v4h-3z"/>
<path fill="#3a00e4" d="M809 1180h9v5h-9zM824 1180h3v5h-3zM833 1180h6v5h-6zM842 1180h3v5h-3zM857 1180h3v5h-3zM863 1180h9v5h-9zM878 1180h3v5h-3zM890 1180h3v5h-3zM905 1180h6v5h-6zM914 1180h3v5h-3zM920 1180h6v5h-6zM929 1180h9v5h-9zM941 1180h3v5h-3zM818 1185h3v7h-3zM830 1185h9v7h-9zM845 1185h6v7h-6zM857 1185h15v7h-15zM875 1185h3v7h-3zM881 1185h3v7h-3zM890 1185h3v7h-3zM896 1185h3v7h-3zM902 1185h12v7h-12zM920 1185h6v7h-6zM929 1185h9v7h-9zM941 1185h3v7h-3zM920 1192h6v8h-6zM929 1192h9v8h-9zM941 1192h3v8h-3zM953 1200h3v7h-3zM959 1200h3v7h-3zM965 1200h9v7h-9zM980 1200h12v7h-12zM995 1200h12v7h-12zM1010 1200h9v7h-9zM1022 1200h3v7h-3zM1031 1200h6v7h-6zM1040 1200h0v7h0zM953 1207h12v6h-12zM968 1207h3v6h-3zM974 1207h9v6h-9zM989 1207h3v6h-3zM995 1207h3v6h-3zM1007 1207h3v6h-3zM1022 1207h6v6h-6zM1031 1207h9v6h-9zM956 1213h3v7h-3zM962 1213h3v7h-3zM974 1213h6v7h-6zM1007 1213h3v7h-3zM1025 1213h6v7h-6zM1037 1213h3v7h-3zM962 1220h3v6h-3zM1028 1220h3v6h-3zM1037 1220h3v6h-3zM719 1260h3v5h-3zM989 1260h3v5h-3zM1025 1260h3v5h-3zM719 1265h3v5h-3zM965 1265h3v5h-3zM1025 1265h3v5h-3zM719 1270h3v5h-3zM1025 1270h3v5h-3zM719 1275h3v5h-3zM1025 1275h3v5h-3zM653 1280h3v4h-3zM719 1280h3v4h-3zM785 1280h3v4h-3zM875 1280h3v4h-3zM638 1284h3v5h-3zM668 1284h3v5h-3zM692 1284h3v5h-3zM719 1284h3v5h-3zM734 1284h3v5h-3zM752 1284h3v5h-3zM794 1284h3v5h-3zM806 1284h3v5h-3zM818 1284h3v5h-3zM860 1284h3v5h-3zM902 1284h3v5h-3zM950 1284h3v5h-3zM956 1284h6v5h-6zM983 1284h6v5h-6zM698 1289h3v4h-3zM704 1289h3v4h-3zM719 1289h3v4h-3zM782 1289h3v4h-3zM854 1289h3v4h-3zM872 1289h3v4h-3zM884 1289h6v4h-6zM899 1289h3v4h-3zM941 1289h3v4h-3zM983 1289h3v4h-3zM1019 1289h3v4h-3zM1037 1289h3v4h-3zM971 1297h3v4h-3zM977 1297h3v4h-3zM968 1301h3v4h-3zM959 1305h6v4h-6z"/>
<path fill="#2c00ef" d="M818 1180h6v5h-6zM830 1180h3v5h-3zM845 1180h12v5h-12zM860 1180h3v5h-3zM872 1180h6v5h-6zM881 1180h9v5h-9zM896 1180h9v5h-9zM911 1180h3v5h-3zM917 1180h3v5h-3zM926 1180h3v5h-3zM938 1180h3v5h-3zM944 1180h6v5h-6zM821 1185h3v7h-3zM851 1185h6v7h-6zM872 1185h3v7h-3zM884 1185h6v7h-6zM899 1185h3v7h-3zM917 1185h3v7h-3zM926 1185h3v7h-3zM938 1185h3v7h-3zM944 1185h6v7h-6zM917 1192h3v8h-3zM926 1192h3v8h-3zM938 1192h3v8h-3zM944 1192h6v8h-6zM956 1200h3v7h-3zM962 1200h3v7h-3zM974 1200h6v7h-6zM1007 1200h3v7h-3zM1025 1200h6v7h-6zM1037 1200h3v7h-3zM1028 1207h3v6h-3zM1037 1250h3v5h-3zM1031 1255h3v5h-3zM722 1260h3v5h-3zM728 1260h3v5h-3zM755 1260h3v5h-3zM761 1260h3v5h-3zM767 1260h3v5h-3zM797 1260h3v5h-3zM722 1265h3v5h-3zM728 1265h3v5h-3zM755 1265h3v5h-3zM761 1265h3v5h-3zM767 1265h3v5h-3zM797 1265h3v5h-3zM722 1270h3v5h-3zM728 1270h3v5h-3zM755 1270h3v5h-3zM761 1270h3v5h-3zM767 1270h3v5h-3zM797 1270h3v5h-3zM722 1275h3v5h-3zM728 1275h3v5h-3zM755 1275h3v5h-3zM761 1275h3v5h-3zM767 1275h3v5h-3zM797 1275h3v5h-3zM962 1275h3v5h-3zM656 1280h3v4h-3zM728 1280h3v4h-3zM761 1280h3v4h-3zM767 1280h3v4h-3zM788 1280h3v4h-3zM878 1280h3v4h-3zM932 1280h3v4h-3zM713 1284h3v5h-3zM725 1284h6v5h-6zM761 1284h3v5h-3zM767 1284h3v5h-3zM773 1284h3v5h-3zM845 1284h3v5h-3zM893 1284h3v5h-3zM971 1284h3v5h-3zM989 1284h3v5h-3zM1010 1284h3v5h-3zM728 1289h3v4h-3zM761 1289h3v4h-3zM767 1289h3v4h-3zM938 1289h3v4h-3zM1007 1289h3v4h-3zM1022 1289h3v4h-3zM1034 1289h3v4h-3zM974 1297h3v4h-3zM965 1301h3v4h-3zM665 1313h3v3h-3zM701 1313h3v3h-3zM827 1313h3v3h-3zM893 1313h3v3h-3zM932 1313h6v3h-6z"/>
<path fill="#0f14fc" d="M950 1180h3v5h-3zM971 1180h3v5h-3zM983 1180h6v5h-6zM992 1180h3v5h-3zM998 1180h9v5h-9zM1010 1180h12v5h-12zM950 1185h3v7h-3zM971 1185h3v7h-3zM983 1185h6v7h-6zM992 1185h3v7h-3zM998 1185h9v7h-9zM1010 1185h12v7h-12zM950 1192h3v8h-3zM971 1192h3v8h-3zM983 1192h6v8h-6zM992 1192h3v8h-3zM998 1192h9v8h-9zM1010 1192h12v8h-12zM992 1255h6v5h-6zM1031 1265h3v5h-3zM1031 1270h3v5h-3zM968 1275h3v5h-3zM962 1280h3v4h-3zM968 1280h3v4h-3zM1010 1280h3v4h-3zM653 1284h3v5h-3zM785 1284h3v5h-3zM875 1284h3v5h-3zM962 1284h3v5h-3zM968 1284h3v5h-3zM1004 1284h3v5h-3zM1037 1284h3v5h-3zM713 1289h3v4h-3zM725 1289h3v4h-3zM773 1289h3v4h-3zM845 1289h3v4h-3zM893 1289h3v4h-3zM959 1289h3v4h-3zM968 1289h3v4h-3zM659 1293h6v4h-6zM683 1293h6v4h-6zM692 1293h3v4h-3zM707 1293h3v4h-3zM743 1293h3v4h-3zM749 1293h3v4h-3zM776 1293h3v4h-3zM791 1293h3v4h-3zM803 1293h3v4h-3zM812 1293h3v4h-3zM824 1293h3v4h-3zM833 1293h3v4h-3zM857 1293h3v4h-3zM869 1293h3v4h-3zM908 1293h3v4h-3zM935 1293h3v4h-3zM950 1293h3v4h-3zM968 1293h3v4h-3zM980 1293h3v4h-3zM950 1301h3v4h-3zM959 1301h6v4h-6zM935 1309h3v4h-3zM944 1309h3v4h-3zM650 1313h3v3h-3zM668 1313h3v3h-3zM674 1313h9v3h-9zM689 1313h3v3h-3zM719 1313h3v3h-3zM728 1313h3v3h-3zM758 1313h9v3h-9zM779 1313h3v3h-3zM788 1313h3v3h-3zM794 1313h6v3h-6zM818 1313h3v3h-3zM830 1313h3v3h-3zM845 1313h6v3h-6zM860 1313h3v3h-3zM875 1313h3v3h-3zM881 1313h3v3h-3zM890 1313h3v3h-3zM902 1313h3v3h-3zM911 1313h3v3h-3zM920 1313h3v3h-3z"/>
<path fill="#081efe" d="M953 1180h9v5h-9zM965 1180h6v5h-6zM974 1180h9v5h-9zM989 1180h3v5h-3zM995 1180h3v5h-3zM1007 1180h3v5h-3zM1022 1180h6v5h-6zM1031 1180h6v5h-6zM1040 1180h0v5h0zM953 1185h9v7h-9zM965 1185h6v7h-6zM974 1185h9v7h-9zM989 1185h3v7h-3zM995 1185h3v7h-3zM1007 1185h3v7h-3zM1022 1185h6v7h-6zM1031 1185h6v7h-6zM1040 1185h0v7h0zM953 1192h9v8h-9zM965 1192h6v8h-6zM974 1192h9v8h-9zM989 1192h3v8h-3zM995 1192h3v8h-3zM1007 1192h3v8h-3zM1022 1192h6v8h-6zM1031 1192h6v8h-6zM1040 1192h0v8h0zM1004 1255h3v5h-3zM980 1260h3v5h-3zM1010 1260h3v5h-3zM965 1270h3v5h-3zM656 1284h3v5h-3zM788 1284h3v5h-3zM878 1284h3v5h-3zM932 1284h3v5h-3zM1019 1284h3v5h-3zM956 1289h3v4h-3zM962 1289h3v4h-3zM992 1289h3v4h-3zM647 1293h6v4h-6zM668 1293h3v4h-3zM674 1293h6v4h-6zM716 1293h3v4h-3zM731 1293h3v4h-3zM740 1293h3v4h-3zM746 1293h3v4h-3zM752 1293h3v4h-3zM767 1293h3v4h-3zM794 1293h3v4h-3zM800 1293h3v4h-3zM806 1293h3v4h-3zM836 1293h3v4h-3zM848 1293h3v4h-3zM860 1293h3v4h-3zM866 1293h3v4h-3zM893 1293h3v4h-3zM920 1293h3v4h-3zM941 1293h3v4h-3zM959 1293h3v4h-3zM977 1293h3v4h-3zM950 1297h3v4h-3zM959 1297h6v4h-6zM953 1301h3v4h-3zM941 1305h3v4h-3zM665 1309h3v4h-3zM671 1309h3v4h-3zM695 1309h3v4h-3zM701 1309h3v4h-3zM734 1309h3v4h-3zM809 1309h3v4h-3zM815 1309h3v4h-3zM824 1309h6v4h-6zM839 1309h6v4h-6zM878 1309h3v4h-3zM893 1309h3v4h-3zM914 1309h3v4h-3zM923 1309h3v4h-3zM932 1309h3v4h-3zM698 1313h3v3h-3zM704 1313h3v3h-3zM713 1313h3v3h-3zM725 1313h3v3h-3zM773 1313h3v3h-3zM782 1313h6v3h-6zM821 1313h3v3h-3zM851 1313h6v3h-6zM872 1313h3v3h-3zM884 1313h6v3h-6zM896 1313h6v3h-6zM917 1313h3v3h-3zM926 1313h3v3h-3z"/>
<path fill="#0028ff" d="M962 1180h3v5h-3zM1028 1180h3v5h-3zM1037 1180h3v5h-3zM962 1185h3v7h-3zM1028 1185h3v7h-3zM1037 1185h3v7h-3zM962 1192h3v8h-3zM1028 1192h3v8h-3zM1037 1192h3v8h-3zM1037 1255h3v5h-3zM1010 1265h3v5h-3zM1010 1270h3v5h-3zM1010 1275h3v5h-3zM995 1284h3v5h-3zM1007 1284h3v5h-3zM1022 1284h3v5h-3zM1034 1284h3v5h-3zM680 1293h3v4h-3zM689 1293h3v4h-3zM698 1293h3v4h-3zM704 1293h3v4h-3zM719 1293h3v4h-3zM725 1293h6v4h-6zM758 1293h9v4h-9zM773 1293h3v4h-3zM779 1293h3v4h-3zM818 1293h3v4h-3zM830 1293h3v4h-3zM845 1293h3v4h-3zM851 1293h3v4h-3zM881 1293h3v4h-3zM887 1293h3v4h-3zM896 1293h3v4h-3zM902 1293h3v4h-3zM911 1293h3v4h-3zM917 1293h3v4h-3zM926 1293h3v4h-3zM953 1293h3v4h-3zM962 1293h3v4h-3zM665 1297h3v4h-3zM701 1297h3v4h-3zM734 1297h3v4h-3zM827 1297h3v4h-3zM839 1297h3v4h-3zM893 1297h3v4h-3zM923 1297h3v4h-3zM941 1297h3v4h-3zM953 1297h3v4h-3zM941 1301h3v4h-3zM956 1301h3v4h-3zM665 1305h3v4h-3zM701 1305h3v4h-3zM827 1305h3v4h-3zM839 1305h3v4h-3zM893 1305h3v4h-3zM932 1305h6v4h-6zM653 1309h9v4h-9zM683 1309h6v4h-6zM692 1309h3v4h-3zM707 1309h6v4h-6zM737 1309h3v4h-3zM743 1309h3v4h-3zM749 1309h3v4h-3zM776 1309h3v4h-3zM791 1309h3v4h-3zM803 1309h3v4h-3zM812 1309h3v4h-3zM833 1309h3v4h-3zM857 1309h3v4h-3zM908 1309h3v4h-3zM929 1309h3v4h-3z"/>
<path fill="#5a00b2" d="M647 1185h3v7h-3zM653 1185h15v7h-15zM671 1185h3v7h-3zM683 1185h6v7h-6zM692 1185h6v7h-6zM701 1185h3v7h-3zM707 1185h6v7h-6zM716 1185h3v7h-3zM722 1185h3v7h-3zM734 1185h6v7h-6zM743 1185h3v7h-3zM749 1185h3v7h-3zM767 1185h6v7h-6zM776 1185h3v7h-3zM791 1185h3v7h-3zM803 1185h6v7h-6zM827 1192h3v8h-3zM893 1192h3v8h-3zM923 1207h3v6h-3zM923 1213h3v7h-3zM932 1213h6v7h-6zM941 1213h3v7h-3zM920 1220h6v6h-6zM929 1220h9v6h-9zM941 1220h3v6h-3zM920 1226h3v6h-3zM929 1226h3v6h-3zM917 1232h6v6h-6zM926 1232h3v6h-3zM938 1232h3v6h-3zM944 1232h6v6h-6zM917 1238h3v6h-3zM926 1238h3v6h-3zM938 1238h3v6h-3zM944 1238h6v6h-6zM950 1244h3v6h-3zM992 1244h3v6h-3zM1010 1244h3v6h-3zM1016 1244h6v6h-6zM950 1250h3v5h-3zM965 1250h3v5h-3zM971 1250h3v5h-3zM983 1250h6v5h-6zM998 1250h6v5h-6zM1013 1250h6v5h-6zM950 1255h6v5h-6zM959 1255h3v5h-3zM965 1255h3v5h-3zM971 1255h3v5h-3zM983 1255h6v5h-6zM998 1255h6v5h-6zM1013 1255h6v5h-6zM1040 1255h0v5h0zM644 1260h3v5h-3zM656 1260h3v5h-3zM680 1260h3v5h-3zM686 1260h3v5h-3zM740 1260h9v5h-9zM785 1260h6v5h-6zM794 1260h3v5h-3zM806 1260h3v5h-3zM983 1260h3v5h-3zM644 1265h3v5h-3zM656 1265h3v5h-3zM680 1265h3v5h-3zM686 1265h3v5h-3zM740 1265h9v5h-9zM785 1265h6v5h-6zM794 1265h3v5h-3zM806 1265h3v5h-3zM917 1265h3v5h-3zM926 1265h3v5h-3zM938 1265h3v5h-3zM944 1265h6v5h-6zM956 1265h3v5h-3zM962 1265h3v5h-3zM974 1265h3v5h-3zM1028 1265h3v5h-3zM644 1270h3v5h-3zM656 1270h3v5h-3zM680 1270h3v5h-3zM686 1270h3v5h-3zM740 1270h9v5h-9zM785 1270h6v5h-6zM794 1270h3v5h-3zM806 1270h3v5h-3zM917 1270h3v5h-3zM926 1270h3v5h-3zM938 1270h3v5h-3zM944 1270h3v5h-3zM956 1270h3v5h-3zM974 1270h3v5h-3zM1028 1270h3v5h-3zM644 1275h3v5h-3zM656 1275h3v5h-3zM680 1275h3v5h-3zM686 1275h3v5h-3zM740 1275h9v5h-9zM785 1275h6v5h-6zM794 1275h3v5h-3zM806 1275h3v5h-3zM878 1275h3v5h-3zM917 1275h3v5h-3zM926 1275h3v5h-3zM932 1275h3v5h-3zM938 1275h3v5h-3zM944 1275h3v5h-3zM956 1275h3v5h-3zM974 1275h3v5h-3zM986 1275h3v5h-3zM644 1280h3v4h-3zM668 1280h3v4h-3zM680 1280h3v4h-3zM686 1280h3v4h-3zM692 1280h3v4h-3zM734 1280h3v4h-3zM740 1280h9v4h-9zM752 1280h3v4h-3zM794 1280h3v4h-3zM806 1280h3v4h-3zM818 1280h3v4h-3zM860 1280h3v4h-3zM902 1280h3v4h-3zM917 1280h3v4h-3zM926 1280h3v4h-3zM938 1280h3v4h-3zM956 1280h3v4h-3zM680 1284h3v5h-3zM686 1284h3v5h-3zM743 1284h6v5h-6zM917 1284h3v5h-3zM926 1284h3v5h-3zM938 1284h3v5h-3zM1013 1289h6v4h-6zM1031 1289h3v4h-3zM1040 1289h0v4h0zM1007 1293h3v4h-3zM1025 1293h6v4h-6zM1034 1293h6v4h-6zM986 1297h3v4h-3zM1007 1297h3v4h-3zM1025 1297h6v4h-6zM1037 1297h3v4h-3zM977 1301h3v4h-3zM968 1305h3v4h-3zM959 1309h3v4h-3zM932 1316h9v4h-9z"/>
<path fill="#5f0096" d="M647 1192h3v8h-3zM653 1192h15v8h-15zM671 1192h6v8h-6zM683 1192h6v8h-6zM692 1192h6v8h-6zM701 1192h3v8h-3zM707 1192h6v8h-6zM716 1192h3v8h-3zM722 1192h3v8h-3zM731 1192h27v8h-27zM767 1192h6v8h-6zM776 1192h3v8h-3zM788 1192h6v8h-6zM800 1192h9v8h-9zM818 1200h6v7h-6zM830 1200h3v7h-3zM836 1200h3v7h-3zM845 1200h12v7h-12zM860 1200h18v7h-18zM881 1200h12v7h-12zM896 1200h18v7h-18zM923 1238h3v6h-3zM932 1238h6v6h-6zM941 1238h3v6h-3zM923 1244h3v6h-3zM932 1244h6v6h-6zM941 1244h3v6h-3zM920 1250h3v5h-3zM929 1250h9v5h-9zM941 1250h3v5h-3zM920 1255h3v5h-3zM929 1255h3v5h-3zM701 1260h3v5h-3zM707 1260h3v5h-3zM716 1260h3v5h-3zM737 1260h3v5h-3zM749 1260h3v5h-3zM770 1260h3v5h-3zM779 1260h3v5h-3zM791 1260h3v5h-3zM824 1260h3v5h-3zM848 1260h3v5h-3zM917 1260h48v5h-48zM968 1260h9v5h-9zM986 1260h3v5h-3zM998 1260h6v5h-6zM1013 1260h3v5h-3zM1028 1260h3v5h-3zM1040 1260h0v5h0zM701 1265h3v5h-3zM707 1265h3v5h-3zM716 1265h3v5h-3zM737 1265h3v5h-3zM749 1265h3v5h-3zM770 1265h3v5h-3zM779 1265h3v5h-3zM791 1265h3v5h-3zM824 1265h3v5h-3zM848 1265h3v5h-3zM923 1265h3v5h-3zM932 1265h3v5h-3zM950 1265h3v5h-3zM701 1270h3v5h-3zM707 1270h3v5h-3zM716 1270h3v5h-3zM737 1270h3v5h-3zM749 1270h3v5h-3zM770 1270h3v5h-3zM779 1270h3v5h-3zM791 1270h3v5h-3zM824 1270h3v5h-3zM848 1270h3v5h-3zM923 1270h3v5h-3zM932 1270h3v5h-3zM950 1270h3v5h-3zM701 1275h3v5h-3zM707 1275h3v5h-3zM713 1275h6v5h-6zM749 1275h3v5h-3zM779 1275h3v5h-3zM791 1275h3v5h-3zM824 1275h3v5h-3zM848 1275h3v5h-3zM893 1275h3v5h-3zM923 1275h3v5h-3zM674 1280h3v4h-3zM698 1280h6v4h-6zM707 1280h3v4h-3zM716 1280h3v4h-3zM749 1280h3v4h-3zM758 1280h3v4h-3zM779 1280h3v4h-3zM791 1280h3v4h-3zM800 1280h3v4h-3zM812 1280h3v4h-3zM824 1280h3v4h-3zM848 1280h3v4h-3zM866 1280h3v4h-3zM908 1280h3v4h-3zM923 1280h3v4h-3zM701 1284h3v5h-3zM716 1284h3v5h-3zM749 1284h3v5h-3zM779 1284h3v5h-3zM791 1284h3v5h-3zM848 1284h3v5h-3zM923 1284h3v5h-3zM992 1297h3v4h-3zM1019 1297h3v4h-3zM971 1305h6v4h-6zM953 1313h3v3h-3zM941 1316h6v4h-6zM713 1320h3v3h-3zM782 1320h3v3h-3zM821 1320h3v3h-3zM854 1320h3v3h-3zM872 1320h3v3h-3zM884 1320h3v3h-3zM899 1320h3v3h-3zM917 1320h3v3h-3z"/>
<path fill="#5c00a4" d="M650 1192h3v8h-3zM668 1192h3v8h-3zM677 1192h6v8h-6zM689 1192h3v8h-3zM698 1192h3v8h-3zM704 1192h3v8h-3zM713 1192h3v8h-3zM719 1192h3v8h-3zM725 1192h6v8h-6zM758 1192h9v8h-9zM773 1192h3v8h-3zM779 1192h9v8h-9zM794 1192h6v8h-6zM923 1226h3v6h-3zM932 1226h6v6h-6zM941 1226h3v6h-3zM923 1232h3v6h-3zM929 1232h9v6h-9zM941 1232h3v6h-3zM920 1238h3v6h-3zM929 1238h3v6h-3zM917 1244h6v6h-6zM926 1244h6v6h-6zM938 1244h3v6h-3zM944 1244h6v6h-6zM917 1250h3v5h-3zM926 1250h3v5h-3zM938 1250h3v5h-3zM944 1250h6v5h-6zM917 1255h3v5h-3zM926 1255h3v5h-3zM938 1255h3v5h-3zM944 1255h6v5h-6zM653 1260h3v5h-3zM695 1260h3v5h-3zM803 1260h3v5h-3zM809 1260h3v5h-3zM839 1260h3v5h-3zM965 1260h3v5h-3zM653 1265h3v5h-3zM695 1265h3v5h-3zM803 1265h3v5h-3zM809 1265h3v5h-3zM839 1265h3v5h-3zM920 1265h3v5h-3zM929 1265h3v5h-3zM935 1265h3v5h-3zM941 1265h3v5h-3zM953 1265h3v5h-3zM959 1265h3v5h-3zM971 1265h3v5h-3zM986 1265h3v5h-3zM998 1265h6v5h-6zM1013 1265h3v5h-3zM653 1270h3v5h-3zM695 1270h3v5h-3zM803 1270h3v5h-3zM809 1270h3v5h-3zM839 1270h3v5h-3zM920 1270h3v5h-3zM929 1270h3v5h-3zM935 1270h3v5h-3zM941 1270h3v5h-3zM953 1270h3v5h-3zM959 1270h3v5h-3zM971 1270h3v5h-3zM986 1270h3v5h-3zM998 1270h6v5h-6zM1013 1270h3v5h-3zM653 1275h3v5h-3zM803 1275h3v5h-3zM839 1275h3v5h-3zM875 1275h3v5h-3zM920 1275h3v5h-3zM929 1275h3v5h-3zM935 1275h3v5h-3zM941 1275h3v5h-3zM950 1275h6v5h-6zM959 1275h3v5h-3zM971 1275h3v5h-3zM803 1280h3v4h-3zM839 1280h3v4h-3zM920 1280h3v4h-3zM935 1280h3v4h-3zM941 1280h3v4h-3zM953 1280h3v4h-3zM959 1280h3v4h-3zM707 1284h3v5h-3zM803 1284h3v5h-3zM839 1284h3v5h-3zM887 1284h3v5h-3zM920 1284h3v5h-3zM935 1284h3v5h-3zM941 1284h3v5h-3zM998 1293h9v4h-9zM1010 1293h15v4h-15zM1031 1293h3v4h-3zM1040 1293h0v4h0zM989 1297h3v4h-3zM995 1297h12v4h-12zM1010 1297h9v4h-9zM1022 1297h3v4h-3zM1031 1297h6v4h-6zM1040 1297h0v4h0zM980 1301h3v4h-3zM962 1309h3v4h-3zM950 1313h3v3h-3z"/>
<path fill="#46006c" d="M647 1200h18v7h-18zM668 1200h33v7h-33zM704 1200h105v7h-105zM761 1207h3v6h-3zM767 1207h3v6h-3zM797 1207h3v6h-3zM761 1213h3v7h-3zM767 1213h3v7h-3zM797 1213h3v7h-3zM761 1220h3v6h-3zM767 1220h3v6h-3zM797 1220h3v6h-3zM761 1226h3v6h-3zM767 1226h3v6h-3zM797 1226h3v6h-3zM761 1232h3v6h-3zM767 1232h3v6h-3zM797 1232h3v6h-3zM761 1238h3v6h-3zM767 1238h3v6h-3zM797 1238h3v6h-3zM761 1244h3v6h-3zM767 1244h3v6h-3zM797 1244h3v6h-3zM761 1250h3v5h-3zM767 1250h3v5h-3zM797 1250h3v5h-3zM761 1255h3v5h-3zM767 1255h3v5h-3zM797 1255h3v5h-3zM875 1270h6v5h-6zM866 1275h3v5h-3zM908 1275h3v5h-3zM914 1284h3v5h-3zM986 1301h54v4h-54zM977 1305h63v4h-63zM968 1309h3v4h-3zM959 1313h3v3h-3zM641 1320h3v3h-3zM653 1320h3v3h-3zM665 1320h3v3h-3zM671 1320h3v3h-3zM695 1320h3v3h-3zM701 1320h3v3h-3zM734 1320h3v3h-3zM749 1320h3v3h-3zM809 1320h3v3h-3zM815 1320h3v3h-3zM824 1320h6v3h-6zM839 1320h6v3h-6zM878 1320h3v3h-3zM893 1320h3v3h-3zM914 1320h3v3h-3zM923 1320h3v3h-3zM932 1320h3v3h-3z"/>
<path fill="#3a0056" d="M665 1200h3v7h-3zM701 1200h3v7h-3zM818 1207h6v6h-6zM830 1207h3v6h-3zM845 1207h12v6h-12zM860 1207h3v6h-3zM872 1207h6v6h-6zM881 1207h12v6h-12zM896 1207h9v6h-9zM911 1207h3v6h-3zM893 1270h3v5h-3zM887 1275h3v5h-3zM881 1280h3v4h-3zM962 1313h3v3h-3zM950 1316h3v4h-3zM935 1320h6v3h-6z"/>
<path fill="#520081" d="M809 1200h9v7h-9zM824 1200h6v7h-6zM833 1200h3v7h-3zM839 1200h6v7h-6zM857 1200h3v7h-3zM878 1200h3v7h-3zM893 1200h3v7h-3zM914 1200h3v7h-3zM923 1250h3v5h-3zM923 1255h3v5h-3zM932 1255h6v5h-6zM941 1255h3v5h-3zM635 1260h3v5h-3zM641 1260h3v5h-3zM650 1260h3v5h-3zM659 1260h18v5h-18zM692 1260h3v5h-3zM698 1260h3v5h-3zM710 1260h6v5h-6zM734 1260h3v5h-3zM752 1260h3v5h-3zM758 1260h3v5h-3zM764 1260h3v5h-3zM776 1260h3v5h-3zM782 1260h3v5h-3zM800 1260h3v5h-3zM812 1260h3v5h-3zM818 1260h3v5h-3zM827 1260h3v5h-3zM833 1260h3v5h-3zM851 1260h6v5h-6zM635 1265h3v5h-3zM641 1265h3v5h-3zM650 1265h3v5h-3zM659 1265h18v5h-18zM692 1265h3v5h-3zM698 1265h3v5h-3zM710 1265h6v5h-6zM734 1265h3v5h-3zM752 1265h3v5h-3zM758 1265h3v5h-3zM764 1265h3v5h-3zM776 1265h3v5h-3zM782 1265h3v5h-3zM800 1265h3v5h-3zM812 1265h3v5h-3zM818 1265h3v5h-3zM827 1265h3v5h-3zM833 1265h3v5h-3zM851 1265h6v5h-6zM635 1270h3v5h-3zM641 1270h3v5h-3zM650 1270h3v5h-3zM659 1270h18v5h-18zM692 1270h3v5h-3zM698 1270h3v5h-3zM710 1270h6v5h-6zM734 1270h3v5h-3zM752 1270h3v5h-3zM758 1270h3v5h-3zM764 1270h3v5h-3zM776 1270h3v5h-3zM782 1270h3v5h-3zM800 1270h3v5h-3zM812 1270h3v5h-3zM818 1270h3v5h-3zM827 1270h3v5h-3zM833 1270h3v5h-3zM851 1270h6v5h-6zM863 1270h3v5h-3zM890 1270h3v5h-3zM905 1270h3v5h-3zM635 1275h3v5h-3zM650 1275h3v5h-3zM659 1275h12v5h-12zM674 1275h3v5h-3zM692 1275h3v5h-3zM698 1275h3v5h-3zM734 1275h3v5h-3zM752 1275h3v5h-3zM758 1275h3v5h-3zM764 1275h3v5h-3zM776 1275h3v5h-3zM782 1275h3v5h-3zM800 1275h3v5h-3zM812 1275h3v5h-3zM818 1275h3v5h-3zM827 1275h3v5h-3zM833 1275h3v5h-3zM851 1275h6v5h-6zM860 1275h3v5h-3zM902 1275h3v5h-3zM635 1280h3v4h-3zM650 1280h3v4h-3zM659 1280h9v4h-9zM764 1280h3v4h-3zM776 1280h3v4h-3zM782 1280h3v4h-3zM827 1280h3v4h-3zM833 1280h3v4h-3zM851 1280h6v4h-6zM887 1280h3v4h-3zM635 1284h3v5h-3zM650 1284h3v5h-3zM659 1284h9v5h-9zM764 1284h3v5h-3zM776 1284h3v5h-3zM782 1284h3v5h-3zM827 1284h3v5h-3zM833 1284h3v5h-3zM851 1284h9v5h-9zM869 1284h6v5h-6zM881 1284h6v5h-6zM896 1284h6v5h-6zM911 1284h3v5h-3zM983 1301h3v4h-3zM965 1309h3v4h-3zM956 1313h3v3h-3zM947 1316h3v4h-3zM635 1320h6v3h-6zM644 1320h9v3h-9zM656 1320h9v3h-9zM668 1320h3v3h-3zM674 1320h21v3h-21zM698 1320h3v3h-3zM704 1320h9v3h-9zM716 1320h18v3h-18zM737 1320h12v3h-12zM752 1320h30v3h-30zM785 1320h24v3h-24zM812 1320h3v3h-3zM818 1320h3v3h-3zM830 1320h9v3h-9zM845 1320h9v3h-9zM857 1320h15v3h-15zM875 1320h3v3h-3zM881 1320h3v3h-3zM887 1320h6v3h-6zM896 1320h3v3h-3zM902 1320h12v3h-12zM920 1320h3v3h-3zM926 1320h6v3h-6z"/>
<path fill="#2d0041" d="M647 1207h114v6h-114zM764 1207h3v6h-3zM770 1207h27v6h-27zM800 1207h18v6h-18zM824 1207h6v6h-6zM833 1207h12v6h-12zM857 1207h3v6h-3zM863 1207h9v6h-9zM878 1207h3v6h-3zM893 1207h3v6h-3zM905 1207h6v6h-6zM914 1207h3v6h-3zM722 1213h3v7h-3zM728 1213h3v7h-3zM815 1213h3v7h-3zM821 1213h3v7h-3zM830 1213h3v7h-3zM842 1213h3v7h-3zM722 1220h3v6h-3zM728 1220h3v6h-3zM815 1220h3v6h-3zM821 1220h3v6h-3zM830 1220h3v6h-3zM842 1220h3v6h-3zM722 1226h3v6h-3zM728 1226h3v6h-3zM815 1226h3v6h-3zM821 1226h3v6h-3zM830 1226h3v6h-3zM842 1226h3v6h-3zM722 1232h3v6h-3zM728 1232h3v6h-3zM815 1232h3v6h-3zM821 1232h3v6h-3zM830 1232h3v6h-3zM842 1232h3v6h-3zM722 1238h3v6h-3zM728 1238h3v6h-3zM815 1238h3v6h-3zM821 1238h3v6h-3zM830 1238h3v6h-3zM842 1238h3v6h-3zM722 1244h3v6h-3zM728 1244h3v6h-3zM815 1244h3v6h-3zM821 1244h3v6h-3zM830 1244h3v6h-3zM842 1244h3v6h-3zM722 1250h3v5h-3zM728 1250h3v5h-3zM815 1250h3v5h-3zM821 1250h3v5h-3zM830 1250h3v5h-3zM842 1250h3v5h-3zM722 1255h3v5h-3zM728 1255h3v5h-3zM815 1255h3v5h-3zM821 1255h3v5h-3zM830 1255h3v5h-3zM842 1255h3v5h-3zM863 1265h3v5h-3zM890 1265h3v5h-3zM905 1265h3v5h-3zM860 1270h3v5h-3zM866 1270h3v5h-3zM902 1270h3v5h-3zM908 1270h3v5h-3zM881 1275h3v5h-3zM872 1280h3v4h-3zM971 1309h6v4h-6zM965 1313h3v3h-3zM953 1316h6v4h-6zM941 1320h9v3h-9zM644 1323h3v3h-3zM698 1323h3v3h-3zM713 1323h3v3h-3zM725 1323h3v3h-3zM782 1323h6v3h-6zM821 1323h3v3h-3zM854 1323h3v3h-3zM872 1323h3v3h-3zM884 1323h3v3h-3zM899 1323h3v3h-3zM917 1323h3v3h-3zM926 1323h3v3h-3z"/>
<path fill="#220031" d="M647 1213h3v7h-3zM719 1213h3v7h-3zM755 1213h3v7h-3zM773 1213h3v7h-3zM836 1213h3v7h-3zM845 1213h3v7h-3zM893 1213h3v7h-3zM647 1220h3v6h-3zM719 1220h3v6h-3zM755 1220h3v6h-3zM773 1220h3v6h-3zM836 1220h3v6h-3zM845 1220h3v6h-3zM893 1220h3v6h-3zM647 1226h3v6h-3zM719 1226h3v6h-3zM755 1226h3v6h-3zM773 1226h3v6h-3zM836 1226h3v6h-3zM845 1226h3v6h-3zM893 1226h3v6h-3zM647 1232h3v6h-3zM719 1232h3v6h-3zM755 1232h3v6h-3zM773 1232h3v6h-3zM836 1232h3v6h-3zM845 1232h3v6h-3zM893 1232h3v6h-3zM647 1238h3v6h-3zM719 1238h3v6h-3zM755 1238h3v6h-3zM773 1238h3v6h-3zM836 1238h3v6h-3zM845 1238h3v6h-3zM893 1238h3v6h-3zM647 1244h3v6h-3zM719 1244h3v6h-3zM755 1244h3v6h-3zM773 1244h3v6h-3zM836 1244h3v6h-3zM845 1244h3v6h-3zM893 1244h3v6h-3zM647 1250h3v5h-3zM719 1250h3v5h-3zM755 1250h3v5h-3zM773 1250h3v5h-3zM836 1250h3v5h-3zM845 1250h3v5h-3zM893 1250h3v5h-3zM647 1255h3v5h-3zM719 1255h3v5h-3zM755 1255h3v5h-3zM773 1255h3v5h-3zM836 1255h3v5h-3zM845 1255h3v5h-3zM893 1255h3v5h-3zM875 1260h3v5h-3zM893 1260h3v5h-3zM902 1260h3v5h-3zM875 1265h6v5h-6zM893 1265h3v5h-3zM902 1265h3v5h-3zM887 1270h3v5h-3zM872 1275h3v5h-3zM857 1280h3v4h-3zM869 1280h3v4h-3zM884 1280h3v4h-3zM896 1280h6v4h-6zM911 1280h6v4h-6zM977 1309h3v4h-3zM968 1313h3v3h-3zM959 1316h3v4h-3zM965 1316h3v4h-3zM635 1323h9v3h-9zM647 1323h51v3h-51zM701 1323h12v3h-12zM716 1323h9v3h-9zM728 1323h54v3h-54zM788 1323h33v3h-33zM824 1323h30v3h-30zM857 1323h15v3h-15zM875 1323h9v3h-9zM887 1323h12v3h-12zM902 1323h15v3h-15zM920 1323h6v3h-6zM929 1323h9v3h-9z"/>
<path fill="#160020" d="M650 1213h69v7h-69zM725 1213h3v7h-3zM731 1213h24v7h-24zM758 1213h3v7h-3zM764 1213h3v7h-3zM770 1213h3v7h-3zM776 1213h21v7h-21zM800 1213h15v7h-15zM818 1213h3v7h-3zM824 1213h6v7h-6zM833 1213h3v7h-3zM839 1213h3v7h-3zM848 1213h45v7h-45zM896 1213h21v7h-21zM677 1220h3v6h-3zM683 1220h3v6h-3zM689 1220h3v6h-3zM704 1220h3v6h-3zM725 1220h3v6h-3zM731 1220h3v6h-3zM785 1220h6v6h-6zM794 1220h3v6h-3zM806 1220h6v6h-6zM860 1220h3v6h-3zM875 1220h3v6h-3zM899 1220h6v6h-6zM677 1226h3v6h-3zM683 1226h3v6h-3zM689 1226h3v6h-3zM704 1226h3v6h-3zM725 1226h3v6h-3zM731 1226h3v6h-3zM785 1226h6v6h-6zM794 1226h3v6h-3zM806 1226h6v6h-6zM860 1226h3v6h-3zM875 1226h3v6h-3zM899 1226h6v6h-6zM677 1232h3v6h-3zM683 1232h3v6h-3zM689 1232h3v6h-3zM704 1232h3v6h-3zM725 1232h3v6h-3zM731 1232h3v6h-3zM785 1232h6v6h-6zM794 1232h3v6h-3zM806 1232h6v6h-6zM860 1232h3v6h-3zM875 1232h3v6h-3zM899 1232h6v6h-6zM677 1238h3v6h-3zM683 1238h3v6h-3zM689 1238h3v6h-3zM704 1238h3v6h-3zM725 1238h3v6h-3zM731 1238h3v6h-3zM785 1238h6v6h-6zM794 1238h3v6h-3zM806 1238h6v6h-6zM860 1238h3v6h-3zM875 1238h3v6h-3zM899 1238h6v6h-6zM677 1244h3v6h-3zM683 1244h3v6h-3zM689 1244h3v6h-3zM704 1244h3v6h-3zM725 1244h3v6h-3zM731 1244h3v6h-3zM785 1244h6v6h-6zM794 1244h3v6h-3zM806 1244h6v6h-6zM860 1244h3v6h-3zM875 1244h3v6h-3zM899 1244h6v6h-6zM677 1250h3v5h-3zM683 1250h3v5h-3zM689 1250h3v5h-3zM704 1250h3v5h-3zM725 1250h3v5h-3zM731 1250h3v5h-3zM785 1250h6v5h-6zM794 1250h3v5h-3zM806 1250h6v5h-6zM860 1250h3v5h-3zM875 1250h3v5h-3zM899 1250h6v5h-6zM677 1255h3v5h-3zM683 1255h3v5h-3zM689 1255h3v5h-3zM704 1255h3v5h-3zM725 1255h3v5h-3zM731 1255h3v5h-3zM785 1255h6v5h-6zM794 1255h3v5h-3zM806 1255h6v5h-6zM860 1255h3v5h-3zM875 1255h3v5h-3zM899 1255h6v5h-6zM857 1260h18v5h-18zM878 1260h15v5h-15zM896 1260h6v5h-6zM905 1260h12v5h-12zM857 1265h6v5h-6zM866 1265h9v5h-9zM881 1265h9v5h-9zM896 1265h6v5h-6zM908 1265h9v5h-9zM857 1270h3v5h-3zM869 1270h6v5h-6zM881 1270h6v5h-6zM896 1270h6v5h-6zM911 1270h6v5h-6zM857 1275h3v5h-3zM869 1275h3v5h-3zM884 1275h3v5h-3zM896 1275h6v5h-6zM911 1275h6v5h-6zM980 1309h9v4h-9zM971 1313h6v3h-6zM962 1316h3v4h-3zM950 1320h9v3h-9zM965 1320h3v3h-3zM938 1323h12v3h-12zM641 1326h6v3h-6zM653 1326h6v3h-6zM671 1326h3v3h-3zM695 1326h3v3h-3zM710 1326h6v3h-6zM722 1326h6v3h-6zM737 1326h3v3h-3zM755 1326h3v3h-3zM770 1326h6v3h-6zM782 1326h9v3h-9zM797 1326h3v3h-3zM809 1326h3v3h-3zM821 1326h3v3h-3zM842 1326h6v3h-6zM854 1326h3v3h-3zM863 1326h3v3h-3zM872 1326h9v3h-9zM884 1326h3v3h-3zM890 1326h6v3h-6zM899 1326h3v3h-3zM905 1326h3v3h-3zM917 1326h18v3h-18zM938 1326h3v3h-3zM923 1329h3v3h-3zM938 1329h3v3h-3zM923 1332h3v3h-3zM938 1332h3v3h-3zM923 1335h3v3h-3zM938 1335h3v3h-3zM923 1338h3v3h-3zM938 1338h3v3h-3z"/>
<path fill="#000000" d="M650 1232h3v6h-3zM659 1232h18v6h-18zM692 1232h3v6h-3zM698 1232h6v6h-6zM707 1232h12v6h-12zM734 1232h6v6h-6zM749 1232h6v6h-6zM758 1232h3v6h-3zM764 1232h3v6h-3zM770 1232h3v6h-3zM776 1232h3v6h-3zM782 1232h3v6h-3zM800 1232h3v6h-3zM812 1232h3v6h-3zM818 1232h3v6h-3zM827 1232h3v6h-3zM833 1232h3v6h-3zM848 1232h12v6h-12zM863 1232h12v6h-12zM884 1232h9v6h-9zM896 1232h3v6h-3zM908 1232h9v6h-9zM650 1238h3v6h-3zM659 1238h18v6h-18zM692 1238h3v6h-3zM698 1238h6v6h-6zM707 1238h12v6h-12zM734 1238h6v6h-6zM749 1238h6v6h-6zM758 1238h3v6h-3zM764 1238h3v6h-3zM770 1238h3v6h-3zM776 1238h3v6h-3zM782 1238h3v6h-3zM800 1238h3v6h-3zM812 1238h3v6h-3zM818 1238h3v6h-3zM827 1238h3v6h-3zM833 1238h3v6h-3zM848 1238h12v6h-12zM863 1238h12v6h-12zM884 1238h9v6h-9zM896 1238h3v6h-3zM908 1238h9v6h-9zM650 1244h3v6h-3zM659 1244h18v6h-18zM692 1244h3v6h-3zM698 1244h6v6h-6zM707 1244h12v6h-12zM734 1244h6v6h-6zM749 1244h6v6h-6zM758 1244h3v6h-3zM764 1244h3v6h-3zM770 1244h3v6h-3zM776 1244h3v6h-3zM782 1244h3v6h-3zM800 1244h3v6h-3zM812 1244h3v6h-3zM818 1244h3v6h-3zM827 1244h3v6h-3zM833 1244h3v6h-3zM848 1244h12v6h-12zM863 1244h12v6h-12zM884 1244h9v6h-9zM896 1244h3v6h-3zM908 1244h9v6h-9zM650 1250h3v5h-3zM659 1250h18v5h-18zM692 1250h3v5h-3zM698 1250h6v5h-6zM707 1250h12v5h-12zM734 1250h6v5h-6zM749 1250h6v5h-6zM758 1250h3v5h-3zM764 1250h3v5h-3zM770 1250h3v5h-3zM776 1250h3v5h-3zM782 1250h3v5h-3zM800 1250h3v5h-3zM812 1250h3v5h-3zM818 1250h3v5h-3zM827 1250h3v5h-3zM833 1250h3v5h-3zM848 1250h12v5h-12zM863 1250h12v5h-12zM884 1250h9v5h-9zM896 1250h3v5h-3zM908 1250h9v5h-9zM650 1255h3v5h-3zM659 1255h18v5h-18zM692 1255h3v5h-3zM698 1255h6v5h-6zM707 1255h12v5h-12zM734 1255h6v5h-6zM749 1255h6v5h-6zM758 1255h3v5h-3zM764 1255h3v5h-3zM770 1255h3v5h-3zM776 1255h3v5h-3zM782 1255h3v5h-3zM800 1255h3v5h-3zM812 1255h3v5h-3zM818 1255h3v5h-3zM827 1255h3v5h-3zM833 1255h3v5h-3zM848 1255h12v5h-12zM863 1255h12v5h-12zM884 1255h9v5h-9zM896 1255h3v5h-3zM908 1255h9v5h-9zM1007 1313h6v3h-6zM1019 1313h3v3h-3zM1034 1313h6v3h-6zM995 1316h3v4h-3zM1007 1316h6v4h-6zM1019 1316h3v4h-3zM1034 1316h6v4h-6zM974 1320h3v3h-3zM995 1320h3v3h-3zM1007 1320h6v3h-6zM1019 1320h3v3h-3zM1034 1320h6v3h-6zM974 1323h3v3h-3zM995 1323h3v3h-3zM1007 1323h6v3h-6zM1019 1323h3v3h-3zM1034 1323h6v3h-6zM959 1326h3v3h-3zM974 1326h3v3h-3zM995 1326h3v3h-3zM1007 1326h6v3h-6zM1019 1326h3v3h-3zM1034 1326h6v3h-6zM950 1329h3v3h-3zM959 1329h3v3h-3zM974 1329h3v3h-3zM995 1329h3v3h-3zM1007 1329h6v3h-6zM1019 1329h3v3h-3zM1034 1329h6v3h-6zM635 1332h6v3h-6zM644 1332h9v3h-9zM659 1332h12v3h-12zM674 1332h21v3h-21zM698 1332h12v3h-12zM716 1332h6v3h-6zM728 1332h9v3h-9zM740 1332h15v3h-15zM758 1332h12v3h-12zM776 1332h9v3h-9zM791 1332h6v3h-6zM800 1332h9v3h-9zM812 1332h9v3h-9zM824 1332h18v3h-18zM848 1332h15v3h-15zM866 1332h9v3h-9zM881 1332h9v3h-9zM896 1332h9v3h-9zM908 1332h15v3h-15zM944 1332h3v3h-3zM950 1332h3v3h-3zM959 1332h3v3h-3zM974 1332h3v3h-3zM995 1332h3v3h-3zM1007 1332h6v3h-6zM1019 1332h3v3h-3zM1034 1332h6v3h-6zM635 1335h288v3h-288zM944 1335h3v3h-3zM950 1335h3v3h-3zM959 1335h3v3h-3zM974 1335h3v3h-3zM995 1335h3v3h-3zM1007 1335h6v3h-6zM1019 1335h3v3h-3zM1034 1335h6v3h-6zM635 1338h288v3h-288zM944 1338h3v3h-3zM950 1338h3v3h-3zM959 1338h3v3h-3zM974 1338h3v3h-3zM995 1338h3v3h-3zM1007 1338h6v3h-6zM1019 1338h3v3h-3zM1034 1338h6v3h-6z"/>
<path fill="#1e00fa" d="M1007 1250h3v5h-3zM1019 1250h6v5h-6zM977 1260h3v5h-3zM989 1265h3v5h-3zM968 1270h3v5h-3zM947 1275h3v5h-3zM641 1280h3v4h-3zM671 1280h3v4h-3zM695 1280h3v4h-3zM710 1280h3v4h-3zM722 1280h3v4h-3zM737 1280h3v4h-3zM755 1280h3v4h-3zM770 1280h3v4h-3zM797 1280h3v4h-3zM809 1280h3v4h-3zM821 1280h3v4h-3zM842 1280h3v4h-3zM863 1280h3v4h-3zM890 1280h3v4h-3zM905 1280h3v4h-3zM1031 1280h3v4h-3zM944 1284h3v5h-3zM668 1289h3v4h-3zM692 1289h3v4h-3zM734 1289h3v4h-3zM752 1289h3v4h-3zM794 1289h3v4h-3zM806 1289h3v4h-3zM818 1289h3v4h-3zM860 1289h3v4h-3zM902 1289h3v4h-3zM950 1289h3v4h-3zM971 1289h3v4h-3zM995 1289h3v4h-3zM971 1293h3v4h-3zM653 1313h3v3h-3zM671 1313h3v3h-3zM683 1313h6v3h-6zM695 1313h3v3h-3zM707 1313h3v3h-3zM734 1313h3v3h-3zM743 1313h3v3h-3zM749 1313h3v3h-3zM809 1313h9v3h-9zM824 1313h3v3h-3zM839 1313h6v3h-6zM878 1313h3v3h-3zM914 1313h3v3h-3zM923 1313h3v3h-3zM938 1313h3v3h-3z"/>
<path fill="#160afb" d="M1034 1250h3v5h-3zM1010 1255h3v5h-3zM1031 1260h3v5h-3zM989 1270h3v5h-3zM989 1275h3v5h-3zM1031 1275h3v5h-3zM989 1280h3v4h-3zM929 1284h3v5h-3zM974 1284h3v5h-3zM944 1289h3v4h-3zM953 1289h3v4h-3zM974 1289h3v4h-3zM665 1293h3v4h-3zM701 1293h3v4h-3zM734 1293h3v4h-3zM815 1293h3v4h-3zM827 1293h3v4h-3zM839 1293h3v4h-3zM914 1293h3v4h-3zM923 1293h3v4h-3zM974 1293h3v4h-3zM965 1297h6v4h-6zM950 1305h9v4h-9zM941 1309h3v4h-3zM947 1309h3v4h-3zM647 1313h3v3h-3zM656 1313h9v3h-9zM692 1313h3v3h-3zM710 1313h3v3h-3zM716 1313h3v3h-3zM722 1313h3v3h-3zM731 1313h3v3h-3zM737 1313h6v3h-6zM746 1313h3v3h-3zM752 1313h6v3h-6zM767 1313h6v3h-6zM776 1313h3v3h-3zM791 1313h3v3h-3zM800 1313h9v3h-9zM833 1313h6v3h-6zM857 1313h3v3h-3zM863 1313h9v3h-9zM905 1313h6v3h-6zM929 1313h3v3h-3z"/>
<path fill="#004bff" d="M1007 1255h3v5h-3zM1019 1255h6v5h-6zM1034 1255h3v5h-3zM995 1260h3v5h-3zM1004 1260h3v5h-3zM977 1265h3v5h-3zM1004 1275h3v5h-3zM1037 1280h3v4h-3zM656 1289h3v4h-3zM788 1289h3v4h-3zM878 1289h3v4h-3zM932 1289h3v4h-3zM980 1289h3v4h-3zM653 1293h3v4h-3zM785 1293h3v4h-3zM875 1293h3v4h-3zM929 1293h3v4h-3zM647 1297h3v4h-3zM653 1297h3v4h-3zM659 1297h6v4h-6zM683 1297h6v4h-6zM692 1297h3v4h-3zM707 1297h3v4h-3zM716 1297h3v4h-3zM731 1297h3v4h-3zM740 1297h3v4h-3zM767 1297h3v4h-3zM776 1297h3v4h-3zM791 1297h3v4h-3zM803 1297h6v4h-6zM812 1297h3v4h-3zM833 1297h3v4h-3zM857 1297h3v4h-3zM869 1297h3v4h-3zM908 1297h3v4h-3zM920 1297h3v4h-3zM929 1297h3v4h-3zM653 1301h6v4h-6zM683 1301h6v4h-6zM707 1301h3v4h-3zM743 1301h3v4h-3zM749 1301h3v4h-3zM791 1301h3v4h-3zM812 1301h3v4h-3zM824 1301h3v4h-3zM947 1301h3v4h-3zM647 1305h3v4h-3zM656 1305h9v4h-9zM683 1305h6v4h-6zM692 1305h3v4h-3zM707 1305h6v4h-6zM716 1305h3v4h-3zM722 1305h3v4h-3zM737 1305h3v4h-3zM743 1305h3v4h-3zM767 1305h3v4h-3zM776 1305h3v4h-3zM791 1305h3v4h-3zM803 1305h3v4h-3zM812 1305h3v4h-3zM833 1305h3v4h-3zM857 1305h3v4h-3zM863 1305h3v4h-3zM869 1305h3v4h-3zM905 1305h6v4h-6zM929 1305h3v4h-3zM944 1305h3v4h-3zM650 1309h3v4h-3zM668 1309h3v4h-3zM674 1309h9v4h-9zM689 1309h3v4h-3zM719 1309h3v4h-3zM728 1309h3v4h-3zM758 1309h9v4h-9zM779 1309h3v4h-3zM794 1309h6v4h-6zM818 1309h3v4h-3zM830 1309h3v4h-3zM845 1309h6v4h-6zM860 1309h3v4h-3zM875 1309h3v4h-3zM881 1309h3v4h-3zM902 1309h3v4h-3zM911 1309h3v4h-3z"/>
<path fill="#005cff" d="M992 1260h3v5h-3zM1037 1260h3v5h-3zM980 1265h3v5h-3zM1004 1265h3v5h-3zM1004 1270h3v5h-3zM965 1275h3v5h-3zM995 1280h3v4h-3zM1019 1280h3v4h-3zM992 1284h3v5h-3zM977 1289h3v4h-3zM650 1297h3v4h-3zM656 1297h3v4h-3zM668 1297h3v4h-3zM674 1297h6v4h-6zM746 1297h3v4h-3zM752 1297h3v4h-3zM758 1297h3v4h-3zM788 1297h3v4h-3zM794 1297h3v4h-3zM800 1297h3v4h-3zM818 1297h3v4h-3zM836 1297h3v4h-3zM848 1297h3v4h-3zM860 1297h3v4h-3zM866 1297h3v4h-3zM875 1297h6v4h-6zM932 1297h3v4h-3zM944 1297h3v4h-3zM647 1301h3v4h-3zM659 1301h6v4h-6zM671 1301h3v4h-3zM692 1301h6v4h-6zM710 1301h3v4h-3zM716 1301h3v4h-3zM722 1301h3v4h-3zM731 1301h3v4h-3zM737 1301h6v4h-6zM752 1301h6v4h-6zM767 1301h6v4h-6zM776 1301h3v4h-3zM800 1301h12v4h-12zM833 1301h6v4h-6zM842 1301h3v4h-3zM857 1301h3v4h-3zM863 1301h9v4h-9zM905 1301h6v4h-6zM920 1301h3v4h-3zM929 1301h3v4h-3zM944 1301h3v4h-3zM650 1305h3v4h-3zM674 1305h6v4h-6zM731 1305h3v4h-3zM740 1305h3v4h-3zM746 1305h3v4h-3zM752 1305h6v4h-6zM770 1305h3v4h-3zM788 1305h3v4h-3zM794 1305h3v4h-3zM800 1305h3v4h-3zM806 1305h3v4h-3zM836 1305h3v4h-3zM848 1305h3v4h-3zM860 1305h3v4h-3zM866 1305h3v4h-3zM875 1305h3v4h-3zM890 1305h3v4h-3zM920 1305h3v4h-3zM938 1305h3v4h-3zM698 1309h3v4h-3zM704 1309h3v4h-3zM713 1309h3v4h-3zM725 1309h3v4h-3zM773 1309h3v4h-3zM782 1309h6v4h-6zM821 1309h3v4h-3zM851 1309h6v4h-6zM872 1309h3v4h-3zM884 1309h6v4h-6zM896 1309h6v4h-6zM917 1309h3v4h-3zM926 1309h3v4h-3z"/>
<path fill="#0080ff" d="M1007 1260h3v5h-3zM1019 1260h6v5h-6zM977 1270h3v5h-3zM977 1275h3v5h-3zM1019 1275h3v5h-3zM977 1280h3v4h-3zM947 1284h3v5h-3zM977 1284h6v5h-6zM671 1289h3v4h-3zM695 1289h3v4h-3zM737 1289h3v4h-3zM755 1289h3v4h-3zM797 1289h3v4h-3zM809 1289h3v4h-3zM821 1289h3v4h-3zM863 1289h3v4h-3zM905 1289h3v4h-3zM965 1289h3v4h-3zM698 1297h3v4h-3zM710 1297h6v4h-6zM722 1297h6v4h-6zM770 1297h3v4h-3zM782 1297h6v4h-6zM842 1297h3v4h-3zM854 1297h3v4h-3zM872 1297h3v4h-3zM884 1297h3v4h-3zM890 1297h3v4h-3zM899 1297h3v4h-3zM689 1301h3v4h-3zM698 1301h3v4h-3zM704 1301h3v4h-3zM725 1301h3v4h-3zM761 1301h6v4h-6zM773 1301h3v4h-3zM779 1301h3v4h-3zM830 1301h3v4h-3zM851 1301h3v4h-3zM887 1301h3v4h-3zM896 1301h3v4h-3zM902 1301h3v4h-3zM911 1301h3v4h-3zM917 1301h3v4h-3zM926 1301h3v4h-3zM698 1305h3v4h-3zM704 1305h3v4h-3zM713 1305h3v4h-3zM725 1305h3v4h-3zM773 1305h3v4h-3zM782 1305h6v4h-6zM821 1305h3v4h-3zM851 1305h6v4h-6zM872 1305h3v4h-3zM884 1305h6v4h-6zM899 1305h3v4h-3zM926 1305h3v4h-3z"/>
<path fill="#0091ff" d="M1034 1260h3v5h-3zM992 1265h3v5h-3zM1019 1265h6v5h-6zM980 1270h3v5h-3zM1019 1270h6v5h-6zM980 1275h3v5h-3zM992 1275h3v5h-3zM1007 1275h3v5h-3zM1022 1275h3v5h-3zM965 1280h3v4h-3zM980 1280h3v4h-3zM992 1280h3v4h-3zM965 1284h3v5h-3zM947 1289h3v4h-3zM671 1293h3v4h-3zM695 1293h3v4h-3zM710 1293h3v4h-3zM722 1293h3v4h-3zM737 1293h3v4h-3zM755 1293h3v4h-3zM770 1293h3v4h-3zM797 1293h3v4h-3zM809 1293h3v4h-3zM821 1293h3v4h-3zM842 1293h3v4h-3zM863 1293h3v4h-3zM890 1293h3v4h-3zM905 1293h3v4h-3zM947 1293h3v4h-3zM671 1297h3v4h-3zM695 1297h3v4h-3zM737 1297h3v4h-3zM755 1297h3v4h-3zM797 1297h3v4h-3zM809 1297h3v4h-3zM821 1297h3v4h-3zM863 1297h3v4h-3zM905 1297h3v4h-3zM713 1301h3v4h-3zM782 1301h6v4h-6zM821 1301h3v4h-3zM854 1301h3v4h-3zM872 1301h3v4h-3zM884 1301h3v4h-3zM899 1301h3v4h-3z"/>
<path fill="#006eff" d="M995 1265h3v5h-3zM995 1270h3v5h-3zM995 1275h3v5h-3zM1007 1280h3v4h-3zM1022 1280h3v4h-3zM1034 1280h3v4h-3zM710 1289h3v4h-3zM722 1289h3v4h-3zM770 1289h3v4h-3zM842 1289h3v4h-3zM890 1289h3v4h-3zM656 1293h3v4h-3zM788 1293h3v4h-3zM878 1293h3v4h-3zM932 1293h3v4h-3zM680 1297h3v4h-3zM689 1297h3v4h-3zM704 1297h3v4h-3zM719 1297h3v4h-3zM728 1297h3v4h-3zM761 1297h6v4h-6zM773 1297h3v4h-3zM779 1297h3v4h-3zM830 1297h3v4h-3zM845 1297h3v4h-3zM851 1297h3v4h-3zM881 1297h3v4h-3zM887 1297h3v4h-3zM896 1297h3v4h-3zM902 1297h3v4h-3zM911 1297h3v4h-3zM917 1297h3v4h-3zM926 1297h3v4h-3zM938 1297h3v4h-3zM947 1297h3v4h-3zM650 1301h3v4h-3zM668 1301h3v4h-3zM674 1301h9v4h-9zM719 1301h3v4h-3zM728 1301h3v4h-3zM746 1301h3v4h-3zM758 1301h3v4h-3zM788 1301h3v4h-3zM794 1301h6v4h-6zM818 1301h3v4h-3zM845 1301h6v4h-6zM860 1301h3v4h-3zM875 1301h3v4h-3zM881 1301h3v4h-3zM890 1301h3v4h-3zM938 1301h3v4h-3zM668 1305h3v4h-3zM680 1305h3v4h-3zM689 1305h3v4h-3zM719 1305h3v4h-3zM728 1305h3v4h-3zM758 1305h9v4h-9zM779 1305h3v4h-3zM797 1305h3v4h-3zM818 1305h3v4h-3zM830 1305h3v4h-3zM845 1305h3v4h-3zM881 1305h3v4h-3zM896 1305h3v4h-3zM902 1305h3v4h-3zM911 1305h3v4h-3zM917 1305h3v4h-3z"/>
<path fill="#00a2ff" d="M1007 1265h3v5h-3zM992 1270h3v5h-3zM1007 1270h3v5h-3zM635 1289h12v4h-12zM635 1293h12v4h-12zM635 1297h12v4h-12zM635 1301h12v4h-12zM635 1305h12v4h-12zM635 1309h12v4h-12zM635 1313h12v3h-12zM635 1316h12v4h-12z"/>
<path fill="#00d0ff" d="M1034 1265h6v5h-6zM1034 1270h6v5h-6zM1034 1275h6v5h-6z"/>
<path fill="#003aff" d="M947 1280h3v4h-3zM1004 1280h3v4h-3zM641 1284h3v5h-3zM671 1284h3v5h-3zM695 1284h3v5h-3zM710 1284h3v5h-3zM722 1284h3v5h-3zM737 1284h3v5h-3zM755 1284h3v5h-3zM770 1284h3v5h-3zM797 1284h3v5h-3zM809 1284h3v5h-3zM821 1284h3v5h-3zM842 1284h3v5h-3zM863 1284h3v5h-3zM890 1284h3v5h-3zM905 1284h3v5h-3zM653 1289h3v4h-3zM785 1289h3v4h-3zM875 1289h3v4h-3zM929 1289h3v4h-3zM713 1293h3v4h-3zM782 1293h3v4h-3zM854 1293h3v4h-3zM872 1293h3v4h-3zM884 1293h3v4h-3zM899 1293h3v4h-3zM938 1293h3v4h-3zM944 1293h3v4h-3zM956 1293h3v4h-3zM965 1293h3v4h-3zM743 1297h3v4h-3zM749 1297h3v4h-3zM815 1297h3v4h-3zM824 1297h3v4h-3zM914 1297h3v4h-3zM935 1297h3v4h-3zM956 1297h3v4h-3zM665 1301h3v4h-3zM701 1301h3v4h-3zM734 1301h3v4h-3zM815 1301h3v4h-3zM827 1301h3v4h-3zM839 1301h3v4h-3zM878 1301h3v4h-3zM893 1301h3v4h-3zM914 1301h3v4h-3zM923 1301h3v4h-3zM932 1301h6v4h-6zM653 1305h3v4h-3zM671 1305h3v4h-3zM695 1305h3v4h-3zM734 1305h3v4h-3zM749 1305h3v4h-3zM809 1305h3v4h-3zM815 1305h3v4h-3zM824 1305h3v4h-3zM842 1305h3v4h-3zM878 1305h3v4h-3zM914 1305h3v4h-3zM923 1305h3v4h-3zM947 1305h3v4h-3zM647 1309h3v4h-3zM662 1309h3v4h-3zM716 1309h3v4h-3zM722 1309h3v4h-3zM731 1309h3v4h-3zM740 1309h3v4h-3zM746 1309h3v4h-3zM752 1309h6v4h-6zM767 1309h6v4h-6zM788 1309h3v4h-3zM800 1309h3v4h-3zM806 1309h3v4h-3zM836 1309h3v4h-3zM863 1309h9v4h-9zM890 1309h3v4h-3zM905 1309h3v4h-3zM920 1309h3v4h-3zM938 1309h3v4h-3z"/>
</g>
</g></g>
<rect x="317.4" y="180" width="202.6" height="1" fill="#fff"/>
<rect x="317.4" y="147" width="202.6" height="0.7" fill="#ffffff" fill-opacity="0.3"/>
<rect x="317.4" y="235" width="202.6" height="0.7" fill="#ffffff" fill-opacity="0.35"/>
<rect x="92.0" y="79.2" width="428.0" height="167.39999999999998" fill="none" stroke="#000" stroke-width="1.5"/>
<line x1="92.00" y1="246.6" x2="92.00" y2="242.4" stroke="#000" stroke-width="1"/>
<line x1="92.00" y1="79.2" x2="92.00" y2="83.4" stroke="#000" stroke-width="1"/>
<line x1="127.67" y1="246.6" x2="127.67" y2="244.4" stroke="#000" stroke-width="1"/>
<line x1="127.67" y1="79.2" x2="127.67" y2="81.4" stroke="#000" stroke-width="1"/>
<line x1="163.33" y1="246.6" x2="163.33" y2="244.4" stroke="#000" stroke-width="1"/>
<line x1="163.33" y1="79.2" x2="163.33" y2="81.4" stroke="#000" stroke-width="1"/>
<line x1="199.00" y1="246.6" x2="199.00" y2="242.4" stroke="#000" stroke-width="1"/>
<line x1="199.00" y1="79.2" x2="199.00" y2="83.4" stroke="#000" stroke-width="1"/>
<line x1="234.67" y1="246.6" x2="234.67" y2="244.4" stroke="#000" stroke-width="1"/>
<line x1="234.67" y1="79.2" x2="234.67" y2="81.4" stroke="#000" stroke-width="1"/>
<line x1="270.33" y1="246.6" x2="270.33" y2="244.4" stroke="#000" stroke-width="1"/>
<line x1="270.33" y1="79.2" x2="270.33" y2="81.4" stroke="#000" stroke-width="1"/>
<line x1="306.00" y1="246.6" x2="306.00" y2="242.4" stroke="#000" stroke-width="1"/>
<line x1="306.00" y1="79.2" x2="306.00" y2="83.4" stroke="#000" stroke-width="1"/>
<line x1="341.67" y1="246.6" x2="341.67" y2="244.4" stroke="#000" stroke-width="1"/>
<line x1="341.67" y1="79.2" x2="341.67" y2="81.4" stroke="#000" stroke-width="1"/>
<line x1="377.33" y1="246.6" x2="377.33" y2="244.4" stroke="#000" stroke-width="1"/>
<line x1="377.33" y1="79.2" x2="377.33" y2="81.4" stroke="#000" stroke-width="1"/>
<line x1="413.00" y1="246.6" x2="413.00" y2="242.4" stroke="#000" stroke-width="1"/>
<line x1="413.00" y1="79.2" x2="413.00" y2="83.4" stroke="#000" stroke-width="1"/>
<line x1="448.67" y1="246.6" x2="448.67" y2="244.4" stroke="#000" stroke-width="1"/>
<line x1="448.67" y1="79.2" x2="448.67" y2="81.4" stroke="#000" stroke-width="1"/>
<line x1="484.33" y1="246.6" x2="484.33" y2="244.4" stroke="#000" stroke-width="1"/>
<line x1="484.33" y1="79.2" x2="484.33" y2="81.4" stroke="#000" stroke-width="1"/>
<line x1="520.00" y1="246.6" x2="520.00" y2="242.4" stroke="#000" stroke-width="1"/>
<line x1="520.00" y1="79.2" x2="520.00" y2="83.4" stroke="#000" stroke-width="1"/>
<line x1="92.0" y1="228.80" x2="101.0" y2="228.80" stroke="#000" stroke-width="1.2"/>
<line x1="520.0" y1="228.80" x2="511.0" y2="228.80" stroke="#000" stroke-width="1.2"/>
<line x1="92.0" y1="184.60" x2="101.0" y2="184.60" stroke="#000" stroke-width="1.2"/>
<line x1="520.0" y1="184.60" x2="511.0" y2="184.60" stroke="#000" stroke-width="1.2"/>
<line x1="92.0" y1="140.40" x2="101.0" y2="140.40" stroke="#000" stroke-width="1.2"/>
<line x1="520.0" y1="140.40" x2="511.0" y2="140.40" stroke="#000" stroke-width="1.2"/>
<line x1="92.0" y1="96.20" x2="101.0" y2="96.20" stroke="#000" stroke-width="1.2"/>
<line x1="520.0" y1="96.20" x2="511.0" y2="96.20" stroke="#000" stroke-width="1.2"/>
<line x1="92.0" y1="239.85" x2="96.5" y2="239.85" stroke="#000" stroke-width="1.2"/>
<line x1="520.0" y1="239.85" x2="515.5" y2="239.85" stroke="#000" stroke-width="1.2"/>
<line x1="92.0" y1="217.75" x2="96.5" y2="217.75" stroke="#000" stroke-width="1.2"/>
<line x1="520.0" y1="217.75" x2="515.5" y2="217.75" stroke="#000" stroke-width="1.2"/>
<line x1="92.0" y1="206.70" x2="96.5" y2="206.70" stroke="#000" stroke-width="1.2"/>
<line x1="520.0" y1="206.70" x2="515.5" y2="206.70" stroke="#000" stroke-width="1.2"/>
<line x1="92.0" y1="195.65" x2="96.5" y2="195.65" stroke="#000" stroke-width="1.2"/>
<line x1="520.0" y1="195.65" x2="515.5" y2="195.65" stroke="#000" stroke-width="1.2"/>
<line x1="92.0" y1="173.55" x2="96.5" y2="173.55" stroke="#000" stroke-width="1.2"/>
<line x1="520.0" y1="173.55" x2="515.5" y2="173.55" stroke="#000" stroke-width="1.2"/>
<line x1="92.0" y1="162.50" x2="96.5" y2="162.50" stroke="#000" stroke-width="1.2"/>
<line x1="520.0" y1="162.50" x2="515.5" y2="162.50" stroke="#000" stroke-width="1.2"/>
<line x1="92.0" y1="151.45" x2="96.5" y2="151.45" stroke="#000" stroke-width="1.2"/>
<line x1="520.0" y1="151.45" x2="515.5" y2="151.45" stroke="#000" stroke-width="1.2"/>
<line x1="92.0" y1="129.35" x2="96.5" y2="129.35" stroke="#000" stroke-width="1.2"/>
<line x1="520.0" y1="129.35" x2="515.5" y2="129.35" stroke="#000" stroke-width="1.2"/>
<line x1="92.0" y1="118.30" x2="96.5" y2="118.30" stroke="#000" stroke-width="1.2"/>
<line x1="520.0" y1="118.30" x2="515.5" y2="118.30" stroke="#000" stroke-width="1.2"/>
<line x1="92.0" y1="107.25" x2="96.5" y2="107.25" stroke="#000" stroke-width="1.2"/>
<line x1="520.0" y1="107.25" x2="515.5" y2="107.25" stroke="#000" stroke-width="1.2"/>
<line x1="92.0" y1="85.15" x2="96.5" y2="85.15" stroke="#000" stroke-width="1.2"/>
<line x1="520.0" y1="85.15" x2="515.5" y2="85.15" stroke="#000" stroke-width="1.2"/>
<text x="88.6" y="233.30" font-size="11.8" text-anchor="end" font-family="Liberation Sans, sans-serif" stroke="#000" stroke-width="0.2">200</text>
<text x="88.6" y="189.10" font-size="11.8" text-anchor="end" font-family="Liberation Sans, sans-serif" stroke="#000" stroke-width="0.2">400</text>
<text x="88.6" y="144.90" font-size="11.8" text-anchor="end" font-family="Liberation Sans, sans-serif" stroke="#000" stroke-width="0.2">600</text>
<text x="88.6" y="100.70" font-size="11.8" text-anchor="end" font-family="Liberation Sans, sans-serif" stroke="#000" stroke-width="0.2">800</text>
<rect x="92.0" y="246.4" width="428.0" height="83.9" fill="none" stroke="#000" stroke-width="1.5"/>
<line x1="92.00" y1="330.3" x2="92.00" y2="326.1" stroke="#000" stroke-width="1"/>
<line x1="92.00" y1="246.4" x2="92.00" y2="250.6" stroke="#000" stroke-width="1"/>
<line x1="127.67" y1="330.3" x2="127.67" y2="328.1" stroke="#000" stroke-width="1"/>
<line x1="127.67" y1="246.4" x2="127.67" y2="248.6" stroke="#000" stroke-width="1"/>
<line x1="163.33" y1="330.3" x2="163.33" y2="328.1" stroke="#000" stroke-width="1"/>
<line x1="163.33" y1="246.4" x2="163.33" y2="248.6" stroke="#000" stroke-width="1"/>
<line x1="199.00" y1="330.3" x2="199.00" y2="326.1" stroke="#000" stroke-width="1"/>
<line x1="199.00" y1="246.4" x2="199.00" y2="250.6" stroke="#000" stroke-width="1"/>
<line x1="234.67" y1="330.3" x2="234.67" y2="328.1" stroke="#000" stroke-width="1"/>
<line x1="234.67" y1="246.4" x2="234.67" y2="248.6" stroke="#000" stroke-width="1"/>
<line x1="270.33" y1="330.3" x2="270.33" y2="328.1" stroke="#000" stroke-width="1"/>
<line x1="270.33" y1="246.4" x2="270.33" y2="248.6" stroke="#000" stroke-width="1"/>
<line x1="306.00" y1="330.3" x2="306.00" y2="326.1" stroke="#000" stroke-width="1"/>
<line x1="306.00" y1="246.4" x2="306.00" y2="250.6" stroke="#000" stroke-width="1"/>
<line x1="341.67" y1="330.3" x2="341.67" y2="328.1" stroke="#000" stroke-width="1"/>
<line x1="341.67" y1="246.4" x2="341.67" y2="248.6" stroke="#000" stroke-width="1"/>
<line x1="377.33" y1="330.3" x2="377.33" y2="328.1" stroke="#000" stroke-width="1"/>
<line x1="377.33" y1="246.4" x2="377.33" y2="248.6" stroke="#000" stroke-width="1"/>
<line x1="413.00" y1="330.3" x2="413.00" y2="326.1" stroke="#000" stroke-width="1"/>
<line x1="413.00" y1="246.4" x2="413.00" y2="250.6" stroke="#000" stroke-width="1"/>
<line x1="448.67" y1="330.3" x2="448.67" y2="328.1" stroke="#000" stroke-width="1"/>
<line x1="448.67" y1="246.4" x2="448.67" y2="248.6" stroke="#000" stroke-width="1"/>
<line x1="484.33" y1="330.3" x2="484.33" y2="328.1" stroke="#000" stroke-width="1"/>
<line x1="484.33" y1="246.4" x2="484.33" y2="248.6" stroke="#000" stroke-width="1"/>
<line x1="520.00" y1="330.3" x2="520.00" y2="326.1" stroke="#000" stroke-width="1"/>
<line x1="520.00" y1="246.4" x2="520.00" y2="250.6" stroke="#000" stroke-width="1"/>
<line x1="92.0" y1="325.70" x2="101.0" y2="325.70" stroke="#000" stroke-width="1.2"/>
<line x1="520.0" y1="325.70" x2="511.0" y2="325.70" stroke="#000" stroke-width="1.2"/>
<line x1="92.0" y1="307.10" x2="101.0" y2="307.10" stroke="#000" stroke-width="1.2"/>
<line x1="520.0" y1="307.10" x2="511.0" y2="307.10" stroke="#000" stroke-width="1.2"/>
<line x1="92.0" y1="288.50" x2="101.0" y2="288.50" stroke="#000" stroke-width="1.2"/>
<line x1="520.0" y1="288.50" x2="511.0" y2="288.50" stroke="#000" stroke-width="1.2"/>
<line x1="92.0" y1="269.90" x2="101.0" y2="269.90" stroke="#000" stroke-width="1.2"/>
<line x1="520.0" y1="269.90" x2="511.0" y2="269.90" stroke="#000" stroke-width="1.2"/>
<line x1="92.0" y1="251.30" x2="101.0" y2="251.30" stroke="#000" stroke-width="1.2"/>
<line x1="520.0" y1="251.30" x2="511.0" y2="251.30" stroke="#000" stroke-width="1.2"/>
<line x1="92.0" y1="321.05" x2="96.5" y2="321.05" stroke="#000" stroke-width="1.2"/>
<line x1="520.0" y1="321.05" x2="515.5" y2="321.05" stroke="#000" stroke-width="1.2"/>
<line x1="92.0" y1="316.40" x2="96.5" y2="316.40" stroke="#000" stroke-width="1.2"/>
<line x1="520.0" y1="316.40" x2="515.5" y2="316.40" stroke="#000" stroke-width="1.2"/>
<line x1="92.0" y1="311.75" x2="96.5" y2="311.75" stroke="#000" stroke-width="1.2"/>
<line x1="520.0" y1="311.75" x2="515.5" y2="311.75" stroke="#000" stroke-width="1.2"/>
<line x1="92.0" y1="302.45" x2="96.5" y2="302.45" stroke="#000" stroke-width="1.2"/>
<line x1="520.0" y1="302.45" x2="515.5" y2="302.45" stroke="#000" stroke-width="1.2"/>
<line x1="92.0" y1="297.80" x2="96.5" y2="297.80" stroke="#000" stroke-width="1.2"/>
<line x1="520.0" y1="297.80" x2="515.5" y2="297.80" stroke="#000" stroke-width="1.2"/>
<line x1="92.0" y1="293.15" x2="96.5" y2="293.15" stroke="#000" stroke-width="1.2"/>
<line x1="520.0" y1="293.15" x2="515.5" y2="293.15" stroke="#000" stroke-width="1.2"/>
<line x1="92.0" y1="283.85" x2="96.5" y2="283.85" stroke="#000" stroke-width="1.2"/>
<line x1="520.0" y1="283.85" x2="515.5" y2="283.85" stroke="#000" stroke-width="1.2"/>
<line x1="92.0" y1="279.20" x2="96.5" y2="279.20" stroke="#000" stroke-width="1.2"/>
<line x1="520.0" y1="279.20" x2="515.5" y2="279.20" stroke="#000" stroke-width="1.2"/>
<line x1="92.0" y1="274.55" x2="96.5" y2="274.55" stroke="#000" stroke-width="1.2"/>
<line x1="520.0" y1="274.55" x2="515.5" y2="274.55" stroke="#000" stroke-width="1.2"/>
<line x1="92.0" y1="265.25" x2="96.5" y2="265.25" stroke="#000" stroke-width="1.2"/>
<line x1="520.0" y1="265.25" x2="515.5" y2="265.25" stroke="#000" stroke-width="1.2"/>
<line x1="92.0" y1="260.60" x2="96.5" y2="260.60" stroke="#000" stroke-width="1.2"/>
<line x1="520.0" y1="260.60" x2="515.5" y2="260.60" stroke="#000" stroke-width="1.2"/>
<line x1="92.0" y1="255.95" x2="96.5" y2="255.95" stroke="#000" stroke-width="1.2"/>
<line x1="520.0" y1="255.95" x2="515.5" y2="255.95" stroke="#000" stroke-width="1.2"/>
<line x1="92.0" y1="288.5" x2="520.0" y2="288.5" stroke="#000" stroke-width="1.3"/>
<text x="88.6" y="255.80" font-size="11.8" text-anchor="end" font-family="Liberation Sans, sans-serif" stroke="#000" stroke-width="0.2">40</text>
<text x="88.6" y="274.40" font-size="11.8" text-anchor="end" font-family="Liberation Sans, sans-serif" stroke="#000" stroke-width="0.2">20</text>
<text x="88.6" y="293.00" font-size="11.8" text-anchor="end" font-family="Liberation Sans, sans-serif" stroke="#000" stroke-width="0.2">0</text>
<text x="88.6" y="311.60" font-size="11.8" text-anchor="end" font-family="Liberation Sans, sans-serif" stroke="#000" stroke-width="0.2">−20</text>
<text x="88.6" y="330.20" font-size="11.8" text-anchor="end" font-family="Liberation Sans, sans-serif" stroke="#000" stroke-width="0.2">−40</text>
<rect x="92.0" y="338.3" width="428.0" height="83.30000000000001" fill="none" stroke="#000" stroke-width="1.5"/>
<line x1="92.00" y1="421.6" x2="92.00" y2="417.40000000000003" stroke="#000" stroke-width="1"/>
<line x1="92.00" y1="338.3" x2="92.00" y2="342.5" stroke="#000" stroke-width="1"/>
<line x1="127.67" y1="421.6" x2="127.67" y2="419.40000000000003" stroke="#000" stroke-width="1"/>
<line x1="127.67" y1="338.3" x2="127.67" y2="340.5" stroke="#000" stroke-width="1"/>
<line x1="163.33" y1="421.6" x2="163.33" y2="419.40000000000003" stroke="#000" stroke-width="1"/>
<line x1="163.33" y1="338.3" x2="163.33" y2="340.5" stroke="#000" stroke-width="1"/>
<line x1="199.00" y1="421.6" x2="199.00" y2="417.40000000000003" stroke="#000" stroke-width="1"/>
<line x1="199.00" y1="338.3" x2="199.00" y2="342.5" stroke="#000" stroke-width="1"/>
<line x1="234.67" y1="421.6" x2="234.67" y2="419.40000000000003" stroke="#000" stroke-width="1"/>
<line x1="234.67" y1="338.3" x2="234.67" y2="340.5" stroke="#000" stroke-width="1"/>
<line x1="270.33" y1="421.6" x2="270.33" y2="419.40000000000003" stroke="#000" stroke-width="1"/>
<line x1="270.33" y1="338.3" x2="270.33" y2="340.5" stroke="#000" stroke-width="1"/>
<line x1="306.00" y1="421.6" x2="306.00" y2="417.40000000000003" stroke="#000" stroke-width="1"/>
<line x1="306.00" y1="338.3" x2="306.00" y2="342.5" stroke="#000" stroke-width="1"/>
<line x1="341.67" y1="421.6" x2="341.67" y2="419.40000000000003" stroke="#000" stroke-width="1"/>
<line x1="341.67" y1="338.3" x2="341.67" y2="340.5" stroke="#000" stroke-width="1"/>
<line x1="377.33" y1="421.6" x2="377.33" y2="419.40000000000003" stroke="#000" stroke-width="1"/>
<line x1="377.33" y1="338.3" x2="377.33" y2="340.5" stroke="#000" stroke-width="1"/>
<line x1="413.00" y1="421.6" x2="413.00" y2="417.40000000000003" stroke="#000" stroke-width="1"/>
<line x1="413.00" y1="338.3" x2="413.00" y2="342.5" stroke="#000" stroke-width="1"/>
<line x1="448.67" y1="421.6" x2="448.67" y2="419.40000000000003" stroke="#000" stroke-width="1"/>
<line x1="448.67" y1="338.3" x2="448.67" y2="340.5" stroke="#000" stroke-width="1"/>
<line x1="484.33" y1="421.6" x2="484.33" y2="419.40000000000003" stroke="#000" stroke-width="1"/>
<line x1="484.33" y1="338.3" x2="484.33" y2="340.5" stroke="#000" stroke-width="1"/>
<line x1="520.00" y1="421.6" x2="520.00" y2="417.40000000000003" stroke="#000" stroke-width="1"/>
<line x1="520.00" y1="338.3" x2="520.00" y2="342.5" stroke="#000" stroke-width="1"/>
<line x1="92.0" y1="412.80" x2="101.0" y2="412.80" stroke="#000" stroke-width="1.2"/>
<line x1="520.0" y1="412.80" x2="511.0" y2="412.80" stroke="#000" stroke-width="1.2"/>
<line x1="92.0" y1="390.70" x2="101.0" y2="390.70" stroke="#000" stroke-width="1.2"/>
<line x1="520.0" y1="390.70" x2="511.0" y2="390.70" stroke="#000" stroke-width="1.2"/>
<line x1="92.0" y1="368.60" x2="101.0" y2="368.60" stroke="#000" stroke-width="1.2"/>
<line x1="520.0" y1="368.60" x2="511.0" y2="368.60" stroke="#000" stroke-width="1.2"/>
<line x1="92.0" y1="346.50" x2="101.0" y2="346.50" stroke="#000" stroke-width="1.2"/>
<line x1="520.0" y1="346.50" x2="511.0" y2="346.50" stroke="#000" stroke-width="1.2"/>
<line x1="92.0" y1="418.32" x2="96.5" y2="418.32" stroke="#000" stroke-width="1.2"/>
<line x1="520.0" y1="418.32" x2="515.5" y2="418.32" stroke="#000" stroke-width="1.2"/>
<line x1="92.0" y1="407.28" x2="96.5" y2="407.28" stroke="#000" stroke-width="1.2"/>
<line x1="520.0" y1="407.28" x2="515.5" y2="407.28" stroke="#000" stroke-width="1.2"/>
<line x1="92.0" y1="401.75" x2="96.5" y2="401.75" stroke="#000" stroke-width="1.2"/>
<line x1="520.0" y1="401.75" x2="515.5" y2="401.75" stroke="#000" stroke-width="1.2"/>
<line x1="92.0" y1="396.23" x2="96.5" y2="396.23" stroke="#000" stroke-width="1.2"/>
<line x1="520.0" y1="396.23" x2="515.5" y2="396.23" stroke="#000" stroke-width="1.2"/>
<line x1="92.0" y1="385.18" x2="96.5" y2="385.18" stroke="#000" stroke-width="1.2"/>
<line x1="520.0" y1="385.18" x2="515.5" y2="385.18" stroke="#000" stroke-width="1.2"/>
<line x1="92.0" y1="379.65" x2="96.5" y2="379.65" stroke="#000" stroke-width="1.2"/>
<line x1="520.0" y1="379.65" x2="515.5" y2="379.65" stroke="#000" stroke-width="1.2"/>
<line x1="92.0" y1="374.12" x2="96.5" y2="374.12" stroke="#000" stroke-width="1.2"/>
<line x1="520.0" y1="374.12" x2="515.5" y2="374.12" stroke="#000" stroke-width="1.2"/>
<line x1="92.0" y1="363.07" x2="96.5" y2="363.07" stroke="#000" stroke-width="1.2"/>
<line x1="520.0" y1="363.07" x2="515.5" y2="363.07" stroke="#000" stroke-width="1.2"/>
<line x1="92.0" y1="357.55" x2="96.5" y2="357.55" stroke="#000" stroke-width="1.2"/>
<line x1="520.0" y1="357.55" x2="515.5" y2="357.55" stroke="#000" stroke-width="1.2"/>
<line x1="92.0" y1="352.03" x2="96.5" y2="352.03" stroke="#000" stroke-width="1.2"/>
<line x1="520.0" y1="352.03" x2="515.5" y2="352.03" stroke="#000" stroke-width="1.2"/>
<line x1="92.0" y1="340.98" x2="96.5" y2="340.98" stroke="#000" stroke-width="1.2"/>
<line x1="520.0" y1="340.98" x2="515.5" y2="340.98" stroke="#000" stroke-width="1.2"/>
<text x="88.6" y="417.30" font-size="11.8" text-anchor="end" font-family="Liberation Sans, sans-serif" stroke="#000" stroke-width="0.2">200</text>
<text x="88.6" y="395.20" font-size="11.8" text-anchor="end" font-family="Liberation Sans, sans-serif" stroke="#000" stroke-width="0.2">400</text>
<text x="88.6" y="373.10" font-size="11.8" text-anchor="end" font-family="Liberation Sans, sans-serif" stroke="#000" stroke-width="0.2">600</text>
<text x="88.6" y="351.00" font-size="11.8" text-anchor="end" font-family="Liberation Sans, sans-serif" stroke="#000" stroke-width="0.2">800</text>
<rect x="92.0" y="421.8" width="428.0" height="83.59999999999997" fill="none" stroke="#000" stroke-width="1.5"/>
<line x1="92.00" y1="505.4" x2="92.00" y2="501.2" stroke="#000" stroke-width="1"/>
<line x1="92.00" y1="421.8" x2="92.00" y2="426.0" stroke="#000" stroke-width="1"/>
<line x1="127.67" y1="505.4" x2="127.67" y2="503.2" stroke="#000" stroke-width="1"/>
<line x1="127.67" y1="421.8" x2="127.67" y2="424.0" stroke="#000" stroke-width="1"/>
<line x1="163.33" y1="505.4" x2="163.33" y2="503.2" stroke="#000" stroke-width="1"/>
<line x1="163.33" y1="421.8" x2="163.33" y2="424.0" stroke="#000" stroke-width="1"/>
<line x1="199.00" y1="505.4" x2="199.00" y2="501.2" stroke="#000" stroke-width="1"/>
<line x1="199.00" y1="421.8" x2="199.00" y2="426.0" stroke="#000" stroke-width="1"/>
<line x1="234.67" y1="505.4" x2="234.67" y2="503.2" stroke="#000" stroke-width="1"/>
<line x1="234.67" y1="421.8" x2="234.67" y2="424.0" stroke="#000" stroke-width="1"/>
<line x1="270.33" y1="505.4" x2="270.33" y2="503.2" stroke="#000" stroke-width="1"/>
<line x1="270.33" y1="421.8" x2="270.33" y2="424.0" stroke="#000" stroke-width="1"/>
<line x1="306.00" y1="505.4" x2="306.00" y2="501.2" stroke="#000" stroke-width="1"/>
<line x1="306.00" y1="421.8" x2="306.00" y2="426.0" stroke="#000" stroke-width="1"/>
<line x1="341.67" y1="505.4" x2="341.67" y2="503.2" stroke="#000" stroke-width="1"/>
<line x1="341.67" y1="421.8" x2="341.67" y2="424.0" stroke="#000" stroke-width="1"/>
<line x1="377.33" y1="505.4" x2="377.33" y2="503.2" stroke="#000" stroke-width="1"/>
<line x1="377.33" y1="421.8" x2="377.33" y2="424.0" stroke="#000" stroke-width="1"/>
<line x1="413.00" y1="505.4" x2="413.00" y2="501.2" stroke="#000" stroke-width="1"/>
<line x1="413.00" y1="421.8" x2="413.00" y2="426.0" stroke="#000" stroke-width="1"/>
<line x1="448.67" y1="505.4" x2="448.67" y2="503.2" stroke="#000" stroke-width="1"/>
<line x1="448.67" y1="421.8" x2="448.67" y2="424.0" stroke="#000" stroke-width="1"/>
<line x1="484.33" y1="505.4" x2="484.33" y2="503.2" stroke="#000" stroke-width="1"/>
<line x1="484.33" y1="421.8" x2="484.33" y2="424.0" stroke="#000" stroke-width="1"/>
<line x1="520.00" y1="505.4" x2="520.00" y2="501.2" stroke="#000" stroke-width="1"/>
<line x1="520.00" y1="421.8" x2="520.00" y2="426.0" stroke="#000" stroke-width="1"/>
<line x1="92.0" y1="496.20" x2="101.0" y2="496.20" stroke="#000" stroke-width="1.2"/>
<line x1="520.0" y1="496.20" x2="511.0" y2="496.20" stroke="#000" stroke-width="1.2"/>
<line x1="92.0" y1="474.10" x2="101.0" y2="474.10" stroke="#000" stroke-width="1.2"/>
<line x1="520.0" y1="474.10" x2="511.0" y2="474.10" stroke="#000" stroke-width="1.2"/>
<line x1="92.0" y1="452.00" x2="101.0" y2="452.00" stroke="#000" stroke-width="1.2"/>
<line x1="520.0" y1="452.00" x2="511.0" y2="452.00" stroke="#000" stroke-width="1.2"/>
<line x1="92.0" y1="429.90" x2="101.0" y2="429.90" stroke="#000" stroke-width="1.2"/>
<line x1="520.0" y1="429.90" x2="511.0" y2="429.90" stroke="#000" stroke-width="1.2"/>
<line x1="92.0" y1="501.72" x2="96.5" y2="501.72" stroke="#000" stroke-width="1.2"/>
<line x1="520.0" y1="501.72" x2="515.5" y2="501.72" stroke="#000" stroke-width="1.2"/>
<line x1="92.0" y1="490.68" x2="96.5" y2="490.68" stroke="#000" stroke-width="1.2"/>
<line x1="520.0" y1="490.68" x2="515.5" y2="490.68" stroke="#000" stroke-width="1.2"/>
<line x1="92.0" y1="485.15" x2="96.5" y2="485.15" stroke="#000" stroke-width="1.2"/>
<line x1="520.0" y1="485.15" x2="515.5" y2="485.15" stroke="#000" stroke-width="1.2"/>
<line x1="92.0" y1="479.62" x2="96.5" y2="479.62" stroke="#000" stroke-width="1.2"/>
<line x1="520.0" y1="479.62" x2="515.5" y2="479.62" stroke="#000" stroke-width="1.2"/>
<line x1="92.0" y1="468.57" x2="96.5" y2="468.57" stroke="#000" stroke-width="1.2"/>
<line x1="520.0" y1="468.57" x2="515.5" y2="468.57" stroke="#000" stroke-width="1.2"/>
<line x1="92.0" y1="463.05" x2="96.5" y2="463.05" stroke="#000" stroke-width="1.2"/>
<line x1="520.0" y1="463.05" x2="515.5" y2="463.05" stroke="#000" stroke-width="1.2"/>
<line x1="92.0" y1="457.52" x2="96.5" y2="457.52" stroke="#000" stroke-width="1.2"/>
<line x1="520.0" y1="457.52" x2="515.5" y2="457.52" stroke="#000" stroke-width="1.2"/>
<line x1="92.0" y1="446.47" x2="96.5" y2="446.47" stroke="#000" stroke-width="1.2"/>
<line x1="520.0" y1="446.47" x2="515.5" y2="446.47" stroke="#000" stroke-width="1.2"/>
<line x1="92.0" y1="440.95" x2="96.5" y2="440.95" stroke="#000" stroke-width="1.2"/>
<line x1="520.0" y1="440.95" x2="515.5" y2="440.95" stroke="#000" stroke-width="1.2"/>
<line x1="92.0" y1="435.43" x2="96.5" y2="435.43" stroke="#000" stroke-width="1.2"/>
<line x1="520.0" y1="435.43" x2="515.5" y2="435.43" stroke="#000" stroke-width="1.2"/>
<line x1="92.0" y1="424.38" x2="96.5" y2="424.38" stroke="#000" stroke-width="1.2"/>
<line x1="520.0" y1="424.38" x2="515.5" y2="424.38" stroke="#000" stroke-width="1.2"/>
<text x="88.6" y="500.70" font-size="11.8" text-anchor="end" font-family="Liberation Sans, sans-serif" stroke="#000" stroke-width="0.2">200</text>
<text x="88.6" y="478.60" font-size="11.8" text-anchor="end" font-family="Liberation Sans, sans-serif" stroke="#000" stroke-width="0.2">400</text>
<text x="88.6" y="456.50" font-size="11.8" text-anchor="end" font-family="Liberation Sans, sans-serif" stroke="#000" stroke-width="0.2">600</text>
<text x="88.6" y="434.40" font-size="11.8" text-anchor="end" font-family="Liberation Sans, sans-serif" stroke="#000" stroke-width="0.2">800</text>
<rect x="92.0" y="505.4" width="428.0" height="83.89999999999998" fill="none" stroke="#000" stroke-width="1.5"/>
<line x1="92.00" y1="589.3" x2="92.00" y2="585.0999999999999" stroke="#000" stroke-width="1"/>
<line x1="92.00" y1="505.4" x2="92.00" y2="509.59999999999997" stroke="#000" stroke-width="1"/>
<line x1="127.67" y1="589.3" x2="127.67" y2="587.0999999999999" stroke="#000" stroke-width="1"/>
<line x1="127.67" y1="505.4" x2="127.67" y2="507.59999999999997" stroke="#000" stroke-width="1"/>
<line x1="163.33" y1="589.3" x2="163.33" y2="587.0999999999999" stroke="#000" stroke-width="1"/>
<line x1="163.33" y1="505.4" x2="163.33" y2="507.59999999999997" stroke="#000" stroke-width="1"/>
<line x1="199.00" y1="589.3" x2="199.00" y2="585.0999999999999" stroke="#000" stroke-width="1"/>
<line x1="199.00" y1="505.4" x2="199.00" y2="509.59999999999997" stroke="#000" stroke-width="1"/>
<line x1="234.67" y1="589.3" x2="234.67" y2="587.0999999999999" stroke="#000" stroke-width="1"/>
<line x1="234.67" y1="505.4" x2="234.67" y2="507.59999999999997" stroke="#000" stroke-width="1"/>
<line x1="270.33" y1="589.3" x2="270.33" y2="587.0999999999999" stroke="#000" stroke-width="1"/>
<line x1="270.33" y1="505.4" x2="270.33" y2="507.59999999999997" stroke="#000" stroke-width="1"/>
<line x1="306.00" y1="589.3" x2="306.00" y2="585.0999999999999" stroke="#000" stroke-width="1"/>
<line x1="306.00" y1="505.4" x2="306.00" y2="509.59999999999997" stroke="#000" stroke-width="1"/>
<line x1="341.67" y1="589.3" x2="341.67" y2="587.0999999999999" stroke="#000" stroke-width="1"/>
<line x1="341.67" y1="505.4" x2="341.67" y2="507.59999999999997" stroke="#000" stroke-width="1"/>
<line x1="377.33" y1="589.3" x2="377.33" y2="587.0999999999999" stroke="#000" stroke-width="1"/>
<line x1="377.33" y1="505.4" x2="377.33" y2="507.59999999999997" stroke="#000" stroke-width="1"/>
<line x1="413.00" y1="589.3" x2="413.00" y2="585.0999999999999" stroke="#000" stroke-width="1"/>
<line x1="413.00" y1="505.4" x2="413.00" y2="509.59999999999997" stroke="#000" stroke-width="1"/>
<line x1="448.67" y1="589.3" x2="448.67" y2="587.0999999999999" stroke="#000" stroke-width="1"/>
<line x1="448.67" y1="505.4" x2="448.67" y2="507.59999999999997" stroke="#000" stroke-width="1"/>
<line x1="484.33" y1="589.3" x2="484.33" y2="587.0999999999999" stroke="#000" stroke-width="1"/>
<line x1="484.33" y1="505.4" x2="484.33" y2="507.59999999999997" stroke="#000" stroke-width="1"/>
<line x1="520.00" y1="589.3" x2="520.00" y2="585.0999999999999" stroke="#000" stroke-width="1"/>
<line x1="520.00" y1="505.4" x2="520.00" y2="509.59999999999997" stroke="#000" stroke-width="1"/>
<line x1="92.0" y1="580.20" x2="101.0" y2="580.20" stroke="#000" stroke-width="1.2"/>
<line x1="520.0" y1="580.20" x2="511.0" y2="580.20" stroke="#000" stroke-width="1.2"/>
<line x1="92.0" y1="558.10" x2="101.0" y2="558.10" stroke="#000" stroke-width="1.2"/>
<line x1="520.0" y1="558.10" x2="511.0" y2="558.10" stroke="#000" stroke-width="1.2"/>
<line x1="92.0" y1="536.00" x2="101.0" y2="536.00" stroke="#000" stroke-width="1.2"/>
<line x1="520.0" y1="536.00" x2="511.0" y2="536.00" stroke="#000" stroke-width="1.2"/>
<line x1="92.0" y1="513.90" x2="101.0" y2="513.90" stroke="#000" stroke-width="1.2"/>
<line x1="520.0" y1="513.90" x2="511.0" y2="513.90" stroke="#000" stroke-width="1.2"/>
<line x1="92.0" y1="585.73" x2="96.5" y2="585.73" stroke="#000" stroke-width="1.2"/>
<line x1="520.0" y1="585.73" x2="515.5" y2="585.73" stroke="#000" stroke-width="1.2"/>
<line x1="92.0" y1="574.68" x2="96.5" y2="574.68" stroke="#000" stroke-width="1.2"/>
<line x1="520.0" y1="574.68" x2="515.5" y2="574.68" stroke="#000" stroke-width="1.2"/>
<line x1="92.0" y1="569.15" x2="96.5" y2="569.15" stroke="#000" stroke-width="1.2"/>
<line x1="520.0" y1="569.15" x2="515.5" y2="569.15" stroke="#000" stroke-width="1.2"/>
<line x1="92.0" y1="563.62" x2="96.5" y2="563.62" stroke="#000" stroke-width="1.2"/>
<line x1="520.0" y1="563.62" x2="515.5" y2="563.62" stroke="#000" stroke-width="1.2"/>
<line x1="92.0" y1="552.58" x2="96.5" y2="552.58" stroke="#000" stroke-width="1.2"/>
<line x1="520.0" y1="552.58" x2="515.5" y2="552.58" stroke="#000" stroke-width="1.2"/>
<line x1="92.0" y1="547.05" x2="96.5" y2="547.05" stroke="#000" stroke-width="1.2"/>
<line x1="520.0" y1="547.05" x2="515.5" y2="547.05" stroke="#000" stroke-width="1.2"/>
<line x1="92.0" y1="541.53" x2="96.5" y2="541.53" stroke="#000" stroke-width="1.2"/>
<line x1="520.0" y1="541.53" x2="515.5" y2="541.53" stroke="#000" stroke-width="1.2"/>
<line x1="92.0" y1="530.48" x2="96.5" y2="530.48" stroke="#000" stroke-width="1.2"/>
<line x1="520.0" y1="530.48" x2="515.5" y2="530.48" stroke="#000" stroke-width="1.2"/>
<line x1="92.0" y1="524.95" x2="96.5" y2="524.95" stroke="#000" stroke-width="1.2"/>
<line x1="520.0" y1="524.95" x2="515.5" y2="524.95" stroke="#000" stroke-width="1.2"/>
<line x1="92.0" y1="519.43" x2="96.5" y2="519.43" stroke="#000" stroke-width="1.2"/>
<line x1="520.0" y1="519.43" x2="515.5" y2="519.43" stroke="#000" stroke-width="1.2"/>
<line x1="92.0" y1="508.38" x2="96.5" y2="508.38" stroke="#000" stroke-width="1.2"/>
<line x1="520.0" y1="508.38" x2="515.5" y2="508.38" stroke="#000" stroke-width="1.2"/>
<text x="88.6" y="584.70" font-size="11.8" text-anchor="end" font-family="Liberation Sans, sans-serif" stroke="#000" stroke-width="0.2">200</text>
<text x="88.6" y="562.60" font-size="11.8" text-anchor="end" font-family="Liberation Sans, sans-serif" stroke="#000" stroke-width="0.2">400</text>
<text x="88.6" y="540.50" font-size="11.8" text-anchor="end" font-family="Liberation Sans, sans-serif" stroke="#000" stroke-width="0.2">600</text>
<text x="88.6" y="518.40" font-size="11.8" text-anchor="end" font-family="Liberation Sans, sans-serif" stroke="#000" stroke-width="0.2">800</text>
<rect x="92.0" y="589.4" width="428.0" height="83.39999999999998" fill="none" stroke="#000" stroke-width="1.5"/>
<line x1="92.00" y1="672.8" x2="92.00" y2="668.5999999999999" stroke="#000" stroke-width="1"/>
<line x1="92.00" y1="589.4" x2="92.00" y2="593.6" stroke="#000" stroke-width="1"/>
<line x1="127.67" y1="672.8" x2="127.67" y2="670.5999999999999" stroke="#000" stroke-width="1"/>
<line x1="127.67" y1="589.4" x2="127.67" y2="591.6" stroke="#000" stroke-width="1"/>
<line x1="163.33" y1="672.8" x2="163.33" y2="670.5999999999999" stroke="#000" stroke-width="1"/>
<line x1="163.33" y1="589.4" x2="163.33" y2="591.6" stroke="#000" stroke-width="1"/>
<line x1="199.00" y1="672.8" x2="199.00" y2="668.5999999999999" stroke="#000" stroke-width="1"/>
<line x1="199.00" y1="589.4" x2="199.00" y2="593.6" stroke="#000" stroke-width="1"/>
<line x1="234.67" y1="672.8" x2="234.67" y2="670.5999999999999" stroke="#000" stroke-width="1"/>
<line x1="234.67" y1="589.4" x2="234.67" y2="591.6" stroke="#000" stroke-width="1"/>
<line x1="270.33" y1="672.8" x2="270.33" y2="670.5999999999999" stroke="#000" stroke-width="1"/>
<line x1="270.33" y1="589.4" x2="270.33" y2="591.6" stroke="#000" stroke-width="1"/>
<line x1="306.00" y1="672.8" x2="306.00" y2="668.5999999999999" stroke="#000" stroke-width="1"/>
<line x1="306.00" y1="589.4" x2="306.00" y2="593.6" stroke="#000" stroke-width="1"/>
<line x1="341.67" y1="672.8" x2="341.67" y2="670.5999999999999" stroke="#000" stroke-width="1"/>
<line x1="341.67" y1="589.4" x2="341.67" y2="591.6" stroke="#000" stroke-width="1"/>
<line x1="377.33" y1="672.8" x2="377.33" y2="670.5999999999999" stroke="#000" stroke-width="1"/>
<line x1="377.33" y1="589.4" x2="377.33" y2="591.6" stroke="#000" stroke-width="1"/>
<line x1="413.00" y1="672.8" x2="413.00" y2="668.5999999999999" stroke="#000" stroke-width="1"/>
<line x1="413.00" y1="589.4" x2="413.00" y2="593.6" stroke="#000" stroke-width="1"/>
<line x1="448.67" y1="672.8" x2="448.67" y2="670.5999999999999" stroke="#000" stroke-width="1"/>
<line x1="448.67" y1="589.4" x2="448.67" y2="591.6" stroke="#000" stroke-width="1"/>
<line x1="484.33" y1="672.8" x2="484.33" y2="670.5999999999999" stroke="#000" stroke-width="1"/>
<line x1="484.33" y1="589.4" x2="484.33" y2="591.6" stroke="#000" stroke-width="1"/>
<line x1="520.00" y1="672.8" x2="520.00" y2="668.5999999999999" stroke="#000" stroke-width="1"/>
<line x1="520.00" y1="589.4" x2="520.00" y2="593.6" stroke="#000" stroke-width="1"/>
<line x1="92.0" y1="664.40" x2="101.0" y2="664.40" stroke="#000" stroke-width="1.2"/>
<line x1="520.0" y1="664.40" x2="511.0" y2="664.40" stroke="#000" stroke-width="1.2"/>
<line x1="92.0" y1="642.30" x2="101.0" y2="642.30" stroke="#000" stroke-width="1.2"/>
<line x1="520.0" y1="642.30" x2="511.0" y2="642.30" stroke="#000" stroke-width="1.2"/>
<line x1="92.0" y1="620.20" x2="101.0" y2="620.20" stroke="#000" stroke-width="1.2"/>
<line x1="520.0" y1="620.20" x2="511.0" y2="620.20" stroke="#000" stroke-width="1.2"/>
<line x1="92.0" y1="598.10" x2="101.0" y2="598.10" stroke="#000" stroke-width="1.2"/>
<line x1="520.0" y1="598.10" x2="511.0" y2="598.10" stroke="#000" stroke-width="1.2"/>
<line x1="92.0" y1="669.92" x2="96.5" y2="669.92" stroke="#000" stroke-width="1.2"/>
<line x1="520.0" y1="669.92" x2="515.5" y2="669.92" stroke="#000" stroke-width="1.2"/>
<line x1="92.0" y1="658.88" x2="96.5" y2="658.88" stroke="#000" stroke-width="1.2"/>
<line x1="520.0" y1="658.88" x2="515.5" y2="658.88" stroke="#000" stroke-width="1.2"/>
<line x1="92.0" y1="653.35" x2="96.5" y2="653.35" stroke="#000" stroke-width="1.2"/>
<line x1="520.0" y1="653.35" x2="515.5" y2="653.35" stroke="#000" stroke-width="1.2"/>
<line x1="92.0" y1="647.82" x2="96.5" y2="647.82" stroke="#000" stroke-width="1.2"/>
<line x1="520.0" y1="647.82" x2="515.5" y2="647.82" stroke="#000" stroke-width="1.2"/>
<line x1="92.0" y1="636.77" x2="96.5" y2="636.77" stroke="#000" stroke-width="1.2"/>
<line x1="520.0" y1="636.77" x2="515.5" y2="636.77" stroke="#000" stroke-width="1.2"/>
<line x1="92.0" y1="631.25" x2="96.5" y2="631.25" stroke="#000" stroke-width="1.2"/>
<line x1="520.0" y1="631.25" x2="515.5" y2="631.25" stroke="#000" stroke-width="1.2"/>
<line x1="92.0" y1="625.73" x2="96.5" y2="625.73" stroke="#000" stroke-width="1.2"/>
<line x1="520.0" y1="625.73" x2="515.5" y2="625.73" stroke="#000" stroke-width="1.2"/>
<line x1="92.0" y1="614.67" x2="96.5" y2="614.67" stroke="#000" stroke-width="1.2"/>
<line x1="520.0" y1="614.67" x2="515.5" y2="614.67" stroke="#000" stroke-width="1.2"/>
<line x1="92.0" y1="609.15" x2="96.5" y2="609.15" stroke="#000" stroke-width="1.2"/>
<line x1="520.0" y1="609.15" x2="515.5" y2="609.15" stroke="#000" stroke-width="1.2"/>
<line x1="92.0" y1="603.62" x2="96.5" y2="603.62" stroke="#000" stroke-width="1.2"/>
<line x1="520.0" y1="603.62" x2="515.5" y2="603.62" stroke="#000" stroke-width="1.2"/>
<line x1="92.0" y1="592.57" x2="96.5" y2="592.57" stroke="#000" stroke-width="1.2"/>
<line x1="520.0" y1="592.57" x2="515.5" y2="592.57" stroke="#000" stroke-width="1.2"/>
<text x="88.6" y="668.90" font-size="11.8" text-anchor="end" font-family="Liberation Sans, sans-serif" stroke="#000" stroke-width="0.2">200</text>
<text x="88.6" y="646.80" font-size="11.8" text-anchor="end" font-family="Liberation Sans, sans-serif" stroke="#000" stroke-width="0.2">400</text>
<text x="88.6" y="624.70" font-size="11.8" text-anchor="end" font-family="Liberation Sans, sans-serif" stroke="#000" stroke-width="0.2">600</text>
<text x="88.6" y="602.60" font-size="11.8" text-anchor="end" font-family="Liberation Sans, sans-serif" stroke="#000" stroke-width="0.2">800</text>
<defs><linearGradient id="cb" x1="0" y1="1" x2="0" y2="0">
<stop offset="0" stop-color="#000"/>
<stop offset="0.012" stop-color="#5a0096"/>
<stop offset="0.03" stop-color="#0028ff"/>
<stop offset="0.055" stop-color="#00e6ff"/>
<stop offset="0.13" stop-color="#00ff00"/>
<stop offset="0.285" stop-color="#ffff00"/>
<stop offset="0.45" stop-color="#ff8c00"/>
<stop offset="0.6" stop-color="#ff3200"/>
<stop offset="0.72" stop-color="#ff0000"/>
<stop offset="0.975" stop-color="#ff0000"/>
<stop offset="0.978" stop-color="#000"/>
<stop offset="1" stop-color="#000"/>
</linearGradient></defs>
<rect x="526.2" y="87.00" width="6.4" height="151.40" fill="url(#cb)" stroke="#000" stroke-width="1.2"/>
<text x="535.5" y="95.25" font-size="11.7" font-family="Liberation Sans, sans-serif" stroke-width="0.3" stroke="#000" stroke-width="0.1">200</text>
<text x="535.5" y="130.65" font-size="11.7" font-family="Liberation Sans, sans-serif" stroke-width="0.3" stroke="#000" stroke-width="0.1">150</text>
<text x="535.5" y="167.95" font-size="11.7" font-family="Liberation Sans, sans-serif" stroke-width="0.3" stroke="#000" stroke-width="0.1">100</text>
<text x="535.5" y="205.35" font-size="11.7" font-family="Liberation Sans, sans-serif" stroke-width="0.3" stroke="#000" stroke-width="0.1">50</text>
<text x="535.5" y="239.75" font-size="11.7" font-family="Liberation Sans, sans-serif" stroke-width="0.3" stroke="#000" stroke-width="0.1">0</text>
<text x="567.5" y="162.70" font-size="11.7" text-anchor="middle" transform="rotate(-90 567.5 162.70)" font-family="Liberation Sans, sans-serif" stroke-width="0.3" stroke="#000" stroke-width="0.12" letter-spacing="0.15">current [pA]</text>
<rect x="526.2" y="346.10" width="6.4" height="68.40" fill="url(#cb)" stroke="#000" stroke-width="1.2"/>
<text x="535.5" y="354.35" font-size="11.7" font-family="Liberation Sans, sans-serif" stroke-width="0.3" stroke="#000" stroke-width="0.1">200</text>
<text x="535.5" y="368.25" font-size="11.7" font-family="Liberation Sans, sans-serif" stroke-width="0.3" stroke="#000" stroke-width="0.1">150</text>
<text x="535.5" y="384.75" font-size="11.7" font-family="Liberation Sans, sans-serif" stroke-width="0.3" stroke="#000" stroke-width="0.1">100</text>
<text x="535.5" y="401.75" font-size="11.7" font-family="Liberation Sans, sans-serif" stroke-width="0.3" stroke="#000" stroke-width="0.1">50</text>
<text x="535.5" y="414.45" font-size="11.7" font-family="Liberation Sans, sans-serif" stroke-width="0.3" stroke="#000" stroke-width="0.1">0</text>
<text x="567.5" y="380.30" font-size="11.7" text-anchor="middle" transform="rotate(-90 567.5 380.30)" font-family="Liberation Sans, sans-serif" stroke-width="0.3" stroke="#000" stroke-width="0.12" letter-spacing="0.15">current [pA]</text>
<rect x="526.2" y="429.70" width="6.4" height="68.40" fill="url(#cb)" stroke="#000" stroke-width="1.2"/>
<text x="535.5" y="437.95" font-size="11.7" font-family="Liberation Sans, sans-serif" stroke-width="0.3" stroke="#000" stroke-width="0.1">200</text>
<text x="535.5" y="451.85" font-size="11.7" font-family="Liberation Sans, sans-serif" stroke-width="0.3" stroke="#000" stroke-width="0.1">150</text>
<text x="535.5" y="468.35" font-size="11.7" font-family="Liberation Sans, sans-serif" stroke-width="0.3" stroke="#000" stroke-width="0.1">100</text>
<text x="535.5" y="485.35" font-size="11.7" font-family="Liberation Sans, sans-serif" stroke-width="0.3" stroke="#000" stroke-width="0.1">50</text>
<text x="535.5" y="498.05" font-size="11.7" font-family="Liberation Sans, sans-serif" stroke-width="0.3" stroke="#000" stroke-width="0.1">0</text>
<text x="567.5" y="463.90" font-size="11.7" text-anchor="middle" transform="rotate(-90 567.5 463.90)" font-family="Liberation Sans, sans-serif" stroke-width="0.3" stroke="#000" stroke-width="0.12" letter-spacing="0.15">current [pA]</text>
<rect x="526.2" y="513.50" width="6.4" height="68.40" fill="url(#cb)" stroke="#000" stroke-width="1.2"/>
<text x="535.5" y="521.75" font-size="11.7" font-family="Liberation Sans, sans-serif" stroke-width="0.3" stroke="#000" stroke-width="0.1">200</text>
<text x="535.5" y="535.65" font-size="11.7" font-family="Liberation Sans, sans-serif" stroke-width="0.3" stroke="#000" stroke-width="0.1">150</text>
<text x="535.5" y="552.15" font-size="11.7" font-family="Liberation Sans, sans-serif" stroke-width="0.3" stroke="#000" stroke-width="0.1">100</text>
<text x="535.5" y="569.15" font-size="11.7" font-family="Liberation Sans, sans-serif" stroke-width="0.3" stroke="#000" stroke-width="0.1">50</text>
<text x="535.5" y="581.85" font-size="11.7" font-family="Liberation Sans, sans-serif" stroke-width="0.3" stroke="#000" stroke-width="0.1">0</text>
<text x="567.5" y="547.70" font-size="11.7" text-anchor="middle" transform="rotate(-90 567.5 547.70)" font-family="Liberation Sans, sans-serif" stroke-width="0.3" stroke="#000" stroke-width="0.12" letter-spacing="0.15">current [pA]</text>
<rect x="526.2" y="597.40" width="6.4" height="68.40" fill="url(#cb)" stroke="#000" stroke-width="1.2"/>
<text x="535.5" y="605.65" font-size="11.7" font-family="Liberation Sans, sans-serif" stroke-width="0.3" stroke="#000" stroke-width="0.1">200</text>
<text x="535.5" y="619.55" font-size="11.7" font-family="Liberation Sans, sans-serif" stroke-width="0.3" stroke="#000" stroke-width="0.1">150</text>
<text x="535.5" y="636.05" font-size="11.7" font-family="Liberation Sans, sans-serif" stroke-width="0.3" stroke="#000" stroke-width="0.1">100</text>
<text x="535.5" y="653.05" font-size="11.7" font-family="Liberation Sans, sans-serif" stroke-width="0.3" stroke="#000" stroke-width="0.1">50</text>
<text x="535.5" y="665.75" font-size="11.7" font-family="Liberation Sans, sans-serif" stroke-width="0.3" stroke="#000" stroke-width="0.1">0</text>
<text x="567.5" y="631.60" font-size="11.7" text-anchor="middle" transform="rotate(-90 567.5 631.60)" font-family="Liberation Sans, sans-serif" stroke-width="0.3" stroke="#000" stroke-width="0.12" letter-spacing="0.15">current [pA]</text>
<path d="M318.5 285.0C318.6 284.4 319.0 281.3 319.3 281.2C319.6 281.1 320.1 284.1 320.5 284.2C320.9 284.3 321.2 282.6 322.0 282.0C322.8 281.4 324.0 281.1 325.0 280.5C326.0 279.9 327.0 278.4 328.0 278.5C329.0 278.6 329.8 280.0 331.0 281.0C332.2 282.0 333.8 284.0 335.0 284.4C336.2 284.8 336.8 283.4 338.0 283.2C339.2 283.0 340.8 282.4 342.0 283.0C343.2 283.6 344.0 287.8 345.0 287.0C346.0 286.2 347.0 277.7 348.0 278.5C349.0 279.3 349.7 291.5 351.0 291.6C352.3 291.7 354.8 279.1 356.0 279.0C357.2 278.9 357.5 290.8 358.5 291.0C359.5 291.2 360.9 280.7 362.0 280.5C363.1 280.3 363.8 289.9 365.0 290.0C366.2 290.1 367.5 281.3 369.0 281.0C370.5 280.7 372.5 287.8 374.0 288.0C375.5 288.2 376.7 281.8 378.0 282.0C379.3 282.2 380.7 289.0 382.0 289.0C383.3 289.0 384.8 282.3 386.0 282.0C387.2 281.7 388.2 286.8 389.0 287.0C389.8 287.2 390.2 284.1 391.0 283.0C391.8 281.9 393.1 279.3 394.0 280.5C394.9 281.7 395.7 290.0 396.5 290.0C397.3 290.0 398.1 280.7 399.0 280.5C399.9 280.3 401.0 289.1 402.0 289.0C403.0 288.9 404.0 279.8 405.0 280.0C406.0 280.2 407.0 290.1 408.0 290.0C409.0 289.9 410.0 280.5 411.0 279.5C412.0 278.5 412.8 282.8 414.0 284.0C415.2 285.2 416.7 287.5 418.0 287.0C419.3 286.5 420.5 281.2 422.0 281.0C423.5 280.8 425.2 285.5 427.0 286.0C428.8 286.5 431.0 284.8 433.0 284.0C435.0 283.2 437.3 280.3 439.0 281.0C440.7 281.7 441.8 287.7 443.0 288.0C444.2 288.3 445.0 283.2 446.0 283.0C447.0 282.8 447.5 286.8 449.0 287.0C450.5 287.2 453.2 284.2 455.0 284.0C456.8 283.8 458.3 285.7 460.0 285.8C461.7 285.9 463.3 285.1 465.0 284.5C466.7 283.9 468.5 282.1 470.0 282.5C471.5 282.9 472.7 286.4 474.0 287.0C475.3 287.6 477.0 285.6 478.0 286.0C479.0 286.4 479.5 291.2 480.0 289.5C480.5 287.8 480.3 276.4 481.0 276.0C481.7 275.6 483.0 284.5 484.0 287.0C485.0 289.5 486.2 292.5 487.0 291.0C487.8 289.5 488.2 277.9 489.0 278.0C489.8 278.1 490.7 291.2 492.0 291.5C493.3 291.8 495.5 279.4 497.0 279.5C498.5 279.6 499.7 291.9 501.0 292.0C502.3 292.1 503.8 280.3 505.0 280.0C506.2 279.7 507.0 290.2 508.0 290.0C509.0 289.8 510.0 278.2 511.0 279.0C512.0 279.8 513.2 295.3 514.0 295.0C514.8 294.7 515.3 279.0 516.0 277.0C516.7 275.0 517.4 282.3 518.0 283.0C518.6 283.7 519.2 281.3 519.5 281.0" fill="none" stroke="#80f000" stroke-width="1.3" stroke-linejoin="round"/>
<path d="M318.5 279.8C318.7 278.3 319.2 270.8 319.5 270.7C319.8 270.6 320.2 279.4 320.5 279.0C320.8 278.6 320.8 270.3 321.2 268.5C321.6 266.7 322.1 268.0 322.6 268.1C323.1 268.1 323.5 268.9 324.0 268.8C324.5 268.7 325.0 267.6 325.5 267.4C326.0 267.3 326.5 267.7 327.0 267.8C327.5 267.9 328.0 268.0 328.5 268.2C329.0 268.3 329.5 268.6 330.0 268.7C330.5 268.8 330.9 268.9 331.3 268.7C331.8 268.6 332.2 268.0 332.7 267.8C333.1 267.6 333.6 267.6 334.0 267.6C334.4 267.6 334.9 267.9 335.3 267.8C335.8 267.7 336.2 267.1 336.7 267.2C337.1 267.3 337.6 268.2 338.0 268.3C338.4 268.4 338.9 267.9 339.3 267.9C339.8 267.9 340.2 268.5 340.7 268.4C341.1 268.2 341.5 267.2 342.0 267.2C342.5 267.2 343.0 268.0 343.5 268.1C344.0 268.2 344.4 268.1 345.0 267.8C345.6 267.5 346.4 266.2 347.0 266.1C347.6 266.0 348.0 267.0 348.5 267.2C349.0 267.4 349.5 267.5 350.0 267.5C350.5 267.5 351.0 267.0 351.5 267.0C352.0 267.1 352.4 267.5 353.0 268.0C353.6 268.5 354.4 269.8 355.0 270.0C355.6 270.2 356.0 269.7 356.5 269.2C357.0 268.7 357.5 267.2 358.0 267.0C358.5 266.8 359.0 267.8 359.5 267.9C360.0 268.0 360.5 267.6 361.0 267.5C361.5 267.4 362.0 267.2 362.5 267.3C363.0 267.5 363.5 268.3 364.0 268.4C364.5 268.5 365.0 268.2 365.5 268.0C366.0 267.8 366.5 267.4 367.0 267.2C367.5 267.0 368.0 266.6 368.5 266.7C369.0 266.9 369.5 268.0 370.0 268.0C370.5 268.0 371.0 266.9 371.5 266.7C372.0 266.4 372.5 266.7 373.0 266.7C373.5 266.7 374.0 266.7 374.5 266.8C375.0 267.0 375.5 267.6 376.0 267.6C376.5 267.6 376.9 266.7 377.3 266.7C377.8 266.7 378.2 267.5 378.7 267.5C379.1 267.5 379.6 266.7 380.0 266.7C380.4 266.7 380.9 267.6 381.3 267.6C381.8 267.7 382.2 267.1 382.7 267.2C383.1 267.2 383.6 267.8 384.0 267.8C384.4 267.8 384.9 267.5 385.3 267.3C385.8 267.1 386.2 266.7 386.7 266.7C387.1 266.7 387.5 267.2 388.0 267.2C388.5 267.2 389.0 266.7 389.5 266.9C390.0 267.0 390.5 267.8 391.0 268.0C391.5 268.2 392.0 268.0 392.5 267.8C393.0 267.6 393.5 266.9 394.0 266.8C394.5 266.7 394.9 267.3 395.3 267.2C395.8 267.2 396.2 266.5 396.7 266.5C397.1 266.6 397.6 267.4 398.0 267.6C398.4 267.8 398.9 267.7 399.3 267.8C399.8 267.8 400.2 267.8 400.7 267.9C401.1 268.0 401.5 268.2 402.0 268.3C402.5 268.4 403.0 268.5 403.5 268.3C404.0 268.1 404.5 267.1 405.0 267.0C405.5 266.9 406.0 267.7 406.5 267.8C407.0 267.9 407.5 267.8 408.0 267.8C408.5 267.8 408.9 267.8 409.3 267.7C409.8 267.6 410.2 267.4 410.7 267.3C411.1 267.2 411.6 266.7 412.0 266.9C412.4 267.1 412.9 267.9 413.3 268.2C413.8 268.5 414.2 268.7 414.7 268.8C415.1 268.8 415.6 268.5 416.0 268.4C416.4 268.3 416.9 268.3 417.3 268.3C417.8 268.3 418.2 268.2 418.7 268.3C419.1 268.4 419.6 268.9 420.0 269.0C420.4 269.1 420.9 269.3 421.3 269.0C421.8 268.7 422.2 267.5 422.7 267.2C423.1 267.0 423.6 267.5 424.0 267.5C424.4 267.5 424.9 267.5 425.3 267.4C425.8 267.3 426.2 267.0 426.7 267.1C427.1 267.2 427.6 268.0 428.0 268.0C428.4 268.0 428.9 267.6 429.3 267.3C429.8 267.1 430.2 266.6 430.7 266.6C431.1 266.5 431.6 266.9 432.0 267.0C432.4 267.1 432.9 266.7 433.3 266.9C433.8 267.1 434.2 267.9 434.7 268.1C435.1 268.2 435.6 267.8 436.0 267.8C436.4 267.8 436.9 268.2 437.3 268.2C437.8 268.2 438.2 267.9 438.7 267.7C439.1 267.5 439.6 267.0 440.0 266.9C440.4 266.8 440.9 267.1 441.3 267.2C441.8 267.4 442.2 267.5 442.7 267.6C443.1 267.6 443.6 267.6 444.0 267.6C444.4 267.6 444.9 267.6 445.3 267.6C445.8 267.5 446.2 267.3 446.7 267.4C447.1 267.5 447.6 268.1 448.0 268.2C448.4 268.3 448.9 267.8 449.3 267.8C449.8 267.8 450.2 268.2 450.7 268.1C451.1 268.0 451.6 267.6 452.0 267.4C452.4 267.2 452.9 267.0 453.3 267.0C453.8 267.0 454.2 267.1 454.7 267.3C455.1 267.6 455.6 268.4 456.0 268.6C456.4 268.8 456.9 268.9 457.3 268.8C457.8 268.6 458.2 267.8 458.7 267.6C459.1 267.4 459.6 267.5 460.0 267.6C460.4 267.7 460.9 267.8 461.3 267.9C461.8 267.9 462.2 268.0 462.7 267.9C463.1 267.8 463.6 267.3 464.0 267.4C464.4 267.5 464.9 268.3 465.3 268.3C465.8 268.3 466.2 267.6 466.7 267.5C467.1 267.4 467.6 267.8 468.0 267.8C468.4 267.8 468.9 267.3 469.3 267.3C469.8 267.4 470.2 268.0 470.7 268.0C471.1 267.9 471.6 267.2 472.0 267.2C472.4 267.2 472.9 267.7 473.3 267.8C473.8 267.9 474.2 267.8 474.7 267.7C475.1 267.7 475.6 267.5 476.0 267.6C476.4 267.7 476.9 268.3 477.3 268.4C477.8 268.5 478.2 268.3 478.7 268.3C479.1 268.2 479.6 267.6 480.0 268.2C480.4 268.8 480.6 271.5 481.0 272.0C481.4 272.5 482.0 271.7 482.5 271.2C483.0 270.6 483.5 268.9 484.0 268.7C484.5 268.5 485.0 269.5 485.5 270.1C486.0 270.6 486.5 271.9 487.0 272.0C487.5 272.1 488.0 271.1 488.5 270.4C489.0 269.8 489.4 268.0 490.0 268.0C490.6 268.0 491.4 269.8 492.0 270.5C492.6 271.2 493.0 271.8 493.5 272.1C494.0 272.3 494.4 272.5 495.0 272.0C495.6 271.5 496.4 269.6 497.0 269.0C497.6 268.4 498.0 268.4 498.5 268.2C499.0 268.0 499.4 267.7 500.0 268.0C500.6 268.3 501.4 269.5 502.0 270.0C502.6 270.5 503.0 270.5 503.5 270.7C504.0 270.9 504.5 271.2 505.0 271.0C505.5 270.8 506.0 269.9 506.5 269.5C507.0 269.1 507.4 268.6 508.0 268.5C508.6 268.4 509.4 268.8 510.0 269.0C510.6 269.2 511.0 269.4 511.5 269.7C512.0 269.9 512.4 270.2 513.0 270.5C513.6 270.8 514.5 269.8 515.0 271.5C515.5 273.2 515.7 281.2 516.0 281.0C516.3 280.8 516.5 272.4 517.0 270.5C517.5 268.6 518.5 269.6 519.0 269.5C519.5 269.4 519.8 269.9 520.0 270.0" fill="none" stroke="#ff0000" stroke-width="1.3" stroke-linejoin="round"/>
<rect x="318.3" y="270.5" width="2.4" height="9.5" fill="#ff1010"/>
<rect x="318.3" y="281" width="3" height="4.5" fill="#70e000"/>
<text x="433.0" y="256.6" font-size="10" letter-spacing="0.85" fill="#ff0000" font-family="Liberation Sans, sans-serif" stroke-width="0.3">inflow azimuth</text>
<text x="434.8" y="266.3" font-size="10" letter-spacing="0.85" fill="#80f000" font-family="Liberation Sans, sans-serif" stroke-width="0.3">inflow attitude</text>
<text x="102.2" y="89.3" font-size="11" font-weight="bold" letter-spacing="-1.6" font-family="Liberation Sans, sans-serif" stroke="#000" stroke-width="0.2">TOTAL</text>
<line x1="97.0" y1="345.3" x2="101.5" y2="345.3" stroke="#000" stroke-width="1.2"/>
<text x="101.3" y="349.10" font-size="10.8" font-weight="bold" font-family="Liberation Sans, sans-serif" stroke="#000" stroke-width="0.2">A sensor</text>
<line x1="97.0" y1="429.2" x2="101.5" y2="429.2" stroke="#000" stroke-width="1.2"/>
<text x="101.3" y="433.00" font-size="10.8" font-weight="bold" font-family="Liberation Sans, sans-serif" stroke="#000" stroke-width="0.2">B sensor</text>
<line x1="97.0" y1="513.0" x2="101.5" y2="513.0" stroke="#000" stroke-width="1.2"/>
<text x="101.3" y="516.80" font-size="10.8" font-weight="bold" font-family="Liberation Sans, sans-serif" stroke="#000" stroke-width="0.2">C sensor</text>
<line x1="97.0" y1="597.1" x2="101.5" y2="597.1" stroke="#000" stroke-width="1.2"/>
<text x="101.3" y="600.90" font-size="10.8" font-weight="bold" font-family="Liberation Sans, sans-serif" stroke="#000" stroke-width="0.2">D sensor</text>
<g transform="translate(59.2 163.6) rotate(-90)"><text x="0" y="0" text-anchor="middle" font-family="Liberation Sans, sans-serif" stroke="#000" stroke-width="0.2"><tspan font-size="11" font-weight="bold">v</tspan><tspan font-size="7.5" font-weight="bold" dy="2.6">eq</tspan><tspan dy="-2.6" font-size="11" letter-spacing="2.4"> </tspan><tspan font-size="15" stroke-width="0.1">[</tspan><tspan font-size="11.2" letter-spacing="0.9" stroke-width="0.1">km/s</tspan><tspan font-size="15" stroke-width="0.1">]</tspan></text></g>
<g transform="translate(59.2 381.0) rotate(-90)"><text x="0" y="0" text-anchor="middle" font-family="Liberation Sans, sans-serif" stroke="#000" stroke-width="0.2"><tspan font-size="11" font-weight="bold">v</tspan><tspan font-size="7.5" font-weight="bold" dy="2.6">eq</tspan><tspan dy="-2.6" font-size="11" letter-spacing="2.4"> </tspan><tspan font-size="15" stroke-width="0.1">[</tspan><tspan font-size="11.2" letter-spacing="0.9" stroke-width="0.1">km/s</tspan><tspan font-size="15" stroke-width="0.1">]</tspan></text></g>
<g transform="translate(59.2 464.6) rotate(-90)"><text x="0" y="0" text-anchor="middle" font-family="Liberation Sans, sans-serif" stroke="#000" stroke-width="0.2"><tspan font-size="11" font-weight="bold">v</tspan><tspan font-size="7.5" font-weight="bold" dy="2.6">eq</tspan><tspan dy="-2.6" font-size="11" letter-spacing="2.4"> </tspan><tspan font-size="15" stroke-width="0.1">[</tspan><tspan font-size="11.2" letter-spacing="0.9" stroke-width="0.1">km/s</tspan><tspan font-size="15" stroke-width="0.1">]</tspan></text></g>
<g transform="translate(59.2 548.4) rotate(-90)"><text x="0" y="0" text-anchor="middle" font-family="Liberation Sans, sans-serif" stroke="#000" stroke-width="0.2"><tspan font-size="11" font-weight="bold">v</tspan><tspan font-size="7.5" font-weight="bold" dy="2.6">eq</tspan><tspan dy="-2.6" font-size="11" letter-spacing="2.4"> </tspan><tspan font-size="15" stroke-width="0.1">[</tspan><tspan font-size="11.2" letter-spacing="0.9" stroke-width="0.1">km/s</tspan><tspan font-size="15" stroke-width="0.1">]</tspan></text></g>
<g transform="translate(59.2 632.1) rotate(-90)"><text x="0" y="0" text-anchor="middle" font-family="Liberation Sans, sans-serif" stroke="#000" stroke-width="0.2"><tspan font-size="11" font-weight="bold">v</tspan><tspan font-size="7.5" font-weight="bold" dy="2.6">eq</tspan><tspan dy="-2.6" font-size="11" letter-spacing="2.4"> </tspan><tspan font-size="15" stroke-width="0.1">[</tspan><tspan font-size="11.2" letter-spacing="0.9" stroke-width="0.1">km/s</tspan><tspan font-size="15" stroke-width="0.1">]</tspan></text></g>
<g transform="translate(57.6 289) rotate(-90)"><text x="0" y="0" text-anchor="middle" font-family="Liberation Sans, sans-serif" stroke-width="0.3" stroke="#000" stroke-width="0.15"><tspan font-size="10.8" letter-spacing="0.7">angle </tspan><tspan font-size="14">[</tspan><tspan font-size="10.5">°</tspan><tspan font-size="14">]</tspan></text></g>
<text x="92.00" y="688.8" font-size="11.7" text-anchor="middle" font-family="Liberation Sans, sans-serif" stroke="#000" stroke-width="0.2">00:00</text>
<text x="199.00" y="688.8" font-size="11.7" text-anchor="middle" font-family="Liberation Sans, sans-serif" stroke="#000" stroke-width="0.2">06:00</text>
<text x="306.00" y="688.8" font-size="11.7" text-anchor="middle" font-family="Liberation Sans, sans-serif" stroke="#000" stroke-width="0.2">12:00</text>
<text x="413.00" y="688.8" font-size="11.7" text-anchor="middle" font-family="Liberation Sans, sans-serif" stroke="#000" stroke-width="0.2">18:00</text>
<text x="520.00" y="688.8" font-size="11.7" text-anchor="middle" font-family="Liberation Sans, sans-serif" stroke="#000" stroke-width="0.2">00:00</text>
<text x="305.8" y="701.9" font-size="11.7" text-anchor="middle" letter-spacing="0.25" font-family="Liberation Sans, sans-serif" stroke="#000" stroke-width="0.2">2023−01−25</text>
<text x="304.5" y="73.0" font-size="12.3" text-anchor="middle" word-spacing="3.2" letter-spacing="0.72" font-family="Liberation Sans, sans-serif" stroke-width="0.3">SPC ion mode quick look, mode 1</text>
<text x="65" y="759.9" font-size="8" letter-spacing="0.45" font-family="Liberation Sans, sans-serif" stroke-width="0.3" stroke="#000" stroke-width="0.25">Generated on Fri Feb 24 17:12:27 2023 by mstevens@cfa.harvard.edu</text>
<text x="65" y="767.9" font-size="8" letter-spacing="0.3" font-family="Liberation Sans, sans-serif" stroke-width="0.3" stroke="#000" stroke-width="0.25">For browse purposes only.</text>
</svg></body></html>
